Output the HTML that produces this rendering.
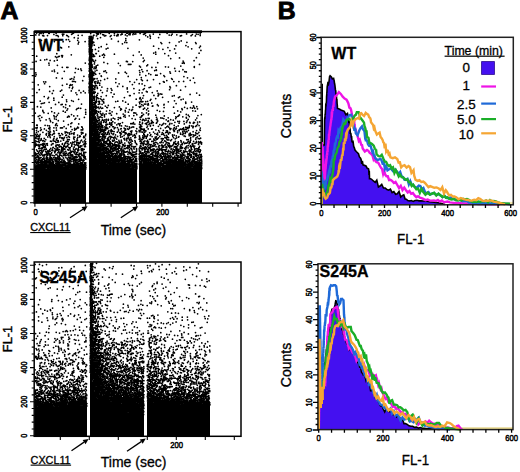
<!DOCTYPE html>
<html><head><meta charset="utf-8"><style>
html,body{margin:0;padding:0;background:#fff;width:520px;height:472px;overflow:hidden}
</style></head><body>
<svg width="520" height="472" viewBox="0 0 520 472" style="position:absolute;left:0;top:0">
<g font-family='"Liberation Sans", sans-serif' fill="#000">
<text x="0.4" y="19.4" font-size="24.8" font-weight="bold" stroke="#000" stroke-width="0.9">A</text>
<text x="277.8" y="19.4" font-size="24.8" font-weight="bold" stroke="#000" stroke-width="0.9">B</text>
<path d="M89 93.5h1M89 94.5h1M89 95.5h1M89 96.5h1M89 97.5h1M89 98.5h1M89 99.5h1M89 100.5h1M89 101.5h1M89 102.5h1M89 103.5h1M89 104.5h1M89 105.5h1M89 106.5h1M89 107.5h1M89 108.5h1M89 109.5h1M89 110.5h1M89 111.5h1M89 112.5h1M89 113.5h1M89 114.5h2M89 115.5h2M89 116.5h2M89 117.5h2M89 118.5h2M89 119.5h2M89 120.5h3M89 121.5h3M89 122.5h3M89 123.5h3M89 124.5h3M89 125.5h3M89 126.5h3M89 127.5h3M89 128.5h3M89 129.5h3M89 130.5h3M89 131.5h3M89 132.5h3M89 133.5h3M89 134.5h3M89 135.5h3M89 136.5h3M89 137.5h3M89 138.5h3M89 139.5h3M89 140.5h3M89 141.5h3M89 142.5h4M89 143.5h4M89 144.5h4M89 145.5h4M89 146.5h4M89 147.5h5M89 148.5h5M89 149.5h6M89 150.5h6M89 151.5h6M89 152.5h6M89 153.5h6M89 154.5h6M89 155.5h7M89 156.5h7M89 157.5h7M89 158.5h7M89 159.5h7M89 160.5h8M89 161.5h8M89 162.5h9M89 163.5h9M89 164.5h10M89 165.5h10m40 0h3M89 166.5h11m39 0h6M89 167.5h13m37 0h10M89 168.5h20m30 0h61M35 169.5h51m3 0h48m2 0h63M35 170.5h51m3 0h48m2 0h63M35 171.5h51m3 0h48m2 0h63M35 172.5h51m3 0h48m2 0h63M35 173.5h51m3 0h48m2 0h63M35 174.5h51m3 0h48m2 0h63M35 175.5h51m3 0h48m2 0h63M35 176.5h51m3 0h48m2 0h63M35 177.5h51m3 0h48m2 0h63M35 178.5h51m3 0h48m2 0h63M35 179.5h51m3 0h48m2 0h63M35 180.5h51m3 0h48m2 0h63M35 181.5h51m3 0h48m2 0h63M35 182.5h51m3 0h48m2 0h63M35 183.5h51m3 0h48m2 0h63M35 184.5h51m3 0h48m2 0h63M35 185.5h51m3 0h48m2 0h63M35 186.5h51m3 0h48m2 0h63M35 187.5h51m3 0h48m2 0h63M35 188.5h51m3 0h48m2 0h63M35 189.5h51m3 0h48m2 0h63M35 190.5h51m3 0h48m2 0h63M35 191.5h51m3 0h48m2 0h63M35 192.5h51m3 0h48m2 0h63M35 193.5h51m3 0h48m2 0h63M35 194.5h51m3 0h48m2 0h63M35 195.5h51m3 0h48m2 0h63M35 196.5h51m3 0h48m2 0h63M35 197.5h51m3 0h48m2 0h63M35 198.5h51m3 0h48m2 0h63M35 199.5h51m3 0h48m2 0h63M35 200.5h51m3 0h48m2 0h63M35 201.5h51m3 0h48m2 0h63M35 202.5h51m3 0h48m2 0h63" stroke="#000" stroke-width="1" fill="none" shape-rendering="crispEdges"/>
<path d="M36.6 33.1h0M39.5 33.1h0M41.1 33.4h0M43.3 33.6h0M48.8 33.3h0M49.2 33.3h0M56.1 33.2h0M72.4 33.7h0M73.5 33.1h0M90.7 33.6h0M96.5 33.2h0M97.1 33.7h0M98.3 33.4h0M100.5 33.5h0M109.2 33.3h0M114.4 33.4h0M121.9 33.8h0M126.6 33.1h0M127.2 33.2h0M129.1 33.2h0M130.4 33.1h0M133.3 33.4h0M135.8 33.9h0M140.1 33.4h0M144.9 33.5h0M145.5 33.1h0M167.1 33.3h0M186.6 33.9h0M200.2 33.9h0M35.8 34.9h0M39.1 34.9h0M53.9 34.4h0M62.4 34.2h0M63.8 34.2h0M71.6 34.3h0M97.2 34.4h0M98.3 34.1h0M102.7 34.6h0M103.8 34.9h0M117.5 34.4h0M118.3 34.6h0M120.9 34.8h0M122.3 34.1h0M125.4 34.9h0M128.9 34.6h0M130.1 34.7h0M132.9 34.6h0M134.8 34.1h0M143.5 34.3h0M144.2 34.1h0M153.3 34.1h0M159.8 34.4h0M172.2 34.1h0M176.8 34.8h0M192.4 34.5h0M196.3 34.1h0M198.1 34.3h0M42.7 35.6h0M43.8 35.9h0M47.5 35.5h0M56.2 35.4h0M57.8 35.6h0M62.8 35.7h0M66.7 35.3h0M67.3 35.7h0M78.2 35.3h0M82.1 35.3h0M93.9 35.2h0M96.5 35.8h0M104.5 35.9h0M105.8 35.5h0M111.1 35.5h0M114.4 35.3h0M116.7 35.8h0M117.9 35.7h0M127.1 35.8h0M145.7 35.5h0M149.9 35.2h0M169.2 35.1h0M171.3 35.3h0M180.3 35.9h0M181.5 35.6h0M191.1 35.7h0M195.4 35.9h0M200.2 35.5h0M58.3 36.5h0M68.5 36.7h0M89.2 36.7h0M89.9 36.5h0M90.3 36.4h0M91.2 36.4h0M93.1 36.1h0M110.3 36.4h0M147.7 36.9h0M150.3 36.5h0M74.3 37.7h0M89.7 37.4h0M89.3 37.9h0M90.6 37.4h0M91.9 37.4h0M93.1 37.9h0M100.5 37.6h0M158.6 37.5h0M78.1 38.2h0M89.1 38.4h0M89.4 38.3h0M90.6 38.2h0M91.2 38.9h0M92.1 38.6h0M97.6 38.6h0M111.5 38.9h0M125.8 38.7h0M150.3 38.3h0M46.3 39.3h0M66.2 39.7h0M68.5 39.5h0M89.4 39.4h0M90.1 39.8h0M90.2 39.3h0M91.5 39.4h0M92.5 39.5h0M139.4 39.8h0M41.4 40.4h0M77.7 40.3h0M89.1 40.8h0M90.2 40.8h0M91.1 40.9h0M92.1 40.2h0M125.8 40.5h0M181.2 40.9h0M54.4 41.6h0M63.1 41.7h0M69.7 41.3h0M85.1 41.6h0M89.1 41.3h0M90.8 41.5h0M90.4 41.6h0M91.7 41.2h0M92.6 41.6h0M118.3 41.4h0M179.1 41.9h0M78.7 42.2h0M89.1 42.9h0M90.5 42.4h0M91.6 42.2h0M92.7 42.5h0M93.8 42.3h0M124.8 42.4h0M126.8 42.5h0M160.9 42.5h0M169.5 42.5h0M186.9 42.3h0M195.6 42.6h0M78.2 43.9h0M89.3 43.7h0M89.5 43.9h0M90.3 43.5h0M91.3 43.3h0M92.6 43.9h0M122.4 43.8h0M161.7 43.6h0M196.1 43.6h0M89.1 44.3h0M90.7 44.2h0M91.3 44.6h0M106.7 44.3h0M89.2 45.8h0M90.3 45.4h0M91.1 45.8h0M92.1 45.8h0M94.3 45.2h0M175.9 45.7h0M185.9 45.6h0M68.8 46.8h0M89.3 46.5h0M90.8 46.9h0M91.8 46.1h0M101.2 46.7h0M153.6 46.2h0M188.1 46.8h0M200.4 46.2h0M60.6 47.4h0M61.5 47.9h0M89.7 47.7h0M90.4 47.5h0M91.4 47.3h0M98.8 47.5h0M167.9 47.6h0M199.5 47.6h0M89.2 48.8h0M90.7 48.8h0M91.5 48.9h0M106.2 48.9h0M107.9 48.2h0M127.9 48.3h0M158.7 48.6h0M174.6 48.9h0M191.7 48.8h0M89.3 49.4h0M89.4 49.1h0M90.6 49.1h0M90.7 49.3h0M91.3 49.8h0M91.6 49.8h0M92.4 49.8h0M95.4 49.4h0M162.9 49.3h0M89.3 50.5h0M89.5 50.7h0M90.7 50.2h0M91.9 50.9h0M169.9 50.5h0M200.9 50.4h0M89.2 51.5h0M89.5 51.9h0M90.7 51.4h0M91.7 51.9h0M92.1 51.6h0M98.5 51.1h0M139.2 51.9h0M89.4 52.9h0M89.3 52.1h0M90.7 52.7h0M91.2 52.3h0M155.6 52.2h0M56.8 53.7h0M89.9 53.7h0M90.4 53.7h0M91.8 53.2h0M91.2 53.6h0M92.1 53.8h0M95.9 53.5h0M96.3 53.6h0M153.7 53.1h0M164.8 53.6h0M175.7 53.1h0M199.1 53.2h0M71.3 54.8h0M89.5 54.6h0M90.4 54.9h0M91.1 54.2h0M93.3 54.7h0M103.7 54.2h0M114.4 54.2h0M141.2 54.9h0M155.8 54.2h0M61.6 55.5h0M62.5 55.7h0M89.9 55.4h0M90.9 55.3h0M91.9 55.5h0M93.8 55.2h0M102.4 55.2h0M104.6 55.3h0M133.3 55.3h0M168.5 55.7h0M36.7 56.2h0M55.5 56.7h0M58.2 56.7h0M59.3 56.3h0M62.2 56.9h0M89.7 56.4h0M90.8 56.8h0M90.6 56.2h0M91.8 56.8h0M92.6 56.6h0M93.2 56.6h0M94.6 56.3h0M99.7 56.2h0M56.7 57.6h0M89.4 57.8h0M89.8 57.8h0M90.2 57.9h0M91.6 57.1h0M103.8 57.3h0M179.5 57.9h0M196.4 57.7h0M89.4 58.4h0M90.2 58.8h0M91.8 58.7h0M143.2 58.1h0M170.7 58.6h0M44.8 59.8h0M46.8 59.4h0M89.2 59.8h0M89.7 59.3h0M90.6 59.1h0M91.2 59.6h0M92.9 59.9h0M40.5 60.2h0M50.1 60.4h0M54.4 60.9h0M57.2 60.2h0M89.3 60.2h0M89.2 60.6h0M90.2 60.5h0M91.4 60.5h0M91.1 60.4h0M92.7 60.3h0M95.5 60.4h0M144.3 60.4h0M194.1 60.7h0M36.1 61.4h0M89.8 61.6h0M90.7 61.3h0M90.4 61.1h0M91.5 61.7h0M93.4 61.1h0M126.4 61.4h0M127.4 61.7h0M132.7 61.6h0M143.3 61.6h0M183.1 61.1h0M89.6 62.8h0M90.4 62.8h0M91.4 62.5h0M94.6 62.1h0M103.9 62.4h0M157.7 62.7h0M183.8 62.3h0M48.9 63.2h0M85.3 63.1h0M89.8 63.9h0M89.1 63.7h0M90.9 63.4h0M90.1 63.9h0M91.4 63.4h0M94.4 63.9h0M107.6 63.6h0M118.4 63.3h0M182.4 63.2h0M184.2 63.3h0M89.1 64.2h0M90.4 64.4h0M91.6 64.4h0M92.2 64.9h0M128.4 64.4h0M129.8 64.4h0M130.9 64.3h0M147.7 64.8h0M199.5 64.4h0M49.1 65.1h0M57.4 65.3h0M89.5 65.9h0M90.6 65.9h0M90.5 65.5h0M91.9 65.6h0M96.3 65.8h0M97.8 65.1h0M120.3 65.5h0M146.8 65.8h0M89.8 66.8h0M89.8 66.2h0M90.5 66.4h0M90.8 66.7h0M91.9 66.2h0M92.6 66.9h0M96.1 66.5h0M139.5 66.1h0M165.5 66.8h0M180.8 66.1h0M194.3 66.6h0M62.3 67.3h0M66.8 67.3h0M67.9 67.3h0M89.8 67.6h0M89.9 67.8h0M90.7 67.3h0M91.4 67.5h0M92.6 67.4h0M94.7 67.1h0M96.2 67.5h0M140.5 67.1h0M151.9 67.4h0M155.9 67.3h0M168.4 67.1h0M194.3 67.3h0M75.7 68.4h0M80.8 68.9h0M89.3 68.3h0M90.5 68.4h0M90.8 68.8h0M91.2 68.6h0M94.1 68.7h0M95.8 68.6h0M174.7 68.4h0M78.3 69.2h0M89.8 69.4h0M89.6 69.3h0M90.2 69.4h0M90.4 69.5h0M91.4 69.8h0M91.3 69.9h0M141.8 69.5h0M156.3 69.8h0M182.9 69.7h0M54.3 70.1h0M81.4 70.4h0M89.3 70.3h0M89.9 70.6h0M90.1 70.5h0M91.9 70.1h0M96.9 70.3h0M105.4 70.9h0M139.5 70.6h0M147.1 70.7h0M154.7 70.6h0M156.4 70.3h0M52.1 71.1h0M54.5 71.6h0M64.3 71.3h0M89.3 71.3h0M90.1 71.4h0M90.1 71.9h0M91.8 71.1h0M92.7 71.8h0M95.1 71.1h0M103.9 71.4h0M142.7 71.7h0M169.9 71.8h0M175.5 71.1h0M179.3 71.3h0M184.8 71.7h0M186.3 71.9h0M35.8 72.8h0M75.1 72.6h0M89.8 72.9h0M90.7 72.6h0M91.7 72.2h0M92.3 72.8h0M93.7 72.5h0M106.5 72.5h0M118.6 72.9h0M125.2 72.2h0M139.9 72.5h0M57.6 73.1h0M89.8 73.2h0M90.5 73.9h0M91.2 73.2h0M92.8 73.1h0M93.9 73.3h0M94.8 73.2h0M99.6 73.6h0M126.5 73.3h0M148.8 73.7h0M160.6 73.6h0M170.4 73.2h0M36.1 74.6h0M89.5 74.6h0M89.2 74.7h0M90.3 74.8h0M91.7 74.5h0M92.1 74.4h0M93.9 74.9h0M95.8 74.3h0M139.8 74.8h0M150.8 74.6h0M89.7 75.6h0M89.8 75.7h0M90.6 75.6h0M90.1 75.4h0M91.4 75.6h0M91.7 75.8h0M92.4 75.5h0M93.2 75.2h0M101.2 75.9h0M145.8 75.6h0M155.7 75.2h0M157.1 75.2h0M163.9 75.5h0M35.5 76.1h0M83.9 76.3h0M89.1 76.2h0M89.8 76.5h0M90.3 76.5h0M90.3 76.9h0M91.3 76.6h0M91.5 76.6h0M92.5 76.3h0M101.4 76.3h0M128.2 76.4h0M164.6 76.5h0M183.9 76.6h0M56.4 77.9h0M74.3 77.1h0M89.7 77.4h0M89.3 77.7h0M90.2 77.3h0M90.1 77.1h0M91.2 77.9h0M91.7 77.8h0M92.5 77.9h0M141.3 77.5h0M187.5 77.8h0M62.2 78.4h0M71.8 78.7h0M89.9 78.7h0M90.2 78.3h0M90.5 78.1h0M91.2 78.9h0M92.9 78.2h0M93.4 78.8h0M94.8 78.5h0M97.1 78.7h0M107.5 78.3h0M115.8 78.9h0M171.6 78.5h0M193.4 78.1h0M70.2 79.2h0M73.8 79.1h0M89.5 79.6h0M90.6 79.9h0M90.8 79.9h0M91.4 79.4h0M92.1 79.3h0M93.9 79.4h0M104.6 79.4h0M136.7 79.6h0M141.4 79.5h0M153.5 79.5h0M172.3 79.3h0M82.7 80.7h0M89.7 80.8h0M89.9 80.4h0M90.4 80.5h0M91.1 80.6h0M92.4 80.8h0M93.2 80.1h0M98.1 80.9h0M100.6 80.5h0M142.4 80.6h0M147.3 80.4h0M166.8 80.5h0M190.2 80.3h0M43.7 81.8h0M45.7 81.9h0M72.5 81.4h0M73.9 81.3h0M75.4 81.8h0M89.5 81.7h0M90.7 81.4h0M91.9 81.9h0M92.4 81.4h0M94.5 81.9h0M95.9 81.6h0M129.9 81.5h0M163.4 81.6h0M173.8 81.5h0M178.9 81.6h0M183.6 81.4h0M89.5 82.2h0M89.9 82.1h0M90.2 82.8h0M90.5 82.1h0M91.5 82.8h0M92.3 82.3h0M94.9 82.7h0M97.5 82.7h0M98.1 82.7h0M115.8 82.5h0M134.5 82.3h0M164.2 82.2h0M194.7 82.7h0M44.6 83.7h0M89.1 83.2h0M89.2 83.7h0M90.2 83.9h0M91.9 83.8h0M95.4 83.7h0M97.5 83.2h0M99.7 83.2h0M119.1 83.8h0M139.2 83.7h0M142.1 83.9h0M159.7 83.5h0M38.2 84.8h0M66.9 84.2h0M70.4 84.6h0M72.3 84.8h0M89.6 84.3h0M89.6 84.4h0M90.8 84.1h0M91.5 84.5h0M91.6 84.8h0M92.1 84.2h0M132.4 84.5h0M62.4 85.3h0M69.8 85.5h0M71.1 85.1h0M89.8 85.3h0M90.8 85.1h0M91.6 85.6h0M91.8 85.5h0M92.5 85.5h0M93.7 85.8h0M95.4 85.7h0M96.5 85.7h0M99.7 85.2h0M144.7 85.6h0M176.4 85.7h0M49.7 86.5h0M89.1 86.8h0M89.3 86.3h0M90.7 86.2h0M90.3 86.6h0M91.7 86.7h0M91.6 86.2h0M92.6 86.3h0M94.9 86.5h0M117.6 86.4h0M122.8 86.4h0M169.9 86.7h0M185.5 86.5h0M69.4 87.5h0M72.7 87.2h0M89.1 87.5h0M89.4 87.4h0M90.3 87.7h0M90.3 87.9h0M91.3 87.2h0M92.4 87.2h0M94.5 87.6h0M95.1 87.8h0M97.3 87.4h0M101.9 87.1h0M127.2 87.8h0M149.1 87.5h0M150.6 87.1h0M170.4 87.8h0M72.3 88.6h0M89.3 88.4h0M89.7 88.7h0M90.4 88.6h0M90.9 88.5h0M91.6 88.5h0M92.6 88.9h0M93.5 88.9h0M97.4 88.4h0M107.5 88.7h0M111.1 88.5h0M127.2 88.9h0M133.9 88.5h0M144.3 88.6h0M39.3 89.7h0M89.4 89.7h0M89.9 89.7h0M90.3 89.1h0M91.4 89.1h0M91.9 89.3h0M92.7 89.6h0M94.7 89.6h0M143.2 89.6h0M169.6 89.7h0M53.4 90.7h0M61.8 90.1h0M71.3 90.9h0M79.1 90.4h0M89.1 90.3h0M89.6 90.3h0M90.3 90.6h0M90.6 90.1h0M91.2 90.5h0M91.5 90.3h0M92.8 90.8h0M100.7 90.3h0M107.1 90.9h0M111.9 90.2h0M139.4 90.2h0M157.2 90.9h0M180.6 90.2h0M49.7 91.4h0M60.4 91.2h0M83.5 91.2h0M89.2 91.7h0M89.5 91.6h0M90.8 91.7h0M90.7 91.2h0M91.2 91.5h0M92.3 91.1h0M93.9 91.5h0M127.7 91.8h0M146.4 91.4h0M147.2 91.9h0M36.9 92.6h0M75.9 92.8h0M80.9 92.7h0M85.2 92.8h0M89.2 92.1h0M89.2 92.8h0M90.8 92.9h0M91.4 92.8h0M91.9 92.4h0M92.3 92.7h0M93.4 92.7h0M95.2 92.2h0M102.4 92.6h0M111.1 92.6h0M139.1 92.8h0M142.1 92.8h0M152.3 92.5h0M52.3 93.4h0M90.6 93.5h0M90.9 93.5h0M91.3 93.4h0M92.8 93.2h0M93.3 93.3h0M94.4 93.6h0M97.8 93.4h0M134.1 93.6h0M158.1 93.4h0M160.2 93.9h0M196.7 93.1h0M76.9 94.5h0M90.5 94.8h0M91.4 94.3h0M91.9 94.6h0M92.2 94.5h0M114.1 94.2h0M158.6 94.9h0M161.8 94.2h0M190.1 94.4h0M63.4 95.1h0M90.4 95.2h0M90.6 95.9h0M91.6 95.7h0M92.3 95.2h0M96.8 95.2h0M97.2 95.4h0M106.3 95.7h0M129.5 95.5h0M130.2 95.5h0M143.5 95.6h0M153.9 95.4h0M158.1 95.9h0M174.2 95.7h0M199.5 95.2h0M44.2 96.5h0M90.6 96.3h0M90.6 96.5h0M91.2 96.5h0M91.4 96.2h0M92.5 96.2h0M93.5 96.9h0M94.4 96.1h0M96.2 96.5h0M101.1 96.5h0M112.7 96.8h0M172.3 96.1h0M179.7 96.8h0M48.5 97.4h0M62.2 97.2h0M90.6 97.9h0M90.5 97.1h0M91.5 97.1h0M91.2 97.3h0M92.9 97.2h0M93.5 97.1h0M94.5 97.4h0M96.6 97.6h0M97.6 97.9h0M124.4 97.5h0M140.1 97.6h0M162.6 97.3h0M178.5 97.5h0M47.9 98.6h0M53.8 98.2h0M90.3 98.5h0M91.9 98.8h0M91.1 98.5h0M92.8 98.9h0M93.7 98.7h0M94.4 98.9h0M98.7 98.5h0M100.6 98.8h0M139.7 98.7h0M140.4 98.2h0M142.8 98.1h0M155.7 98.5h0M66.5 99.8h0M78.6 99.3h0M90.9 99.9h0M91.6 99.5h0M91.9 99.9h0M92.2 99.5h0M96.5 99.2h0M101.9 99.8h0M103.7 99.4h0M136.2 99.2h0M141.2 99.9h0M150.9 99.3h0M181.1 99.7h0M183.2 99.1h0M53.9 100.2h0M71.6 100.6h0M90.4 100.2h0M91.3 100.1h0M91.8 100.5h0M92.6 100.6h0M94.2 100.3h0M96.2 100.6h0M102.4 100.9h0M122.8 100.9h0M150.2 100.3h0M174.5 100.8h0M40.2 101.1h0M66.7 101.5h0M73.3 101.3h0M90.2 101.4h0M90.1 101.9h0M91.7 101.4h0M92.1 101.7h0M95.6 101.7h0M96.2 101.6h0M98.2 101.4h0M99.5 101.4h0M103.6 101.9h0M115.7 101.6h0M117.8 101.2h0M140.7 101.5h0M141.9 101.8h0M142.9 101.6h0M145.7 101.7h0M147.6 101.3h0M168.3 101.8h0M44.4 102.8h0M49.1 102.3h0M58.8 102.4h0M90.4 102.5h0M90.3 102.3h0M91.8 102.9h0M91.8 102.3h0M92.2 102.9h0M93.8 102.5h0M94.7 102.5h0M96.2 102.3h0M99.2 102.6h0M103.8 102.9h0M125.6 102.2h0M139.4 102.2h0M185.7 102.2h0M191.6 102.1h0M41.3 103.6h0M42.9 103.3h0M90.1 103.7h0M90.2 103.9h0M91.5 103.5h0M91.9 103.7h0M92.3 103.9h0M94.2 103.1h0M95.7 103.1h0M99.7 103.9h0M139.8 103.7h0M148.2 103.5h0M151.8 103.1h0M176.1 103.5h0M185.8 103.3h0M55.5 104.4h0M61.1 104.7h0M62.2 104.4h0M65.7 104.7h0M81.5 104.1h0M90.3 104.9h0M90.3 104.3h0M91.4 104.8h0M91.2 104.5h0M92.2 104.5h0M93.2 104.5h0M94.5 104.7h0M95.1 104.1h0M98.3 104.3h0M102.1 104.3h0M128.2 104.2h0M141.8 104.6h0M144.4 104.1h0M145.8 104.1h0M147.7 104.9h0M148.4 104.9h0M157.4 104.7h0M163.9 104.9h0M164.1 104.3h0M69.7 105.9h0M90.7 105.7h0M90.8 105.8h0M91.3 105.7h0M92.9 105.1h0M95.6 105.4h0M108.3 105.4h0M136.1 105.2h0M143.2 105.7h0M152.8 105.9h0M158.3 105.8h0M193.5 105.8h0M37.4 106.7h0M63.5 106.8h0M90.6 106.2h0M90.1 106.5h0M91.8 106.1h0M92.9 106.3h0M93.3 106.8h0M94.3 106.6h0M95.3 106.1h0M96.2 106.2h0M105.3 106.1h0M119.4 106.9h0M139.2 106.5h0M140.8 106.4h0M152.4 106.2h0M196.8 106.7h0M40.8 107.1h0M51.2 107.9h0M65.6 107.7h0M90.8 107.2h0M90.3 107.3h0M91.8 107.6h0M91.7 107.8h0M92.8 107.5h0M94.5 107.7h0M95.4 107.5h0M96.5 107.8h0M97.7 107.3h0M98.5 107.2h0M100.5 107.2h0M106.8 107.4h0M107.4 107.6h0M114.4 107.5h0M132.9 107.1h0M139.8 107.3h0M164.1 107.5h0M173.6 107.2h0M184.6 107.3h0M190.5 107.7h0M193.9 107.1h0M67.7 108.8h0M77.1 108.5h0M78.6 108.2h0M80.7 108.3h0M90.3 108.1h0M90.4 108.6h0M91.9 108.7h0M92.1 108.7h0M93.4 108.2h0M95.8 108.3h0M99.1 108.6h0M101.3 108.3h0M102.6 108.2h0M120.7 108.5h0M126.1 108.1h0M144.6 108.2h0M147.8 108.3h0M181.9 108.7h0M187.3 108.4h0M192.4 108.2h0M194.8 108.3h0M197.5 108.8h0M76.4 109.6h0M85.6 109.7h0M90.1 109.2h0M90.3 109.2h0M91.1 109.4h0M91.1 109.1h0M92.6 109.4h0M93.4 109.9h0M94.2 109.5h0M95.1 109.8h0M121.4 109.2h0M129.4 109.7h0M132.5 109.4h0M143.4 109.2h0M146.6 109.8h0M182.3 109.7h0M42.8 110.3h0M66.9 110.3h0M90.9 110.7h0M91.5 110.3h0M91.3 110.2h0M92.6 110.7h0M94.6 110.5h0M95.4 110.3h0M96.5 110.5h0M109.8 110.5h0M120.6 110.1h0M125.2 110.3h0M131.6 110.4h0M157.2 110.3h0M177.7 110.9h0M192.8 110.8h0M42.9 111.4h0M51.8 111.6h0M63.2 111.2h0M90.2 111.5h0M91.1 111.9h0M92.1 111.7h0M93.4 111.1h0M94.7 111.7h0M95.2 111.3h0M96.6 111.3h0M98.3 111.6h0M100.4 111.3h0M106.5 111.1h0M112.1 111.8h0M125.4 111.8h0M148.5 111.1h0M159.7 111.3h0M163.5 111.4h0M180.7 111.9h0M195.4 111.2h0M43.9 112.7h0M54.5 112.9h0M65.3 112.2h0M85.7 112.2h0M90.5 112.2h0M90.5 112.3h0M91.6 112.9h0M91.7 112.6h0M92.1 112.3h0M93.1 112.8h0M94.6 112.3h0M95.4 112.3h0M96.3 112.9h0M98.7 112.2h0M128.4 112.2h0M133.8 112.9h0M134.6 112.8h0M141.9 112.9h0M146.5 112.9h0M35.3 113.1h0M48.2 113.3h0M58.5 113.3h0M90.1 113.7h0M90.9 113.1h0M91.3 113.7h0M91.7 113.8h0M92.2 113.3h0M94.2 113.5h0M95.1 113.8h0M96.8 113.1h0M97.2 113.8h0M100.4 113.4h0M102.9 113.3h0M106.1 113.9h0M109.2 113.3h0M110.4 113.3h0M116.7 113.7h0M135.8 113.1h0M148.7 113.8h0M174.4 113.2h0M71.5 114.5h0M85.7 114.2h0M91.3 114.8h0M91.9 114.5h0M92.9 114.8h0M93.3 114.6h0M97.5 114.3h0M101.3 114.3h0M104.3 114.5h0M123.2 114.1h0M136.8 114.7h0M143.5 114.4h0M148.3 114.8h0M179.4 114.9h0M186.3 114.4h0M201.3 114.6h0M39.9 115.6h0M53.9 115.7h0M57.3 115.1h0M73.8 115.9h0M77.5 115.8h0M91.6 115.3h0M92.5 115.4h0M93.4 115.6h0M94.5 115.1h0M97.2 115.6h0M101.4 115.1h0M102.3 115.1h0M104.4 115.6h0M111.4 115.2h0M124.9 115.2h0M129.2 115.8h0M133.8 115.6h0M141.7 115.9h0M142.4 115.6h0M155.8 115.2h0M164.3 115.9h0M178.5 115.9h0M188.3 115.2h0M197.9 115.5h0M38.3 116.4h0M54.5 116.9h0M56.3 116.7h0M68.5 116.2h0M69.3 116.7h0M91.1 116.9h0M92.5 116.8h0M93.9 116.1h0M94.2 116.9h0M95.3 116.8h0M97.9 116.2h0M100.7 116.8h0M104.5 116.8h0M123.7 116.4h0M141.3 116.9h0M175.8 116.8h0M177.8 116.3h0M182.8 116.8h0M189.3 116.6h0M41.8 117.3h0M67.5 117.2h0M84.4 117.4h0M91.5 117.9h0M91.7 117.4h0M92.4 117.4h0M93.8 117.8h0M94.7 117.6h0M95.8 117.8h0M97.9 117.9h0M99.5 117.2h0M102.1 117.5h0M118.3 117.6h0M120.4 117.5h0M125.3 117.1h0M140.1 117.3h0M156.5 117.3h0M160.8 117.9h0M168.2 117.8h0M176.2 117.2h0M186.3 117.4h0M39.5 118.7h0M49.4 118.7h0M54.5 118.8h0M75.8 118.3h0M91.4 118.3h0M91.1 118.5h0M92.7 118.4h0M93.8 118.3h0M94.3 118.8h0M95.7 118.7h0M98.6 118.3h0M113.2 118.2h0M114.8 118.9h0M119.9 118.1h0M120.7 118.3h0M132.1 118.5h0M145.9 118.6h0M148.1 118.3h0M149.2 118.4h0M162.3 118.1h0M163.8 118.5h0M175.7 118.5h0M186.4 118.1h0M196.8 118.1h0M46.1 119.8h0M56.3 119.3h0M74.9 119.3h0M79.4 119.1h0M91.7 119.4h0M91.2 119.4h0M92.6 119.8h0M93.5 119.6h0M94.5 119.4h0M96.4 119.3h0M99.4 119.7h0M102.7 119.5h0M104.8 119.9h0M106.4 119.4h0M108.4 119.4h0M111.3 119.1h0M118.2 119.6h0M135.3 119.3h0M140.5 119.3h0M142.9 119.3h0M143.8 119.7h0M156.5 119.5h0M157.3 119.1h0M166.2 119.8h0M170.7 119.7h0M188.2 119.4h0M195.6 119.9h0M40.4 120.5h0M50.3 120.3h0M58.3 120.7h0M92.8 120.5h0M93.5 120.7h0M94.2 120.7h0M95.9 120.2h0M97.3 120.7h0M98.2 120.5h0M99.1 120.9h0M102.2 120.2h0M103.5 120.6h0M108.2 120.2h0M111.3 120.2h0M142.4 120.6h0M144.6 120.6h0M146.1 120.1h0M148.2 120.5h0M151.5 120.4h0M157.7 120.9h0M168.5 120.9h0M173.3 120.2h0M187.1 120.9h0M50.6 121.7h0M63.6 121.1h0M92.3 121.5h0M93.3 121.1h0M94.9 121.6h0M95.2 121.4h0M96.1 121.7h0M97.2 121.5h0M101.1 121.6h0M104.1 121.5h0M106.3 121.2h0M112.8 121.7h0M139.8 121.9h0M148.8 121.9h0M152.5 121.9h0M167.9 121.2h0M168.1 121.4h0M177.8 121.4h0M179.5 121.4h0M183.9 121.4h0M199.7 121.9h0M52.8 122.5h0M71.9 122.8h0M92.9 122.5h0M93.1 122.1h0M93.8 122.8h0M94.3 122.6h0M95.5 122.5h0M97.9 122.6h0M99.7 122.8h0M101.3 122.9h0M103.6 122.3h0M105.7 122.4h0M106.3 122.8h0M109.8 122.6h0M111.7 122.5h0M114.9 122.8h0M122.5 122.5h0M133.4 122.6h0M139.8 122.2h0M142.5 122.9h0M147.7 122.1h0M151.5 122.4h0M153.3 122.5h0M156.9 122.4h0M174.9 122.3h0M186.5 122.4h0M189.7 122.3h0M190.1 122.9h0M193.6 122.4h0M194.5 122.5h0M197.6 122.1h0M56.5 123.7h0M70.9 123.5h0M78.7 123.9h0M92.5 123.6h0M92.4 123.1h0M93.8 123.4h0M94.7 123.2h0M95.6 123.8h0M96.1 123.2h0M98.5 123.3h0M100.3 123.5h0M109.6 123.3h0M111.3 123.5h0M118.3 123.7h0M120.2 123.7h0M130.8 123.7h0M131.9 123.5h0M133.2 123.8h0M142.3 123.7h0M145.4 123.5h0M146.6 123.2h0M149.9 123.7h0M151.7 123.4h0M156.4 123.2h0M163.7 123.4h0M165.6 123.8h0M169.9 123.4h0M171.9 123.5h0M179.1 123.2h0M184.3 123.9h0M193.3 123.3h0M55.8 124.3h0M68.3 124.7h0M92.6 124.1h0M93.5 124.2h0M94.4 124.1h0M95.6 124.2h0M96.5 124.6h0M97.2 124.5h0M98.6 124.4h0M100.5 124.3h0M101.2 124.6h0M105.9 124.9h0M106.2 124.8h0M107.6 124.3h0M109.5 124.2h0M110.7 124.8h0M111.9 124.2h0M116.8 124.8h0M119.3 124.2h0M134.8 124.1h0M139.5 124.2h0M140.6 124.9h0M146.7 124.3h0M148.9 124.3h0M159.8 124.5h0M162.7 124.4h0M169.5 124.6h0M197.6 124.1h0M36.7 125.2h0M37.2 125.2h0M45.1 125.3h0M47.6 125.5h0M49.4 125.8h0M55.5 125.4h0M57.3 125.6h0M92.9 125.4h0M92.7 125.5h0M93.2 125.5h0M94.5 125.5h0M96.1 125.4h0M97.1 125.7h0M99.2 125.2h0M100.9 125.1h0M101.5 125.2h0M102.7 125.7h0M106.1 125.6h0M111.5 125.2h0M119.7 125.6h0M121.5 125.9h0M125.4 125.8h0M150.4 125.5h0M153.3 125.3h0M161.7 125.3h0M174.2 125.3h0M178.2 125.9h0M189.5 125.7h0M191.8 125.9h0M196.7 125.7h0M199.1 125.6h0M64.1 126.5h0M70.8 126.7h0M81.7 126.8h0M92.5 126.6h0M92.1 126.4h0M93.6 126.9h0M94.7 126.2h0M95.9 126.7h0M96.6 126.6h0M97.5 126.9h0M98.7 126.1h0M99.2 126.1h0M100.4 126.9h0M101.4 126.3h0M102.2 126.4h0M104.8 126.8h0M109.7 126.8h0M112.6 126.7h0M113.5 126.8h0M127.1 126.4h0M129.3 126.8h0M132.9 126.9h0M140.3 126.2h0M141.7 126.4h0M147.5 126.1h0M150.4 126.1h0M158.4 126.3h0M166.8 126.8h0M167.7 126.1h0M176.3 126.8h0M193.3 126.4h0M195.6 126.4h0M35.9 127.9h0M37.2 127.3h0M40.6 127.8h0M49.9 127.3h0M53.9 127.8h0M56.3 127.9h0M60.5 127.9h0M61.5 127.9h0M62.5 127.8h0M77.7 127.1h0M78.4 127.8h0M82.2 127.2h0M92.2 127.9h0M92.3 127.8h0M93.1 127.7h0M93.9 127.8h0M94.9 127.6h0M95.9 127.6h0M96.3 127.3h0M97.9 127.6h0M98.7 127.1h0M101.9 127.5h0M102.9 127.4h0M105.3 127.5h0M106.7 127.4h0M115.1 127.7h0M117.4 127.7h0M131.4 127.4h0M133.7 127.1h0M139.6 127.1h0M140.3 127.1h0M146.9 127.3h0M165.4 127.8h0M168.7 127.1h0M174.3 127.7h0M183.6 127.9h0M185.8 127.2h0M186.3 127.5h0M187.9 127.4h0M188.7 127.9h0M189.2 127.2h0M192.9 127.7h0M36.9 128.5h0M44.4 128.9h0M48.7 128.4h0M49.9 128.1h0M66.2 128.4h0M74.6 128.4h0M76.9 128.3h0M82.8 128.9h0M92.6 128.3h0M92.9 128.3h0M93.8 128.5h0M94.9 128.4h0M95.4 128.4h0M96.5 128.1h0M98.3 128.4h0M99.9 128.1h0M100.5 128.5h0M105.4 128.2h0M106.9 128.7h0M107.8 128.4h0M114.2 128.7h0M120.8 128.9h0M121.2 128.5h0M124.1 128.1h0M125.4 128.8h0M127.6 128.9h0M129.7 128.1h0M136.7 128.7h0M140.4 128.3h0M141.1 128.3h0M148.2 128.9h0M152.3 128.8h0M160.6 128.4h0M169.7 128.3h0M170.9 128.7h0M176.4 128.5h0M182.7 128.9h0M187.5 128.2h0M200.3 128.1h0M41.3 129.5h0M49.9 129.9h0M72.1 129.5h0M75.9 129.3h0M81.2 129.9h0M82.6 129.9h0M92.3 129.2h0M92.6 129.2h0M93.5 129.4h0M94.5 129.8h0M95.8 129.2h0M96.4 129.3h0M97.2 129.8h0M98.6 129.5h0M99.9 129.9h0M100.9 129.7h0M101.2 129.9h0M102.4 129.3h0M104.1 129.4h0M105.6 129.9h0M111.3 129.5h0M118.5 129.3h0M125.6 129.8h0M128.6 129.3h0M140.9 129.8h0M141.2 129.6h0M142.2 129.2h0M143.8 129.2h0M144.3 129.1h0M151.7 129.1h0M155.8 129.8h0M170.1 129.6h0M173.4 129.2h0M175.3 129.1h0M179.2 129.7h0M180.6 129.1h0M181.8 129.4h0M183.7 129.5h0M185.4 129.3h0M186.4 129.5h0M199.8 129.8h0M36.5 130.5h0M40.5 130.4h0M46.4 130.3h0M53.7 130.8h0M56.5 130.2h0M74.6 130.1h0M92.6 130.4h0M92.2 130.4h0M93.5 130.9h0M94.5 130.2h0M94.6 130.4h0M95.3 130.3h0M96.9 130.5h0M97.1 130.5h0M99.7 130.4h0M100.6 130.9h0M101.2 130.5h0M102.9 130.6h0M104.4 130.1h0M105.5 130.3h0M108.9 130.6h0M110.9 130.4h0M111.7 130.5h0M112.1 130.8h0M118.5 130.8h0M124.7 130.1h0M125.1 130.2h0M131.9 130.9h0M135.9 130.9h0M139.1 130.4h0M140.4 130.4h0M143.6 130.5h0M144.5 130.3h0M145.9 130.9h0M158.7 130.6h0M163.3 130.3h0M166.4 130.8h0M167.4 130.9h0M173.5 130.1h0M174.5 130.9h0M177.6 130.9h0M179.3 130.5h0M188.4 130.3h0M196.6 130.6h0M200.3 130.3h0M38.3 131.5h0M48.3 131.7h0M50.4 131.9h0M54.1 131.8h0M65.1 131.8h0M70.9 131.5h0M92.2 131.3h0M92.4 131.2h0M93.4 131.2h0M93.5 131.1h0M94.2 131.5h0M94.3 131.9h0M95.5 131.8h0M96.3 131.6h0M97.9 131.5h0M98.1 131.6h0M100.7 131.7h0M101.2 131.5h0M102.1 131.6h0M103.6 131.9h0M104.3 131.1h0M108.3 131.5h0M110.9 131.8h0M112.5 131.2h0M114.1 131.5h0M121.5 131.1h0M123.6 131.7h0M124.1 131.5h0M130.6 131.3h0M131.1 131.8h0M136.9 131.8h0M139.3 131.7h0M141.1 131.9h0M174.1 131.4h0M182.7 131.3h0M184.4 131.1h0M186.1 131.6h0M187.1 131.8h0M193.1 131.7h0M36.5 132.6h0M42.9 132.3h0M49.3 132.1h0M65.2 132.9h0M66.6 132.2h0M67.5 132.8h0M69.2 132.9h0M74.3 132.8h0M81.3 132.4h0M82.8 132.5h0M92.4 132.4h0M92.4 132.5h0M93.8 132.8h0M94.1 132.8h0M95.8 132.3h0M96.6 132.6h0M97.4 132.8h0M99.3 132.5h0M100.3 132.6h0M103.8 132.9h0M104.2 132.9h0M105.3 132.9h0M107.4 132.9h0M108.7 132.3h0M117.3 132.2h0M119.7 132.7h0M120.8 132.8h0M123.1 132.2h0M124.7 132.6h0M125.8 132.7h0M131.4 132.6h0M142.7 132.2h0M144.8 132.2h0M149.7 132.8h0M153.5 132.1h0M159.5 132.1h0M162.3 132.5h0M165.7 132.6h0M167.2 132.2h0M169.1 132.4h0M170.1 132.8h0M177.6 132.6h0M182.9 132.6h0M185.2 132.9h0M195.7 132.7h0M198.9 132.3h0M46.5 133.6h0M48.9 133.6h0M49.3 133.2h0M53.4 133.8h0M54.4 133.6h0M58.6 133.6h0M59.2 133.5h0M61.8 133.5h0M69.4 133.1h0M71.4 133.7h0M73.2 133.4h0M82.9 133.2h0M92.2 133.6h0M92.3 133.3h0M93.5 133.2h0M94.1 133.3h0M95.3 133.2h0M96.5 133.8h0M97.6 133.3h0M98.1 133.9h0M102.6 133.8h0M105.2 133.3h0M107.6 133.1h0M109.5 133.8h0M111.7 133.4h0M113.6 133.5h0M120.6 133.5h0M121.4 133.9h0M125.4 133.9h0M126.2 133.4h0M128.5 133.6h0M129.7 133.5h0M136.4 133.7h0M143.7 133.5h0M154.9 133.5h0M157.6 133.1h0M163.5 133.6h0M168.3 133.7h0M180.5 133.1h0M183.4 133.7h0M185.3 133.4h0M190.2 133.2h0M196.2 133.6h0M197.7 133.7h0M35.5 134.3h0M37.5 134.4h0M40.1 134.4h0M46.1 134.4h0M50.2 134.3h0M52.2 134.9h0M62.6 134.6h0M69.6 134.3h0M73.9 134.4h0M81.5 134.1h0M85.8 134.2h0M92.3 134.7h0M92.3 134.4h0M93.2 134.1h0M94.6 134.6h0M94.7 134.8h0M95.1 134.1h0M97.1 134.6h0M98.2 134.4h0M99.4 134.3h0M101.4 134.1h0M102.7 134.1h0M103.3 134.6h0M104.5 134.6h0M106.5 134.6h0M107.2 134.2h0M109.2 134.4h0M113.1 134.6h0M115.5 134.9h0M127.7 134.3h0M128.4 134.2h0M130.8 134.6h0M131.7 134.4h0M134.4 134.6h0M143.8 134.2h0M144.3 134.7h0M147.7 134.7h0M150.8 134.7h0M156.7 134.3h0M157.8 134.9h0M161.6 134.3h0M163.2 134.3h0M168.5 134.1h0M172.5 134.9h0M180.6 134.2h0M182.5 134.6h0M189.1 134.2h0M190.7 134.6h0M191.9 134.5h0M193.7 134.9h0M36.3 135.7h0M38.7 135.8h0M39.5 135.9h0M46.4 135.1h0M48.8 135.2h0M49.7 135.6h0M59.5 135.7h0M60.4 135.7h0M65.8 135.4h0M66.5 135.2h0M77.6 135.1h0M79.8 135.8h0M85.5 135.7h0M92.3 135.1h0M92.2 135.1h0M93.3 135.5h0M94.9 135.8h0M95.6 135.1h0M96.4 135.9h0M97.7 135.8h0M98.4 135.6h0M99.2 135.1h0M102.8 135.2h0M103.3 135.8h0M120.4 135.4h0M124.1 135.4h0M127.9 135.8h0M128.5 135.7h0M129.3 135.3h0M134.1 135.4h0M135.3 135.8h0M139.4 135.8h0M142.8 135.8h0M144.7 135.8h0M147.2 135.9h0M150.2 135.6h0M164.4 135.3h0M166.4 135.4h0M174.3 135.1h0M176.3 135.9h0M184.1 135.9h0M189.2 135.7h0M190.6 135.4h0M194.5 135.6h0M195.5 135.2h0M199.4 135.5h0M36.7 136.7h0M37.4 136.5h0M38.2 136.4h0M39.4 136.5h0M47.8 136.9h0M49.9 136.4h0M54.3 136.6h0M68.4 136.3h0M79.6 136.9h0M80.3 136.2h0M83.8 136.4h0M92.9 136.9h0M92.9 136.8h0M93.6 136.3h0M93.5 136.3h0M94.9 136.2h0M95.3 136.4h0M95.5 136.3h0M96.2 136.4h0M98.8 136.4h0M99.4 136.5h0M100.6 136.7h0M102.6 136.2h0M103.8 136.2h0M104.1 136.3h0M105.5 136.4h0M109.3 136.5h0M110.7 136.3h0M114.9 136.9h0M117.6 136.4h0M122.4 136.6h0M132.8 136.1h0M139.5 136.7h0M144.4 136.8h0M145.7 136.4h0M146.7 136.7h0M152.1 136.6h0M156.4 136.9h0M159.8 136.4h0M167.2 136.4h0M172.8 136.3h0M178.9 136.6h0M185.3 136.4h0M193.1 136.7h0M197.4 136.8h0M35.6 137.3h0M50.3 137.6h0M59.8 137.5h0M61.5 137.8h0M62.5 137.8h0M64.4 137.4h0M66.9 137.5h0M69.4 137.2h0M73.7 137.1h0M74.9 137.1h0M77.8 137.4h0M83.6 137.6h0M84.5 137.3h0M92.3 137.4h0M92.7 137.8h0M93.5 137.4h0M93.6 137.6h0M94.5 137.9h0M95.9 137.2h0M96.5 137.3h0M97.6 137.6h0M98.7 137.5h0M99.4 137.9h0M102.2 137.1h0M103.9 137.1h0M105.1 137.9h0M108.2 137.8h0M110.7 137.6h0M111.9 137.2h0M113.5 137.8h0M114.3 137.4h0M115.6 137.8h0M120.7 137.2h0M128.5 137.4h0M130.8 137.9h0M134.8 137.7h0M135.7 137.3h0M139.8 137.4h0M142.7 137.7h0M143.2 137.2h0M155.2 137.2h0M158.5 137.8h0M164.9 137.4h0M165.8 137.7h0M167.1 137.6h0M168.5 137.7h0M173.5 137.7h0M176.5 137.9h0M178.5 137.2h0M190.7 137.6h0M196.1 137.8h0M35.2 138.5h0M36.1 138.4h0M37.9 138.8h0M38.6 138.7h0M39.1 138.2h0M41.2 138.7h0M44.2 138.4h0M53.9 138.4h0M57.1 138.3h0M62.2 138.5h0M63.8 138.6h0M73.7 138.3h0M77.1 138.9h0M92.9 138.3h0M92.4 138.1h0M93.2 138.8h0M93.3 138.2h0M94.5 138.3h0M95.8 138.2h0M96.2 138.9h0M97.8 138.2h0M98.3 138.9h0M101.9 138.6h0M102.9 138.4h0M104.9 138.3h0M107.4 138.5h0M110.4 138.9h0M113.9 138.2h0M123.9 138.7h0M124.5 138.4h0M126.7 138.3h0M127.4 138.3h0M129.1 138.9h0M139.9 138.5h0M143.7 138.4h0M146.2 138.2h0M153.9 138.9h0M155.7 138.2h0M156.5 138.9h0M157.5 138.8h0M161.3 138.7h0M162.5 138.6h0M163.4 138.8h0M166.2 138.1h0M175.2 138.8h0M190.5 138.5h0M198.2 138.6h0M199.6 138.8h0M200.6 138.2h0M38.7 139.8h0M41.4 139.9h0M45.7 139.7h0M53.4 139.4h0M56.4 139.4h0M67.6 139.6h0M68.9 139.6h0M69.3 139.6h0M74.1 139.3h0M85.4 139.1h0M92.4 139.1h0M92.4 139.6h0M93.9 139.4h0M94.9 139.3h0M94.2 139.9h0M95.3 139.8h0M96.6 139.4h0M97.9 139.3h0M98.2 139.5h0M99.5 139.8h0M100.5 139.5h0M102.5 139.4h0M104.1 139.9h0M107.6 139.2h0M108.4 139.3h0M114.2 139.8h0M116.7 139.1h0M124.7 139.9h0M126.6 139.3h0M129.9 139.6h0M131.4 139.9h0M139.2 139.2h0M141.2 139.3h0M142.4 139.6h0M149.5 139.3h0M150.4 139.1h0M153.9 139.5h0M156.4 139.5h0M157.2 139.2h0M166.9 139.5h0M167.8 139.9h0M168.8 139.9h0M171.6 139.5h0M186.7 139.7h0M188.2 139.5h0M195.7 139.2h0M35.3 140.8h0M40.3 140.4h0M42.8 140.9h0M43.7 140.7h0M53.2 140.6h0M56.8 140.1h0M58.2 140.6h0M63.5 140.2h0M76.9 140.6h0M77.5 140.4h0M80.9 140.8h0M81.6 140.1h0M84.6 140.8h0M92.6 140.4h0M93.8 140.6h0M94.6 140.9h0M94.7 140.6h0M95.8 140.7h0M95.9 140.7h0M96.5 140.2h0M97.8 140.3h0M98.3 140.8h0M99.2 140.9h0M100.8 140.9h0M102.3 140.4h0M107.5 140.7h0M108.6 140.1h0M109.5 140.9h0M112.5 140.3h0M114.4 140.3h0M118.9 140.3h0M121.3 140.2h0M126.7 140.7h0M129.7 140.4h0M134.9 140.5h0M140.5 140.7h0M144.9 140.9h0M147.4 140.3h0M154.9 140.3h0M162.2 140.4h0M164.6 140.9h0M170.7 140.7h0M180.8 140.6h0M190.8 140.1h0M36.5 141.3h0M37.1 141.6h0M38.7 141.6h0M44.8 141.5h0M50.5 141.2h0M51.5 141.4h0M54.1 141.1h0M55.4 141.3h0M58.5 141.9h0M60.8 141.1h0M66.5 141.4h0M67.7 141.3h0M68.3 141.5h0M74.9 141.3h0M82.9 141.9h0M85.6 141.6h0M92.1 141.9h0M92.4 141.7h0M93.3 141.7h0M93.2 141.5h0M94.3 141.8h0M94.8 141.3h0M95.6 141.2h0M96.2 141.8h0M97.9 141.5h0M98.9 141.1h0M99.4 141.3h0M103.5 141.2h0M104.9 141.6h0M106.5 141.4h0M109.5 141.7h0M110.3 141.7h0M112.7 141.2h0M113.1 141.2h0M116.4 141.8h0M119.4 141.6h0M121.4 141.4h0M132.3 141.2h0M135.2 141.6h0M139.9 141.1h0M140.2 141.6h0M141.1 141.1h0M143.6 141.6h0M146.9 141.5h0M147.7 141.1h0M148.5 141.8h0M151.8 141.4h0M153.3 141.1h0M161.3 141.8h0M165.5 141.4h0M175.4 141.4h0M178.3 141.9h0M181.1 141.1h0M188.2 141.4h0M190.1 141.2h0M193.6 141.4h0M196.4 141.3h0M198.6 141.6h0M200.5 141.6h0M35.1 142.5h0M39.2 142.4h0M55.9 142.5h0M57.4 142.1h0M65.7 142.3h0M70.7 142.9h0M72.6 142.2h0M73.9 142.4h0M76.5 142.3h0M77.2 142.6h0M78.2 142.7h0M80.1 142.3h0M85.1 142.3h0M93.8 142.4h0M94.6 142.7h0M95.2 142.2h0M96.9 142.4h0M97.3 142.6h0M97.3 142.8h0M98.8 142.4h0M99.5 142.1h0M101.2 142.4h0M103.8 142.3h0M104.1 142.2h0M106.8 142.1h0M109.8 142.6h0M110.4 142.3h0M115.1 142.2h0M117.8 142.2h0M119.7 142.5h0M121.8 142.7h0M128.5 142.1h0M129.2 142.9h0M130.8 142.2h0M135.3 142.6h0M141.8 142.4h0M143.9 142.2h0M153.9 142.9h0M155.5 142.4h0M156.7 142.6h0M159.9 142.6h0M160.9 142.6h0M161.1 142.6h0M163.1 142.7h0M166.5 142.4h0M167.9 142.9h0M173.9 142.4h0M174.5 142.9h0M181.2 142.1h0M183.6 142.2h0M187.7 142.4h0M189.8 142.4h0M190.3 142.2h0M195.8 142.8h0M196.7 142.6h0M198.9 142.5h0M200.3 142.6h0M201.6 142.7h0M42.9 143.6h0M43.3 143.3h0M44.1 143.9h0M46.5 143.8h0M47.3 143.5h0M52.3 143.8h0M53.1 143.7h0M62.4 143.5h0M64.9 143.3h0M65.4 143.1h0M67.3 143.4h0M72.2 143.8h0M76.8 143.3h0M78.8 143.8h0M79.6 143.2h0M84.4 143.6h0M85.9 143.7h0M93.3 143.4h0M93.9 143.2h0M94.8 143.3h0M95.6 143.9h0M96.4 143.4h0M97.6 143.2h0M98.1 143.1h0M99.5 143.9h0M100.7 143.5h0M101.5 143.8h0M103.1 143.4h0M104.9 143.2h0M105.6 143.1h0M106.3 143.7h0M107.3 143.7h0M108.4 143.8h0M109.8 143.5h0M111.2 143.2h0M112.2 143.5h0M114.5 143.9h0M118.3 143.8h0M119.8 143.6h0M120.2 143.2h0M124.8 143.1h0M129.4 143.5h0M131.8 143.8h0M136.4 143.7h0M140.6 143.5h0M141.5 143.5h0M142.7 143.6h0M144.1 143.5h0M147.7 143.1h0M148.1 143.2h0M153.6 143.3h0M154.1 143.9h0M157.9 143.9h0M165.9 143.8h0M168.8 143.2h0M169.3 143.3h0M173.8 143.2h0M175.9 143.6h0M177.8 143.1h0M182.5 143.5h0M184.6 143.5h0M185.3 143.2h0M186.7 143.2h0M189.2 143.7h0M192.9 143.5h0M194.9 143.3h0M198.8 143.8h0M201.3 143.3h0M35.8 144.2h0M36.2 144.2h0M38.1 144.7h0M40.2 144.6h0M41.4 144.6h0M42.4 144.2h0M43.8 144.1h0M44.9 144.1h0M51.4 144.9h0M57.4 144.9h0M59.3 144.8h0M62.3 144.3h0M64.5 144.6h0M68.8 144.2h0M71.8 144.8h0M74.2 144.3h0M76.6 144.7h0M83.5 144.5h0M84.3 144.8h0M93.8 144.5h0M93.2 144.6h0M94.5 144.5h0M95.9 144.9h0M96.4 144.7h0M97.6 144.1h0M97.2 144.3h0M98.4 144.7h0M99.4 144.5h0M100.8 144.4h0M101.5 144.4h0M102.8 144.5h0M103.3 144.7h0M104.3 144.9h0M107.6 144.3h0M108.6 144.2h0M109.6 144.4h0M110.6 144.8h0M112.7 144.5h0M114.4 144.1h0M115.5 144.5h0M116.7 144.9h0M122.6 144.7h0M123.6 144.6h0M130.7 144.7h0M136.8 144.6h0M143.5 144.6h0M145.7 144.3h0M146.4 144.6h0M147.2 144.1h0M148.8 144.8h0M149.5 144.4h0M151.1 144.6h0M155.4 144.5h0M161.9 144.9h0M165.3 144.6h0M167.7 144.9h0M173.4 144.4h0M175.6 144.2h0M176.4 144.4h0M178.7 144.1h0M181.5 144.4h0M182.3 144.7h0M192.1 144.1h0M198.5 144.4h0M201.5 144.1h0M35.4 145.5h0M36.8 145.1h0M38.4 145.8h0M39.5 145.2h0M42.8 145.2h0M43.2 145.4h0M45.4 145.5h0M47.4 145.2h0M56.1 145.2h0M58.4 145.4h0M63.9 145.6h0M67.8 145.4h0M71.7 145.2h0M75.1 145.1h0M77.5 145.2h0M78.6 145.9h0M80.5 145.9h0M81.9 145.8h0M85.2 145.1h0M93.7 145.4h0M94.7 145.1h0M95.4 145.4h0M96.3 145.6h0M97.8 145.2h0M98.7 145.3h0M99.6 145.5h0M100.7 145.8h0M101.1 145.5h0M102.7 145.7h0M103.5 145.6h0M104.6 145.1h0M105.4 145.5h0M108.5 145.7h0M110.4 145.2h0M112.6 145.8h0M113.4 145.1h0M114.4 145.5h0M117.8 145.7h0M118.8 145.4h0M119.6 145.5h0M122.9 145.1h0M123.7 145.2h0M125.4 145.4h0M127.6 145.6h0M128.9 145.5h0M129.9 145.4h0M140.4 145.6h0M143.3 145.4h0M150.7 145.8h0M152.9 145.4h0M154.5 145.8h0M158.9 145.9h0M159.8 145.7h0M161.8 145.4h0M163.2 145.9h0M164.9 145.2h0M168.6 145.5h0M169.6 145.2h0M170.1 145.6h0M171.9 145.9h0M172.9 145.1h0M177.8 145.7h0M180.7 145.1h0M188.3 145.5h0M190.5 145.5h0M192.5 145.8h0M193.1 145.2h0M35.2 146.7h0M39.5 146.6h0M43.5 146.5h0M44.2 146.6h0M55.7 146.1h0M56.2 146.8h0M59.3 146.9h0M60.4 146.3h0M61.2 146.7h0M63.8 146.5h0M65.1 146.3h0M66.8 146.4h0M67.7 146.3h0M71.7 146.2h0M74.3 146.9h0M78.5 146.4h0M80.6 146.4h0M84.6 146.6h0M85.5 146.6h0M93.2 146.4h0M93.7 146.2h0M94.3 146.6h0M94.1 146.4h0M95.8 146.7h0M96.2 146.4h0M97.6 146.8h0M98.1 146.8h0M99.8 146.6h0M100.4 146.6h0M101.1 146.6h0M102.4 146.6h0M103.7 146.7h0M107.7 146.3h0M109.4 146.5h0M110.7 146.9h0M111.3 146.2h0M112.6 146.1h0M115.6 146.3h0M117.2 146.1h0M118.7 146.9h0M119.8 146.2h0M122.8 146.8h0M124.7 146.4h0M129.4 146.4h0M131.8 146.2h0M132.1 146.6h0M133.9 146.6h0M134.4 146.8h0M135.5 146.5h0M140.5 146.2h0M141.1 146.2h0M145.6 146.8h0M147.7 146.1h0M150.4 146.3h0M152.4 146.4h0M153.1 146.3h0M156.1 146.7h0M158.4 146.9h0M162.2 146.8h0M163.2 146.4h0M166.6 146.5h0M168.7 146.4h0M169.8 146.4h0M171.3 146.6h0M174.6 146.7h0M175.3 146.7h0M176.8 146.5h0M180.4 146.6h0M181.5 146.8h0M186.8 146.1h0M190.2 146.5h0M191.3 146.9h0M193.2 146.3h0M194.7 146.1h0M199.5 146.3h0M42.1 147.6h0M43.3 147.3h0M44.4 147.2h0M45.4 147.2h0M52.8 147.8h0M53.2 147.4h0M57.6 147.9h0M62.6 147.7h0M63.1 147.9h0M65.9 147.4h0M68.9 147.6h0M70.3 147.7h0M78.8 147.3h0M80.1 147.2h0M94.1 147.7h0M94.3 147.6h0M95.7 147.4h0M95.6 147.5h0M96.4 147.7h0M97.1 147.3h0M98.5 147.4h0M99.9 147.1h0M100.1 147.5h0M101.1 147.2h0M102.9 147.3h0M103.6 147.8h0M104.7 147.4h0M105.8 147.6h0M106.7 147.1h0M110.3 147.9h0M111.5 147.3h0M112.2 147.9h0M113.9 147.4h0M115.1 147.6h0M116.1 147.2h0M118.6 147.4h0M119.1 147.1h0M121.9 147.1h0M126.7 147.8h0M127.7 147.1h0M129.2 147.5h0M133.9 147.2h0M139.7 147.2h0M142.5 147.8h0M143.1 147.6h0M144.8 147.2h0M146.6 147.9h0M148.5 147.6h0M149.5 147.5h0M150.7 147.2h0M162.2 147.5h0M163.3 147.1h0M165.2 147.1h0M166.9 147.5h0M169.8 147.7h0M174.1 147.1h0M175.9 147.6h0M176.6 147.6h0M180.3 147.2h0M181.3 147.4h0M182.6 147.8h0M185.8 147.2h0M186.3 147.8h0M188.1 147.8h0M194.1 147.6h0M198.8 147.7h0M199.2 147.6h0M38.8 148.4h0M39.2 148.3h0M40.9 148.4h0M41.7 148.8h0M42.3 148.6h0M46.1 148.9h0M50.8 148.3h0M54.8 148.5h0M57.8 148.8h0M61.7 148.2h0M63.1 148.6h0M64.6 148.9h0M69.6 148.3h0M73.5 148.1h0M76.1 148.5h0M78.2 148.7h0M81.4 148.5h0M82.7 148.5h0M94.8 148.8h0M94.3 148.1h0M95.9 148.7h0M95.1 148.9h0M96.1 148.2h0M97.4 148.1h0M97.4 148.9h0M98.4 148.4h0M99.4 148.7h0M100.3 148.5h0M101.3 148.8h0M102.5 148.4h0M103.6 148.9h0M104.5 148.3h0M105.2 148.8h0M106.3 148.6h0M107.1 148.7h0M108.1 148.3h0M110.6 148.5h0M111.1 148.8h0M112.6 148.6h0M113.4 148.1h0M114.1 148.5h0M115.3 148.6h0M117.1 148.6h0M118.6 148.6h0M119.9 148.2h0M121.7 148.7h0M124.2 148.6h0M125.5 148.5h0M127.9 148.6h0M130.9 148.2h0M133.9 148.6h0M136.5 148.7h0M139.2 148.9h0M140.8 148.4h0M141.2 148.4h0M142.9 148.4h0M143.9 148.7h0M145.1 148.1h0M146.8 148.7h0M148.9 148.3h0M150.1 148.5h0M153.1 148.9h0M159.4 148.1h0M161.3 148.5h0M171.5 148.9h0M175.9 148.3h0M177.1 148.1h0M180.2 148.7h0M181.7 148.4h0M184.7 148.3h0M191.2 148.4h0M194.8 148.9h0M196.2 148.6h0M197.2 148.9h0M36.5 149.8h0M44.5 149.2h0M45.1 149.5h0M46.3 149.4h0M49.8 149.5h0M52.4 149.6h0M55.9 149.9h0M56.5 149.2h0M58.9 149.9h0M59.2 149.5h0M61.6 149.7h0M62.5 149.9h0M63.4 149.5h0M64.9 149.3h0M67.7 149.6h0M70.1 149.8h0M73.6 149.5h0M75.9 149.2h0M77.9 149.7h0M78.8 149.9h0M81.2 149.5h0M82.2 149.7h0M83.2 149.8h0M84.2 149.3h0M95.6 149.4h0M95.8 149.1h0M96.1 149.6h0M96.9 149.7h0M97.5 149.6h0M98.9 149.2h0M99.6 149.3h0M100.5 149.7h0M101.6 149.7h0M102.6 149.4h0M104.7 149.2h0M105.1 149.5h0M106.8 149.7h0M107.8 149.7h0M108.5 149.7h0M110.3 149.9h0M112.4 149.7h0M114.1 149.4h0M115.8 149.2h0M116.7 149.4h0M118.1 149.5h0M120.9 149.4h0M121.7 149.2h0M129.6 149.6h0M131.8 149.2h0M134.1 149.1h0M136.6 149.9h0M142.1 149.9h0M144.6 149.9h0M145.4 149.5h0M147.6 149.5h0M148.2 149.5h0M150.7 149.5h0M151.3 149.6h0M152.6 149.5h0M153.3 149.1h0M154.3 149.2h0M156.4 149.7h0M157.3 149.2h0M158.1 149.4h0M160.1 149.5h0M161.5 149.5h0M162.4 149.7h0M163.2 149.5h0M164.5 149.9h0M165.3 149.6h0M166.5 149.1h0M171.1 149.2h0M173.2 149.1h0M174.6 149.9h0M175.8 149.9h0M177.1 149.3h0M178.6 149.3h0M185.5 149.5h0M189.5 149.8h0M191.9 149.3h0M194.6 149.5h0M197.9 149.1h0M198.5 149.2h0M199.5 149.5h0M200.2 149.8h0M39.9 150.4h0M41.4 150.7h0M43.4 150.4h0M47.9 150.7h0M48.5 150.9h0M51.9 150.3h0M52.7 150.6h0M55.8 150.5h0M57.4 150.1h0M61.2 150.1h0M68.5 150.1h0M74.9 150.2h0M77.8 150.2h0M78.3 150.6h0M81.4 150.7h0M82.6 150.5h0M95.1 150.1h0M95.9 150.9h0M96.3 150.8h0M97.5 150.4h0M98.3 150.2h0M98.1 150.4h0M99.5 150.4h0M100.3 150.6h0M101.1 150.8h0M102.4 150.1h0M103.2 150.4h0M104.9 150.7h0M105.5 150.8h0M106.4 150.7h0M108.5 150.6h0M109.1 150.6h0M110.4 150.3h0M112.3 150.6h0M113.4 150.7h0M114.3 150.5h0M115.9 150.8h0M118.3 150.6h0M119.2 150.8h0M120.9 150.6h0M121.6 150.8h0M122.9 150.5h0M123.2 150.1h0M132.1 150.8h0M139.5 150.7h0M147.9 150.5h0M150.4 150.4h0M151.7 150.2h0M153.2 150.6h0M155.2 150.7h0M158.6 150.3h0M159.3 150.2h0M161.5 150.2h0M165.5 150.6h0M168.6 150.4h0M172.5 150.8h0M176.8 150.9h0M177.4 150.5h0M178.8 150.1h0M181.1 150.5h0M183.5 150.9h0M188.9 150.9h0M190.1 150.8h0M191.1 150.1h0M194.7 150.2h0M196.6 150.9h0M198.1 150.6h0M200.6 150.3h0M37.5 151.2h0M39.3 151.1h0M41.5 151.1h0M42.9 151.2h0M45.6 151.5h0M47.3 151.5h0M49.5 151.7h0M50.1 151.2h0M54.5 151.1h0M55.3 151.6h0M58.6 151.7h0M61.2 151.2h0M62.9 151.2h0M65.8 151.3h0M70.7 151.1h0M71.9 151.5h0M72.3 151.4h0M73.4 151.5h0M75.1 151.6h0M95.4 151.2h0M95.2 151.2h0M96.6 151.8h0M96.1 151.7h0M97.4 151.9h0M97.1 151.8h0M98.8 151.1h0M98.6 151.7h0M99.6 151.7h0M100.5 151.5h0M101.2 151.1h0M102.8 151.8h0M103.8 151.4h0M104.5 151.4h0M106.5 151.5h0M107.1 151.7h0M108.1 151.5h0M109.7 151.2h0M111.2 151.9h0M112.7 151.7h0M113.5 151.1h0M116.6 151.7h0M117.8 151.7h0M118.5 151.7h0M121.5 151.9h0M123.2 151.9h0M124.2 151.1h0M126.3 151.9h0M127.4 151.4h0M129.4 151.1h0M136.4 151.5h0M139.6 151.7h0M140.6 151.7h0M144.7 151.6h0M145.2 151.4h0M146.6 151.5h0M148.3 151.2h0M150.8 151.1h0M154.6 151.9h0M155.5 151.9h0M157.2 151.5h0M158.3 151.5h0M162.2 151.1h0M165.3 151.5h0M166.8 151.3h0M168.9 151.4h0M170.6 151.3h0M173.4 151.8h0M174.6 151.1h0M176.4 151.9h0M178.7 151.4h0M180.3 151.2h0M184.6 151.3h0M185.5 151.3h0M186.6 151.5h0M187.2 151.8h0M189.8 151.9h0M190.8 151.7h0M193.4 151.7h0M195.2 151.5h0M197.1 151.1h0M198.7 151.6h0M200.2 151.7h0M35.1 152.5h0M38.6 152.6h0M40.5 152.8h0M41.7 152.9h0M42.3 152.7h0M46.5 152.9h0M48.5 152.1h0M51.7 152.6h0M54.8 152.7h0M57.9 152.7h0M59.9 152.4h0M60.7 152.6h0M61.3 152.5h0M63.1 152.9h0M64.8 152.1h0M69.3 152.5h0M70.7 152.7h0M71.3 152.3h0M74.2 152.8h0M76.5 152.5h0M77.6 152.1h0M83.8 152.2h0M84.9 152.7h0M85.8 152.3h0M95.2 152.8h0M95.5 152.5h0M96.5 152.5h0M96.6 152.5h0M97.3 152.6h0M97.3 152.2h0M98.2 152.2h0M99.9 152.8h0M100.1 152.7h0M101.4 152.8h0M102.8 152.3h0M103.7 152.5h0M104.7 152.3h0M105.7 152.6h0M106.1 152.5h0M107.7 152.9h0M109.3 152.5h0M111.2 152.9h0M116.7 152.5h0M118.8 152.7h0M119.1 152.1h0M123.3 152.4h0M124.3 152.3h0M125.2 152.2h0M128.3 152.5h0M129.8 152.5h0M130.6 152.7h0M132.9 152.4h0M133.4 152.2h0M134.9 152.2h0M139.9 152.1h0M140.9 152.3h0M142.6 152.9h0M144.7 152.4h0M147.3 152.2h0M148.9 152.8h0M149.1 152.1h0M152.3 152.3h0M153.5 152.1h0M156.9 152.9h0M158.6 152.3h0M162.3 152.3h0M163.5 152.5h0M167.7 152.1h0M170.8 152.3h0M171.4 152.4h0M174.1 152.9h0M177.3 152.5h0M181.5 152.5h0M183.4 152.7h0M184.5 152.5h0M191.5 152.1h0M192.7 152.9h0M193.7 152.7h0M199.4 152.4h0M35.2 153.6h0M36.9 153.7h0M38.5 153.6h0M41.2 153.3h0M46.8 153.4h0M47.9 153.4h0M48.9 153.7h0M51.3 153.5h0M59.6 153.8h0M60.2 153.2h0M63.2 153.7h0M64.3 153.9h0M65.6 153.9h0M66.6 153.1h0M68.5 153.6h0M70.2 153.9h0M76.5 153.7h0M79.3 153.4h0M80.7 153.6h0M81.4 153.1h0M83.8 153.6h0M95.7 153.8h0M95.7 153.8h0M96.4 153.8h0M97.5 153.5h0M98.4 153.8h0M98.8 153.9h0M99.9 153.3h0M99.5 153.9h0M100.3 153.6h0M101.9 153.5h0M102.5 153.3h0M103.3 153.6h0M104.1 153.7h0M105.2 153.4h0M106.5 153.1h0M107.1 153.6h0M108.3 153.3h0M110.3 153.1h0M111.2 153.2h0M112.6 153.7h0M113.4 153.9h0M114.4 153.3h0M115.3 153.6h0M116.7 153.3h0M117.1 153.1h0M120.7 153.5h0M121.3 153.4h0M122.8 153.8h0M123.8 153.3h0M129.8 153.7h0M131.4 153.4h0M136.5 153.5h0M139.5 153.6h0M140.6 153.4h0M141.7 153.8h0M142.8 153.2h0M143.3 153.1h0M145.8 153.5h0M146.8 153.3h0M151.4 153.7h0M152.7 153.1h0M155.4 153.7h0M157.5 153.5h0M158.8 153.6h0M161.3 153.7h0M162.5 153.5h0M163.1 153.6h0M164.7 153.8h0M165.6 153.6h0M167.3 153.9h0M169.2 153.4h0M170.2 153.9h0M172.4 153.2h0M173.3 153.8h0M175.9 153.3h0M176.7 153.7h0M178.9 153.2h0M182.6 153.5h0M187.7 153.7h0M188.7 153.6h0M189.6 153.5h0M194.8 153.8h0M195.4 153.8h0M196.9 153.1h0M35.3 154.7h0M36.6 154.1h0M39.7 154.5h0M41.8 154.5h0M44.5 154.7h0M45.4 154.5h0M46.8 154.3h0M49.8 154.1h0M50.7 154.6h0M55.9 154.7h0M56.8 154.3h0M59.8 154.7h0M64.1 154.7h0M67.7 154.9h0M70.5 154.5h0M72.1 154.7h0M75.2 154.1h0M76.5 154.3h0M77.7 154.5h0M78.2 154.8h0M79.5 154.5h0M81.6 154.5h0M95.9 154.1h0M95.4 154.6h0M96.1 154.6h0M97.6 154.4h0M97.2 154.2h0M98.6 154.5h0M99.2 154.6h0M100.2 154.9h0M100.6 154.4h0M101.9 154.2h0M102.8 154.9h0M103.3 154.1h0M104.4 154.9h0M106.5 154.8h0M107.1 154.8h0M108.8 154.7h0M109.4 154.7h0M111.3 154.4h0M112.8 154.4h0M113.4 154.1h0M115.7 154.3h0M117.4 154.1h0M119.6 154.2h0M120.5 154.1h0M121.5 154.1h0M123.8 154.3h0M124.4 154.7h0M127.9 154.2h0M131.1 154.3h0M132.9 154.3h0M134.1 154.9h0M135.2 154.2h0M136.6 154.1h0M139.2 154.3h0M141.8 154.9h0M143.2 154.8h0M144.4 154.6h0M146.5 154.3h0M150.7 154.4h0M151.6 154.1h0M152.9 154.4h0M155.8 154.9h0M157.5 154.7h0M160.7 154.1h0M162.7 154.1h0M163.5 154.5h0M167.1 154.2h0M172.5 154.5h0M173.5 154.2h0M180.4 154.4h0M182.2 154.4h0M183.6 154.9h0M187.5 154.7h0M188.2 154.2h0M189.6 154.7h0M190.6 154.5h0M191.2 154.7h0M193.6 154.4h0M195.5 154.2h0M196.2 154.5h0M199.6 154.4h0M201.2 154.4h0M35.8 155.7h0M37.7 155.6h0M38.1 155.9h0M40.1 155.2h0M42.7 155.7h0M43.1 155.2h0M44.3 155.5h0M47.9 155.1h0M49.7 155.1h0M50.9 155.5h0M52.8 155.4h0M54.4 155.8h0M57.7 155.8h0M60.5 155.2h0M61.6 155.6h0M63.8 155.5h0M65.5 155.7h0M66.1 155.3h0M68.9 155.5h0M70.7 155.6h0M71.7 155.2h0M72.8 155.2h0M78.8 155.8h0M81.8 155.7h0M83.2 155.1h0M84.5 155.1h0M96.9 155.7h0M96.6 155.2h0M97.6 155.3h0M97.3 155.3h0M98.4 155.3h0M98.7 155.9h0M99.2 155.9h0M99.1 155.7h0M100.2 155.9h0M101.7 155.2h0M102.4 155.1h0M103.9 155.1h0M104.5 155.2h0M105.2 155.5h0M106.5 155.3h0M107.5 155.6h0M109.1 155.7h0M110.4 155.9h0M111.5 155.3h0M112.7 155.7h0M114.6 155.5h0M115.4 155.9h0M116.9 155.6h0M118.8 155.5h0M119.6 155.6h0M120.3 155.6h0M121.7 155.2h0M123.6 155.8h0M124.6 155.6h0M131.4 155.2h0M132.5 155.4h0M133.4 155.6h0M139.6 155.9h0M140.4 155.9h0M141.5 155.4h0M142.7 155.8h0M143.8 155.9h0M144.7 155.2h0M146.2 155.3h0M147.9 155.5h0M148.3 155.7h0M149.2 155.3h0M152.8 155.3h0M153.4 155.8h0M154.5 155.5h0M155.7 155.8h0M156.7 155.4h0M157.2 155.3h0M159.4 155.2h0M160.4 155.3h0M161.1 155.7h0M164.9 155.8h0M165.5 155.4h0M168.3 155.4h0M169.5 155.8h0M170.8 155.7h0M176.1 155.1h0M177.2 155.4h0M178.5 155.5h0M180.7 155.8h0M181.7 155.4h0M183.2 155.6h0M184.9 155.2h0M189.7 155.5h0M190.9 155.1h0M191.4 155.8h0M195.2 155.8h0M196.6 155.3h0M197.7 155.2h0M198.6 155.6h0M200.9 155.9h0M37.3 156.4h0M38.6 156.7h0M46.6 156.2h0M50.2 156.2h0M57.9 156.7h0M58.3 156.6h0M59.3 156.2h0M62.1 156.1h0M72.3 156.3h0M73.9 156.8h0M74.8 156.9h0M75.7 156.4h0M76.2 156.3h0M79.5 156.5h0M80.1 156.7h0M83.6 156.5h0M84.4 156.3h0M85.3 156.8h0M96.3 156.1h0M97.3 156.4h0M97.4 156.2h0M98.8 156.2h0M99.9 156.6h0M99.4 156.5h0M100.8 156.4h0M101.6 156.3h0M102.5 156.6h0M102.7 156.9h0M103.7 156.3h0M104.4 156.6h0M105.3 156.3h0M106.6 156.7h0M107.4 156.7h0M108.4 156.8h0M109.5 156.8h0M110.5 156.7h0M111.5 156.3h0M112.2 156.1h0M113.2 156.6h0M114.1 156.7h0M115.7 156.5h0M116.7 156.4h0M117.7 156.3h0M118.5 156.2h0M119.6 156.8h0M120.1 156.6h0M121.2 156.9h0M124.5 156.8h0M125.6 156.6h0M126.8 156.5h0M127.6 156.6h0M128.8 156.4h0M132.7 156.1h0M134.2 156.6h0M135.5 156.4h0M136.1 156.3h0M139.4 156.7h0M140.5 156.3h0M141.3 156.8h0M142.5 156.9h0M143.9 156.1h0M144.2 156.5h0M145.8 156.5h0M146.3 156.1h0M147.6 156.4h0M148.5 156.1h0M149.3 156.5h0M150.8 156.4h0M151.4 156.6h0M152.6 156.3h0M154.9 156.2h0M155.5 156.3h0M156.3 156.8h0M157.8 156.8h0M158.2 156.6h0M160.8 156.5h0M161.3 156.9h0M162.3 156.8h0M163.6 156.1h0M164.1 156.6h0M165.2 156.2h0M166.9 156.5h0M167.2 156.2h0M169.1 156.9h0M170.8 156.1h0M171.6 156.5h0M174.5 156.1h0M177.3 156.5h0M180.2 156.4h0M181.7 156.4h0M182.3 156.3h0M185.1 156.6h0M186.8 156.8h0M187.1 156.8h0M188.2 156.2h0M191.2 156.2h0M193.4 156.7h0M196.4 156.4h0M198.6 156.9h0M200.4 156.2h0M201.7 156.4h0M35.7 157.7h0M36.9 157.5h0M40.2 157.5h0M41.1 157.5h0M43.9 157.2h0M46.5 157.5h0M47.7 157.7h0M49.8 157.1h0M50.6 157.5h0M51.7 157.8h0M53.8 157.7h0M55.5 157.5h0M57.2 157.5h0M58.2 157.8h0M59.8 157.7h0M63.2 157.8h0M65.9 157.6h0M68.4 157.3h0M69.6 157.4h0M71.1 157.1h0M72.9 157.8h0M75.7 157.6h0M76.1 157.7h0M77.5 157.1h0M79.9 157.7h0M80.1 157.9h0M83.8 157.7h0M85.1 157.5h0M96.9 157.5h0M96.1 157.2h0M97.1 157.6h0M98.8 157.6h0M98.4 157.1h0M99.1 157.7h0M100.4 157.1h0M101.6 157.2h0M102.7 157.8h0M103.6 157.6h0M104.5 157.2h0M105.4 157.7h0M106.6 157.1h0M108.2 157.9h0M109.2 157.8h0M110.3 157.5h0M112.6 157.5h0M113.1 157.3h0M114.7 157.1h0M115.8 157.2h0M116.6 157.6h0M117.7 157.6h0M119.2 157.2h0M120.4 157.5h0M121.2 157.6h0M122.7 157.8h0M123.6 157.2h0M125.2 157.4h0M128.7 157.4h0M130.2 157.2h0M131.9 157.3h0M134.7 157.3h0M139.8 157.1h0M140.7 157.7h0M141.4 157.1h0M142.1 157.9h0M143.8 157.1h0M144.2 157.4h0M145.8 157.9h0M146.8 157.8h0M148.7 157.1h0M149.9 157.3h0M150.6 157.4h0M151.1 157.1h0M152.2 157.5h0M153.4 157.9h0M157.2 157.6h0M159.4 157.1h0M161.5 157.7h0M162.4 157.4h0M164.6 157.5h0M165.8 157.9h0M166.9 157.6h0M168.2 157.1h0M170.5 157.5h0M172.8 157.5h0M173.4 157.8h0M174.4 157.3h0M175.6 157.4h0M176.5 157.5h0M178.4 157.3h0M179.8 157.4h0M180.9 157.3h0M181.6 157.9h0M182.1 157.7h0M183.7 157.8h0M184.4 157.8h0M186.8 157.3h0M187.5 157.3h0M188.3 157.3h0M190.7 157.3h0M191.6 157.1h0M193.7 157.1h0M194.2 157.3h0M197.3 157.3h0M199.7 157.9h0M200.8 157.4h0M201.3 157.2h0M35.1 158.8h0M38.5 158.1h0M39.9 158.3h0M42.8 158.7h0M44.5 158.9h0M46.1 158.1h0M47.4 158.7h0M49.6 158.5h0M51.6 158.6h0M55.5 158.3h0M56.1 158.8h0M57.6 158.7h0M59.2 158.3h0M63.6 158.1h0M67.2 158.5h0M69.3 158.7h0M70.9 158.3h0M73.8 158.3h0M74.5 158.7h0M80.8 158.7h0M81.4 158.2h0M84.6 158.1h0M85.3 158.6h0M96.2 158.3h0M97.9 158.3h0M98.4 158.9h0M98.8 158.1h0M99.7 158.1h0M100.6 158.5h0M101.4 158.1h0M102.6 158.1h0M103.9 158.7h0M104.9 158.8h0M105.6 158.9h0M106.1 158.9h0M107.8 158.4h0M108.1 158.1h0M109.4 158.7h0M110.1 158.7h0M111.3 158.5h0M112.9 158.6h0M113.7 158.1h0M114.3 158.4h0M115.7 158.7h0M117.2 158.9h0M119.2 158.5h0M120.3 158.9h0M121.7 158.7h0M122.2 158.1h0M123.5 158.9h0M124.5 158.6h0M125.6 158.2h0M126.1 158.7h0M127.5 158.4h0M129.2 158.2h0M130.6 158.6h0M133.3 158.3h0M135.8 158.5h0M136.5 158.4h0M139.4 158.3h0M140.8 158.5h0M141.7 158.8h0M142.5 158.7h0M143.8 158.3h0M144.9 158.2h0M145.9 158.2h0M146.7 158.8h0M147.1 158.5h0M148.3 158.5h0M149.8 158.9h0M150.7 158.8h0M151.3 158.6h0M152.2 158.1h0M154.7 158.4h0M155.6 158.5h0M156.4 158.7h0M157.6 158.2h0M160.4 158.8h0M161.9 158.2h0M162.6 158.6h0M164.7 158.8h0M165.2 158.2h0M166.7 158.5h0M168.6 158.1h0M169.1 158.8h0M172.6 158.4h0M173.7 158.3h0M175.4 158.3h0M176.6 158.1h0M177.8 158.1h0M180.9 158.8h0M182.3 158.9h0M186.8 158.5h0M187.9 158.9h0M188.5 158.5h0M189.5 158.5h0M192.5 158.9h0M193.5 158.3h0M194.5 158.9h0M196.2 158.8h0M197.6 158.2h0M199.4 158.6h0M201.5 158.9h0M36.8 159.5h0M38.8 159.4h0M41.2 159.8h0M42.6 159.2h0M43.7 159.1h0M44.3 159.8h0M46.6 159.1h0M47.7 159.5h0M48.3 159.6h0M50.1 159.6h0M51.2 159.1h0M52.7 159.2h0M54.4 159.7h0M56.5 159.2h0M58.9 159.7h0M59.8 159.1h0M60.9 159.1h0M62.4 159.8h0M67.5 159.6h0M68.1 159.9h0M70.3 159.8h0M71.2 159.3h0M72.1 159.2h0M73.3 159.1h0M74.8 159.5h0M75.9 159.6h0M76.4 159.6h0M78.1 159.4h0M79.1 159.3h0M80.5 159.9h0M81.3 159.1h0M83.3 159.8h0M85.8 159.1h0M96.4 159.9h0M96.7 159.5h0M97.2 159.6h0M97.8 159.9h0M98.6 159.2h0M99.2 159.4h0M99.3 159.1h0M100.3 159.5h0M100.1 159.2h0M101.4 159.7h0M102.3 159.9h0M103.3 159.2h0M104.9 159.6h0M105.6 159.6h0M106.3 159.1h0M107.2 159.9h0M108.1 159.5h0M109.5 159.5h0M110.7 159.8h0M111.7 159.6h0M112.4 159.5h0M113.1 159.8h0M114.4 159.8h0M115.3 159.6h0M116.4 159.9h0M117.6 159.9h0M118.5 159.4h0M119.9 159.7h0M120.9 159.8h0M121.8 159.5h0M122.8 159.9h0M124.1 159.5h0M125.6 159.7h0M127.7 159.6h0M129.8 159.2h0M131.4 159.5h0M132.5 159.9h0M133.3 159.4h0M135.4 159.4h0M136.3 159.6h0M139.4 159.4h0M140.3 159.2h0M141.4 159.2h0M142.3 159.6h0M143.1 159.2h0M144.2 159.3h0M145.5 159.5h0M146.3 159.4h0M147.2 159.6h0M148.4 159.1h0M149.6 159.9h0M150.4 159.9h0M151.8 159.1h0M152.9 159.4h0M153.4 159.1h0M154.4 159.8h0M155.1 159.9h0M156.9 159.6h0M157.2 159.5h0M158.1 159.7h0M159.8 159.5h0M162.8 159.3h0M163.2 159.5h0M164.5 159.2h0M165.7 159.6h0M166.2 159.8h0M167.1 159.4h0M168.4 159.9h0M170.2 159.4h0M171.1 159.7h0M172.4 159.1h0M174.2 159.7h0M175.3 159.4h0M176.5 159.2h0M177.6 159.4h0M178.6 159.6h0M179.4 159.5h0M180.9 159.5h0M183.2 159.4h0M185.2 159.4h0M189.3 159.6h0M190.3 159.8h0M194.2 159.4h0M195.6 159.2h0M197.5 159.9h0M200.9 159.5h0M201.5 159.9h0M35.6 160.4h0M38.3 160.2h0M39.9 160.3h0M42.5 160.8h0M44.7 160.8h0M45.4 160.7h0M46.5 160.3h0M49.3 160.4h0M50.8 160.8h0M52.2 160.3h0M54.9 160.1h0M55.4 160.9h0M56.2 160.2h0M57.1 160.2h0M59.4 160.7h0M61.8 160.1h0M63.9 160.9h0M64.1 160.2h0M68.1 160.5h0M69.8 160.4h0M70.6 160.9h0M73.5 160.2h0M74.8 160.8h0M75.3 160.9h0M77.7 160.1h0M79.7 160.2h0M80.2 160.8h0M81.2 160.2h0M82.3 160.4h0M84.1 160.2h0M97.2 160.1h0M97.7 160.7h0M98.4 160.9h0M99.1 160.4h0M99.1 160.4h0M100.5 160.7h0M100.6 160.1h0M101.1 160.6h0M102.5 160.7h0M103.8 160.6h0M104.7 160.2h0M105.7 160.1h0M106.4 160.5h0M107.7 160.2h0M108.6 160.2h0M109.8 160.5h0M110.8 160.5h0M111.7 160.2h0M112.6 160.2h0M113.7 160.1h0M114.7 160.1h0M116.2 160.9h0M118.3 160.3h0M119.8 160.4h0M120.8 160.6h0M121.6 160.4h0M123.4 160.9h0M124.7 160.5h0M127.2 160.8h0M128.1 160.2h0M129.3 160.7h0M130.7 160.4h0M131.7 160.8h0M134.9 160.5h0M135.1 160.8h0M136.4 160.5h0M139.7 160.4h0M140.1 160.1h0M141.8 160.4h0M142.7 160.2h0M143.6 160.8h0M144.1 160.3h0M145.5 160.3h0M146.7 160.7h0M147.2 160.5h0M148.8 160.1h0M149.1 160.9h0M150.8 160.6h0M152.6 160.3h0M153.3 160.1h0M154.1 160.5h0M155.2 160.6h0M156.1 160.8h0M157.5 160.4h0M158.4 160.7h0M160.5 160.8h0M162.1 160.4h0M163.3 160.1h0M164.1 160.5h0M165.9 160.6h0M166.4 160.2h0M168.3 160.8h0M169.4 160.2h0M170.8 160.3h0M171.9 160.8h0M172.2 160.2h0M173.1 160.8h0M174.5 160.5h0M175.1 160.3h0M176.5 160.7h0M178.6 160.5h0M179.9 160.8h0M180.4 160.7h0M181.9 160.8h0M182.8 160.5h0M183.6 160.3h0M185.8 160.6h0M186.8 160.9h0M187.1 160.9h0M188.5 160.5h0M189.9 160.1h0M192.8 160.6h0M193.4 160.6h0M194.8 160.9h0M198.1 160.3h0M199.5 160.1h0M200.3 160.3h0M201.6 160.5h0M35.3 161.3h0M36.3 161.8h0M37.5 161.4h0M38.4 161.4h0M40.4 161.2h0M41.6 161.7h0M43.5 161.9h0M45.3 161.8h0M46.4 161.5h0M47.9 161.3h0M48.6 161.6h0M49.5 161.5h0M50.3 161.5h0M52.5 161.3h0M53.3 161.3h0M55.8 161.6h0M56.6 161.3h0M57.4 161.7h0M58.4 161.7h0M60.3 161.5h0M61.3 161.7h0M62.8 161.8h0M63.6 161.1h0M64.8 161.6h0M65.1 161.7h0M68.2 161.9h0M69.7 161.7h0M71.9 161.3h0M73.7 161.3h0M75.8 161.4h0M76.2 161.1h0M77.9 161.1h0M78.3 161.6h0M79.5 161.4h0M83.1 161.4h0M97.5 161.3h0M97.2 161.2h0M98.9 161.1h0M98.9 161.5h0M99.5 161.2h0M100.9 161.3h0M101.5 161.4h0M102.1 161.4h0M102.3 161.8h0M103.3 161.4h0M104.6 161.9h0M105.8 161.4h0M106.8 161.2h0M107.1 161.3h0M107.2 161.8h0M108.3 161.6h0M109.1 161.8h0M109.9 161.9h0M110.1 161.2h0M111.1 161.1h0M111.2 161.9h0M112.7 161.7h0M113.2 161.3h0M114.3 161.7h0M115.4 161.4h0M116.5 161.1h0M117.8 161.3h0M118.1 161.1h0M119.2 161.2h0M120.9 161.9h0M121.3 161.7h0M122.4 161.5h0M123.2 161.1h0M124.9 161.1h0M125.1 161.9h0M126.6 161.2h0M128.1 161.7h0M129.2 161.6h0M130.1 161.2h0M131.6 161.4h0M132.4 161.9h0M133.9 161.9h0M134.7 161.8h0M135.2 161.5h0M136.6 161.3h0M139.7 161.2h0M140.7 161.5h0M141.8 161.4h0M142.2 161.8h0M143.9 161.9h0M144.2 161.4h0M145.5 161.7h0M146.3 161.2h0M147.9 161.9h0M148.1 161.6h0M149.1 161.7h0M150.8 161.2h0M151.1 161.5h0M152.8 161.4h0M154.8 161.9h0M155.8 161.8h0M156.3 161.8h0M157.2 161.8h0M158.2 161.6h0M161.1 161.9h0M162.6 161.3h0M163.2 161.8h0M164.3 161.9h0M165.4 161.9h0M166.3 161.5h0M167.8 161.2h0M168.5 161.3h0M169.7 161.7h0M170.2 161.9h0M171.7 161.8h0M172.9 161.4h0M173.6 161.2h0M174.6 161.6h0M175.6 161.2h0M176.8 161.3h0M177.6 161.8h0M178.5 161.7h0M179.7 161.5h0M180.8 161.7h0M181.2 161.8h0M182.5 161.3h0M183.2 161.5h0M185.1 161.8h0M187.2 161.7h0M188.3 161.2h0M189.1 161.3h0M191.7 161.2h0M192.4 161.2h0M193.4 161.9h0M194.1 161.7h0M195.3 161.5h0M196.8 161.7h0M199.5 161.3h0M201.7 161.7h0M35.6 162.4h0M36.6 162.7h0M37.8 162.4h0M38.8 162.5h0M39.4 162.5h0M40.7 162.6h0M41.8 162.8h0M42.7 162.1h0M43.7 162.2h0M44.3 162.5h0M45.4 162.9h0M46.7 162.8h0M47.7 162.2h0M49.8 162.3h0M50.7 162.2h0M52.1 162.7h0M53.8 162.1h0M57.3 162.9h0M58.7 162.5h0M59.5 162.8h0M61.2 162.5h0M62.7 162.3h0M63.9 162.1h0M64.8 162.7h0M65.9 162.9h0M66.7 162.9h0M68.2 162.5h0M69.4 162.6h0M73.9 162.7h0M74.2 162.9h0M75.7 162.5h0M76.8 162.8h0M77.8 162.7h0M80.5 162.6h0M81.2 162.5h0M82.6 162.6h0M84.6 162.7h0M85.8 162.8h0M98.3 162.4h0M98.3 162.9h0M99.3 162.3h0M99.7 162.4h0M100.7 162.6h0M101.6 162.4h0M102.7 162.6h0M103.9 162.5h0M104.3 162.8h0M105.6 162.1h0M106.8 162.1h0M107.8 162.1h0M108.5 162.8h0M109.8 162.5h0M110.9 162.3h0M111.1 162.8h0M112.4 162.1h0M113.8 162.6h0M114.3 162.9h0M115.6 162.9h0M116.5 162.9h0M117.9 162.7h0M118.4 162.2h0M119.1 162.5h0M120.9 162.8h0M121.3 162.2h0M122.3 162.9h0M123.4 162.4h0M124.5 162.1h0M125.4 162.2h0M127.7 162.9h0M129.1 162.1h0M130.3 162.8h0M131.6 162.5h0M132.8 162.4h0M133.6 162.7h0M139.7 162.1h0M140.6 162.6h0M141.5 162.6h0M142.1 162.1h0M143.9 162.2h0M144.6 162.4h0M144.8 162.7h0M145.4 162.2h0M146.3 162.6h0M147.9 162.7h0M148.9 162.8h0M149.2 162.3h0M150.8 162.4h0M151.9 162.4h0M152.6 162.2h0M153.6 162.6h0M154.5 162.6h0M155.3 162.1h0M156.6 162.1h0M157.4 162.3h0M158.1 162.2h0M159.8 162.5h0M160.3 162.9h0M161.1 162.6h0M163.4 162.1h0M164.5 162.7h0M165.6 162.7h0M166.8 162.9h0M167.7 162.5h0M168.8 162.5h0M169.6 162.8h0M170.4 162.3h0M171.8 162.2h0M172.2 162.9h0M173.3 162.1h0M174.4 162.8h0M175.9 162.3h0M176.4 162.8h0M177.9 162.1h0M178.9 162.5h0M179.8 162.3h0M180.3 162.8h0M181.8 162.9h0M182.6 162.3h0M183.8 162.4h0M184.1 162.1h0M186.1 162.1h0M187.7 162.2h0M189.9 162.2h0M190.3 162.1h0M191.5 162.4h0M192.2 162.6h0M194.9 162.8h0M196.7 162.2h0M197.8 162.3h0M198.7 162.1h0M199.4 162.3h0M200.6 162.7h0M36.9 163.3h0M38.9 163.1h0M40.9 163.9h0M41.8 163.5h0M42.7 163.2h0M44.7 163.8h0M45.3 163.3h0M46.3 163.1h0M47.1 163.2h0M48.9 163.4h0M49.2 163.3h0M50.6 163.9h0M51.7 163.3h0M52.2 163.4h0M53.4 163.1h0M55.7 163.3h0M56.4 163.3h0M57.2 163.5h0M58.5 163.7h0M59.4 163.7h0M62.7 163.8h0M63.5 163.9h0M64.9 163.5h0M65.8 163.6h0M66.7 163.8h0M67.6 163.1h0M68.9 163.2h0M69.8 163.9h0M70.8 163.1h0M73.5 163.1h0M74.3 163.2h0M75.1 163.1h0M76.6 163.4h0M77.7 163.4h0M78.4 163.7h0M79.6 163.5h0M80.3 163.2h0M81.9 163.2h0M82.4 163.5h0M84.6 163.8h0M98.1 163.1h0M98.2 163.6h0M99.8 163.8h0M100.9 163.3h0M100.6 163.5h0M101.5 163.1h0M101.9 163.3h0M102.5 163.6h0M103.4 163.8h0M104.1 163.8h0M104.3 163.7h0M105.4 163.1h0M106.9 163.9h0M107.4 163.3h0M108.6 163.6h0M109.5 163.8h0M110.1 163.3h0M111.5 163.2h0M112.4 163.8h0M113.6 163.9h0M114.5 163.6h0M115.8 163.9h0M116.7 163.5h0M117.4 163.7h0M118.6 163.1h0M119.3 163.7h0M120.2 163.1h0M121.6 163.8h0M122.1 163.5h0M123.5 163.6h0M124.6 163.8h0M125.8 163.1h0M126.8 163.6h0M127.4 163.7h0M128.6 163.8h0M129.6 163.6h0M131.9 163.5h0M132.4 163.2h0M134.1 163.6h0M135.1 163.6h0M136.7 163.3h0M139.5 163.6h0M140.8 163.4h0M141.5 163.1h0M142.9 163.8h0M143.6 163.2h0M143.5 163.6h0M144.8 163.3h0M144.3 163.2h0M145.3 163.7h0M145.1 163.3h0M146.6 163.9h0M147.2 163.7h0M148.6 163.5h0M149.6 163.4h0M150.8 163.9h0M151.8 163.6h0M152.4 163.8h0M153.7 163.1h0M154.8 163.4h0M155.2 163.5h0M156.9 163.9h0M157.2 163.7h0M158.4 163.2h0M159.2 163.7h0M160.5 163.3h0M161.2 163.2h0M162.4 163.5h0M163.6 163.5h0M164.5 163.3h0M165.6 163.1h0M166.6 163.1h0M167.2 163.4h0M168.8 163.8h0M169.9 163.4h0M170.4 163.1h0M171.8 163.9h0M173.2 163.6h0M174.5 163.1h0M175.8 163.7h0M176.1 163.8h0M177.5 163.1h0M178.7 163.6h0M179.7 163.9h0M180.5 163.8h0M181.3 163.6h0M182.6 163.6h0M183.7 163.9h0M184.4 163.4h0M185.6 163.1h0M186.3 163.9h0M187.9 163.7h0M188.8 163.7h0M189.1 163.1h0M190.6 163.3h0M191.1 163.7h0M192.8 163.2h0M193.1 163.4h0M194.8 163.4h0M195.9 163.6h0M196.7 163.1h0M197.7 163.8h0M198.6 163.4h0M199.3 163.2h0M200.1 163.8h0M201.7 163.2h0M35.9 164.2h0M37.6 164.1h0M38.3 164.7h0M39.3 164.5h0M40.9 164.6h0M41.2 164.8h0M42.3 164.2h0M43.7 164.4h0M44.2 164.7h0M45.9 164.4h0M46.4 164.7h0M47.1 164.6h0M48.5 164.8h0M49.3 164.5h0M50.9 164.2h0M51.4 164.5h0M52.4 164.4h0M53.6 164.2h0M54.5 164.8h0M55.1 164.8h0M56.9 164.2h0M57.4 164.5h0M58.7 164.8h0M59.8 164.1h0M60.7 164.6h0M61.1 164.2h0M62.8 164.2h0M63.9 164.1h0M64.8 164.4h0M65.2 164.3h0M66.9 164.2h0M67.1 164.7h0M68.8 164.3h0M69.1 164.4h0M70.1 164.6h0M71.2 164.5h0M72.3 164.5h0M73.7 164.4h0M74.2 164.5h0M75.3 164.7h0M76.9 164.6h0M77.5 164.5h0M78.8 164.5h0M80.9 164.5h0M81.4 164.1h0M82.4 164.8h0M83.7 164.5h0M84.1 164.2h0M85.6 164.2h0M99.7 164.3h0M99.5 164.1h0M100.2 164.3h0M100.4 164.4h0M101.9 164.4h0M102.8 164.2h0M102.9 164.4h0M103.3 164.8h0M104.5 164.7h0M105.6 164.4h0M105.3 164.8h0M106.6 164.9h0M107.1 164.4h0M108.9 164.8h0M109.1 164.2h0M110.8 164.4h0M111.6 164.4h0M112.8 164.3h0M113.1 164.8h0M113.7 164.6h0M114.5 164.1h0M114.6 164.1h0M115.4 164.8h0M116.6 164.9h0M117.6 164.9h0M118.1 164.6h0M119.9 164.7h0M120.4 164.3h0M121.9 164.6h0M122.1 164.8h0M123.6 164.3h0M124.4 164.3h0M125.5 164.7h0M126.5 164.4h0M127.2 164.7h0M128.1 164.9h0M129.1 164.3h0M130.5 164.9h0M131.9 164.2h0M132.9 164.8h0M133.5 164.8h0M134.2 164.3h0M135.8 164.3h0M136.7 164.6h0M139.6 164.6h0M139.4 164.3h0M140.1 164.6h0M140.8 164.3h0M141.1 164.8h0M141.6 164.7h0M142.1 164.5h0M143.3 164.8h0M144.9 164.7h0M144.1 164.9h0M145.2 164.1h0M145.2 164.3h0M146.2 164.6h0M147.7 164.7h0M148.9 164.7h0M149.6 164.4h0M150.6 164.9h0M151.8 164.5h0M152.5 164.1h0M153.4 164.2h0M154.6 164.1h0M155.1 164.6h0M156.1 164.6h0M156.3 164.5h0M157.8 164.6h0M158.4 164.8h0M158.5 164.3h0M159.2 164.7h0M160.7 164.2h0M161.3 164.6h0M162.8 164.9h0M163.6 164.2h0M164.1 164.1h0M165.9 164.8h0M166.5 164.4h0M167.5 164.7h0M168.7 164.5h0M169.2 164.9h0M170.5 164.6h0M171.9 164.6h0M172.2 164.3h0M173.7 164.2h0M174.2 164.3h0M175.4 164.5h0M176.6 164.1h0M177.6 164.9h0M178.9 164.6h0M179.5 164.4h0M180.2 164.1h0M181.8 164.4h0M182.9 164.1h0M183.9 164.1h0M184.1 164.1h0M185.4 164.1h0M186.4 164.5h0M187.9 164.5h0M188.7 164.7h0M189.3 164.4h0M190.7 164.8h0M191.8 164.2h0M192.7 164.2h0M193.2 164.4h0M194.8 164.9h0M195.5 164.4h0M196.4 164.4h0M197.1 164.5h0M198.5 164.7h0M199.8 164.5h0M200.4 164.6h0M201.7 164.9h0M35.1 165.8h0M36.4 165.5h0M37.6 165.3h0M38.6 165.7h0M39.2 165.6h0M40.6 165.7h0M41.2 165.6h0M41.4 165.7h0M42.7 165.9h0M42.2 165.1h0M43.9 165.1h0M44.9 165.8h0M45.2 165.4h0M46.9 165.9h0M47.8 165.2h0M48.4 165.6h0M49.6 165.3h0M50.5 165.6h0M51.5 165.6h0M52.1 165.6h0M53.7 165.7h0M54.6 165.2h0M55.1 165.7h0M56.2 165.2h0M57.1 165.8h0M58.9 165.9h0M58.7 165.2h0M59.2 165.5h0M60.2 165.6h0M61.4 165.4h0M62.7 165.9h0M63.7 165.2h0M64.6 165.2h0M65.5 165.5h0M66.5 165.9h0M67.5 165.2h0M68.1 165.2h0M69.4 165.6h0M70.8 165.1h0M71.5 165.8h0M72.5 165.2h0M73.6 165.1h0M74.6 165.4h0M75.4 165.8h0M75.9 165.1h0M76.5 165.2h0M77.6 165.6h0M78.2 165.5h0M79.9 165.6h0M80.9 165.5h0M81.1 165.2h0M82.4 165.7h0M83.7 165.5h0M84.5 165.4h0M85.9 165.8h0M99.6 165.2h0M99.6 165.5h0M100.1 165.6h0M101.5 165.5h0M101.6 165.8h0M102.6 165.2h0M102.1 165.5h0M103.6 165.8h0M104.2 165.5h0M105.4 165.8h0M106.2 165.3h0M107.2 165.9h0M108.4 165.1h0M108.9 165.6h0M109.8 165.2h0M110.3 165.9h0M111.4 165.2h0M112.8 165.5h0M113.9 165.8h0M114.9 165.5h0M115.2 165.2h0M116.1 165.1h0M117.3 165.8h0M118.5 165.3h0M119.9 165.9h0M119.1 165.8h0M120.7 165.4h0M121.7 165.1h0M122.8 165.1h0M123.4 165.8h0M124.9 165.5h0M125.3 165.6h0M125.1 165.3h0M126.1 165.9h0M127.6 165.9h0M128.2 165.1h0M129.8 165.9h0M130.1 165.7h0M131.1 165.6h0M132.7 165.5h0M133.3 165.7h0M134.9 165.6h0M135.2 165.7h0M136.5 165.8h0M142.3 165.4h0M142.3 165.2h0M143.5 165.6h0M143.1 165.1h0M144.2 165.8h0M145.2 165.8h0M145.9 165.5h0M146.4 165.1h0M146.6 165.5h0M147.9 165.2h0M147.8 165.4h0M148.4 165.9h0M149.9 165.2h0M149.5 165.2h0M150.8 165.2h0M151.3 165.6h0M152.2 165.1h0M152.7 165.3h0M153.9 165.3h0M153.3 165.7h0M154.6 165.8h0M155.1 165.1h0M156.2 165.7h0M157.8 165.2h0M158.8 165.7h0M158.3 165.4h0M159.8 165.4h0M160.7 165.1h0M161.8 165.1h0M162.1 165.1h0M163.3 165.4h0M163.3 165.4h0M164.6 165.6h0M165.6 165.9h0M166.2 165.5h0M166.1 165.4h0M167.1 165.5h0M168.8 165.5h0M169.8 165.9h0M170.1 165.5h0M170.8 165.1h0M171.4 165.4h0M171.2 165.1h0M172.7 165.6h0M173.7 165.3h0M174.9 165.7h0M175.1 165.2h0M175.3 165.1h0M176.3 165.1h0M176.8 165.3h0M177.7 165.7h0M178.8 165.2h0M179.8 165.3h0M180.3 165.2h0M181.9 165.2h0M182.6 165.1h0M183.5 165.7h0M184.4 165.1h0M185.3 165.9h0M186.9 165.2h0M187.7 165.7h0M188.5 165.8h0M189.5 165.6h0M190.9 165.1h0M191.6 165.2h0M191.8 165.3h0M192.2 165.3h0M193.9 165.4h0M194.4 165.9h0M195.8 165.1h0M196.4 165.8h0M197.9 165.4h0M198.5 165.8h0M199.2 165.8h0M200.5 165.6h0M201.1 165.8h0M201.2 165.5h0M35.5 166.9h0M36.5 166.6h0M37.3 166.8h0M38.7 166.7h0M39.6 166.7h0M40.1 166.9h0M41.5 166.2h0M42.9 166.8h0M43.7 166.4h0M44.8 166.8h0M45.6 166.8h0M46.6 166.4h0M47.5 166.3h0M47.4 166.4h0M48.4 166.8h0M49.2 166.1h0M49.3 166.2h0M50.3 166.5h0M50.9 166.3h0M51.6 166.3h0M52.3 166.4h0M53.6 166.7h0M54.7 166.1h0M55.3 166.2h0M56.3 166.4h0M57.9 166.6h0M58.1 166.9h0M58.7 166.8h0M59.3 166.4h0M60.6 166.7h0M61.2 166.3h0M62.4 166.4h0M63.5 166.8h0M64.5 166.9h0M64.9 166.9h0M65.2 166.3h0M66.7 166.3h0M67.2 166.8h0M67.5 166.4h0M68.1 166.3h0M69.9 166.6h0M69.4 166.4h0M70.3 166.4h0M71.6 166.3h0M72.3 166.9h0M72.2 166.7h0M73.8 166.6h0M74.3 166.6h0M75.9 166.5h0M76.7 166.2h0M77.8 166.3h0M78.7 166.6h0M79.4 166.2h0M80.8 166.1h0M81.3 166.2h0M81.7 166.7h0M82.8 166.1h0M83.7 166.5h0M84.1 166.5h0M84.3 166.3h0M85.1 166.4h0M85.4 166.8h0M100.6 166.4h0M100.1 166.8h0M101.2 166.9h0M101.3 166.4h0M102.4 166.7h0M103.9 166.8h0M103.8 166.6h0M104.1 166.5h0M104.2 166.7h0M105.6 166.9h0M105.6 166.2h0M106.7 166.2h0M107.8 166.6h0M107.7 166.6h0M108.7 166.2h0M109.4 166.7h0M110.7 166.4h0M110.1 166.1h0M111.5 166.9h0M112.7 166.9h0M113.8 166.2h0M114.3 166.4h0M115.1 166.6h0M115.4 166.9h0M116.4 166.6h0M117.9 166.5h0M117.4 166.5h0M118.5 166.9h0M119.2 166.1h0M119.3 166.3h0M120.1 166.3h0M120.1 166.5h0M121.7 166.6h0M121.5 166.8h0M122.2 166.1h0M123.9 166.8h0M124.6 166.9h0M125.8 166.2h0M125.1 166.6h0M126.6 166.7h0M127.2 166.7h0M128.3 166.5h0M129.9 166.7h0M129.5 166.2h0M130.2 166.2h0M131.9 166.6h0M132.3 166.2h0M133.4 166.6h0M134.8 166.6h0M135.5 166.1h0M136.8 166.2h0M145.5 166.4h0M145.8 166.6h0M146.4 166.7h0M146.8 166.3h0M147.8 166.3h0M147.8 166.9h0M148.7 166.1h0M148.2 166.7h0M149.1 166.4h0M149.3 166.5h0M150.2 166.6h0M151.1 166.1h0M151.5 166.5h0M152.8 166.9h0M152.7 166.7h0M153.9 166.2h0M153.2 166.7h0M154.1 166.9h0M154.4 166.1h0M155.2 166.5h0M155.4 166.3h0M156.4 166.9h0M157.2 166.8h0M157.9 166.1h0M158.1 166.3h0M158.1 166.1h0M159.1 166.5h0M159.1 166.1h0M160.7 166.3h0M161.1 166.8h0M162.8 166.3h0M163.6 166.5h0M163.6 166.8h0M164.2 166.7h0M164.2 166.7h0M165.6 166.1h0M165.7 166.5h0M166.2 166.8h0M167.8 166.2h0M168.2 166.2h0M169.6 166.5h0M169.9 166.8h0M170.1 166.2h0M171.8 166.5h0M172.3 166.5h0M173.3 166.7h0M174.3 166.5h0M175.5 166.4h0M176.9 166.7h0M176.7 166.7h0M177.9 166.3h0M178.2 166.6h0M178.8 166.4h0M179.9 166.5h0M180.8 166.5h0M181.6 166.3h0M182.7 166.6h0M183.3 166.2h0M184.9 166.1h0M185.7 166.8h0M185.4 166.5h0M186.6 166.5h0M187.8 166.6h0M188.5 166.3h0M189.4 166.3h0M190.5 166.5h0M191.1 166.8h0M192.7 166.7h0M193.9 166.3h0M194.9 166.5h0M195.9 166.8h0M195.2 166.9h0M196.7 166.6h0M197.9 166.9h0M198.7 166.1h0M198.3 166.4h0M199.3 166.2h0M200.9 166.5h0M201.4 166.4h0M35.2 167.3h0M36.4 167.2h0M37.9 167.8h0M38.3 167.5h0M39.8 167.6h0M40.8 167.8h0M41.5 167.7h0M41.6 167.5h0M42.3 167.9h0M43.6 167.7h0M44.6 167.6h0M45.1 167.5h0M45.8 167.2h0M46.8 167.2h0M47.1 167.3h0M47.9 167.8h0M48.2 167.6h0M49.8 167.4h0M49.6 167.2h0M50.6 167.1h0M51.8 167.2h0M51.3 167.3h0M52.5 167.2h0M53.6 167.5h0M53.6 167.3h0M54.5 167.1h0M55.8 167.3h0M56.4 167.2h0M57.6 167.7h0M57.2 167.9h0M58.7 167.9h0M59.4 167.5h0M60.4 167.7h0M61.4 167.9h0M62.5 167.4h0M63.9 167.4h0M64.9 167.6h0M64.2 167.9h0M65.7 167.3h0M66.1 167.2h0M67.6 167.4h0M68.5 167.7h0M68.5 167.5h0M69.8 167.9h0M69.2 167.7h0M70.2 167.2h0M70.8 167.5h0M71.5 167.8h0M71.1 167.2h0M72.2 167.1h0M73.7 167.4h0M74.7 167.5h0M74.1 167.3h0M75.5 167.5h0M76.5 167.8h0M77.3 167.6h0M78.9 167.5h0M79.9 167.2h0M80.8 167.5h0M81.7 167.3h0M82.3 167.6h0M82.2 167.5h0M83.6 167.4h0M84.9 167.3h0M85.4 167.7h0M85.9 167.6h0M102.8 167.3h0M102.9 167.4h0M103.4 167.6h0M103.2 167.8h0M104.7 167.8h0M104.6 167.2h0M105.9 167.5h0M105.6 167.5h0M106.8 167.2h0M106.8 167.7h0M107.3 167.8h0M108.9 167.8h0M109.7 167.2h0M110.2 167.4h0M111.9 167.5h0M112.1 167.9h0M112.7 167.5h0M113.5 167.2h0M114.5 167.9h0M115.5 167.9h0M115.7 167.1h0M116.1 167.4h0M116.1 167.5h0M117.2 167.7h0M118.2 167.6h0M118.5 167.2h0M119.6 167.3h0M119.2 167.3h0M120.8 167.6h0M120.9 167.5h0M121.9 167.1h0M121.6 167.3h0M122.2 167.3h0M123.8 167.9h0M123.5 167.1h0M124.3 167.9h0M125.1 167.3h0M125.5 167.7h0M126.7 167.2h0M127.5 167.4h0M128.5 167.5h0M129.3 167.1h0M130.3 167.8h0M131.7 167.9h0M131.7 167.8h0M132.4 167.2h0M132.9 167.5h0M133.3 167.4h0M134.4 167.6h0M135.6 167.9h0M136.8 167.3h0M149.6 167.5h0M149.6 167.8h0M150.4 167.1h0M150.9 167.7h0M151.6 167.5h0M151.6 167.8h0M152.6 167.9h0M152.4 167.6h0M153.9 167.3h0M153.9 167.7h0M154.5 167.8h0M154.6 167.6h0M155.9 167.9h0M155.8 167.1h0M156.6 167.5h0M156.4 167.2h0M157.1 167.3h0M157.9 167.2h0M158.9 167.1h0M159.7 167.3h0M160.3 167.3h0M160.7 167.3h0M161.8 167.3h0M162.8 167.6h0M162.3 167.7h0M163.1 167.2h0M164.4 167.3h0M164.3 167.4h0M165.4 167.6h0M165.3 167.1h0M166.7 167.7h0M167.5 167.8h0M167.2 167.8h0M168.4 167.3h0M168.1 167.9h0M169.9 167.1h0M169.1 167.5h0M170.2 167.7h0M170.4 167.5h0M171.5 167.5h0M171.3 167.1h0M172.4 167.6h0M172.4 167.6h0M173.8 167.3h0M173.1 167.8h0M174.8 167.1h0M174.8 167.7h0M175.4 167.9h0M175.7 167.6h0M176.3 167.8h0M176.9 167.2h0M177.9 167.3h0M178.7 167.4h0M178.4 167.1h0M179.5 167.3h0M180.8 167.8h0M181.1 167.8h0M182.5 167.6h0M182.6 167.5h0M183.2 167.2h0M183.7 167.4h0M184.3 167.4h0M184.5 167.4h0M185.4 167.3h0M186.5 167.5h0M187.7 167.1h0M188.6 167.5h0M188.2 167.3h0M189.7 167.5h0M189.3 167.1h0M190.1 167.1h0M190.9 167.9h0M191.1 167.6h0M192.7 167.1h0M193.3 167.3h0M194.2 167.4h0M194.4 167.4h0M195.6 167.3h0M195.8 167.6h0M196.7 167.2h0M196.1 167.9h0M197.2 167.5h0M198.6 167.5h0M199.4 167.8h0M200.7 167.9h0M200.1 167.9h0M201.6 167.6h0M35.6 168.5h0M35.6 168.9h0M36.4 168.1h0M36.7 168.4h0M37.1 168.4h0M38.4 168.2h0M39.4 168.3h0M40.8 168.5h0M41.6 168.6h0M41.1 168.7h0M42.4 168.8h0M42.9 168.8h0M43.9 168.6h0M44.4 168.2h0M44.2 168.8h0M45.7 168.9h0M45.1 168.5h0M46.9 168.8h0M47.7 168.7h0M48.3 168.3h0M49.9 168.4h0M50.2 168.3h0M50.7 168.5h0M51.4 168.9h0M52.5 168.9h0M52.2 168.6h0M53.3 168.9h0M53.3 168.4h0M54.8 168.1h0M54.1 168.3h0M55.9 168.4h0M55.5 168.4h0M56.2 168.6h0M56.6 168.7h0M57.5 168.9h0M58.5 168.8h0M59.6 168.7h0M60.1 168.9h0M61.2 168.5h0M62.6 168.7h0M63.1 168.4h0M63.7 168.3h0M64.3 168.7h0M65.1 168.2h0M66.1 168.6h0M66.6 168.6h0M67.2 168.2h0M67.1 168.4h0M68.1 168.4h0M68.2 168.8h0M69.9 168.5h0M70.2 168.9h0M70.1 168.6h0M71.5 168.3h0M72.2 168.1h0M73.5 168.6h0M74.6 168.1h0M74.2 168.8h0M75.4 168.4h0M75.6 168.1h0M76.8 168.4h0M76.1 168.1h0M77.1 168.3h0M78.3 168.3h0M79.2 168.7h0M80.1 168.8h0M80.3 168.5h0M81.3 168.2h0M81.2 168.9h0M82.7 168.7h0M82.2 168.4h0M83.3 168.2h0M84.5 168.2h0M85.8 168.9h0M109.1 168.1h0M109.3 168.8h0M110.1 168.2h0M110.9 168.1h0M111.5 168.8h0M112.6 168.7h0M112.9 168.8h0M113.6 168.8h0M114.3 168.2h0M115.1 168.5h0M115.4 168.4h0M116.6 168.5h0M116.5 168.9h0M117.2 168.2h0M117.3 168.6h0M118.3 168.1h0M119.5 168.6h0M119.5 168.3h0M120.1 168.5h0M121.3 168.8h0M122.8 168.6h0M122.9 168.8h0M123.7 168.9h0M123.9 168.4h0M124.4 168.7h0M124.8 168.3h0M125.2 168.2h0M125.3 168.1h0M126.3 168.7h0M127.8 168.6h0M127.7 168.8h0M128.1 168.1h0M129.2 168.6h0M129.1 168.3h0M130.3 168.7h0M130.4 168.4h0M131.7 168.8h0M131.2 168.6h0M132.2 168.8h0M133.5 168.4h0M134.3 168.1h0M135.9 168.5h0M136.8 168.7h0M200.8 168.1h0M200.5 168.8h0M201.4 168.7h0M201.7 168.6h0" stroke="#000" stroke-width="1.75" stroke-linecap="round" fill="none"/>
<rect x="34.2" y="30.3" width="167.8" height="2.8" fill="#000"/>
<rect x="34.2" y="31.6" width="206.8" height="171.5" fill="none" stroke="#000" stroke-width="1.5"/>
<path d="M30 202.7h4.2M31.7 196.01h2.5M31.7 189.32h2.5M31.7 182.64h2.5M31.7 175.95h2.5M30 169.26h4.2M31.7 162.57h2.5M31.7 155.88h2.5M31.7 149.2h2.5M31.7 142.51h2.5M30 135.82h4.2M31.7 129.13h2.5M31.7 122.44h2.5M31.7 115.76h2.5M31.7 109.07h2.5M30 102.38h4.2M31.7 95.69h2.5M31.7 89h2.5M31.7 82.32h2.5M31.7 75.63h2.5M30 68.94h4.2M31.7 62.25h2.5M31.7 55.56h2.5M31.7 48.88h2.5M31.7 42.19h2.5M30 35.5h4.2M34.9 203.1v3.6M60.3 203.1v3.6M85.7 203.1v3.6M111.1 203.1v3.6M136.5 203.1v3.6M161.9 203.1v3.6M187.3 203.1v3.6M212.7 203.1v3.6M238.1 203.1v3.6" stroke="#000" stroke-width="1.1" fill="none"/>
<text x="0" y="0" font-size="9" text-anchor="middle" transform="translate(27 202.7) rotate(-90) scale(0.8 1)" stroke="#000" stroke-width="0.5">0</text>
<text x="0" y="0" font-size="9" text-anchor="middle" transform="translate(27 169.26) rotate(-90) scale(0.8 1)" stroke="#000" stroke-width="0.5">200</text>
<text x="0" y="0" font-size="9" text-anchor="middle" transform="translate(27 135.82) rotate(-90) scale(0.8 1)" stroke="#000" stroke-width="0.5">400</text>
<text x="0" y="0" font-size="9" text-anchor="middle" transform="translate(27 102.38) rotate(-90) scale(0.8 1)" stroke="#000" stroke-width="0.5">600</text>
<text x="0" y="0" font-size="9" text-anchor="middle" transform="translate(27 68.94) rotate(-90) scale(0.8 1)" stroke="#000" stroke-width="0.5">800</text>
<text x="0" y="0" font-size="9" text-anchor="middle" transform="translate(27 35.5) rotate(-90) scale(0.8 1)" stroke="#000" stroke-width="0.5">1000</text>
<text x="0" y="0" font-size="9.6" text-anchor="middle" transform="translate(35.6 215) scale(0.8 1)" stroke="#000" stroke-width="0.5">0</text>
<text x="0" y="0" font-size="9.6" text-anchor="middle" transform="translate(162.6 215) scale(0.8 1)" stroke="#000" stroke-width="0.5">200</text>
<text x="38.3" y="51.2" font-size="16" font-weight="bold" stroke="#000" stroke-width="0.3">WT</text>
<text x="0" y="0" font-size="12.8" text-anchor="middle" transform="translate(12.2 119.2) rotate(-90)" stroke="#000" stroke-width="0.4">FL-1</text>
<text x="30.2" y="231" font-size="10.8" stroke="#000" stroke-width="0.3">CXCL11</text>
<rect x="30.2" y="232" width="40.5" height="1.1" fill="#000"/>
<text x="100.7" y="235.2" font-size="14" stroke="#000" stroke-width="0.3">Time (sec)</text>
<line x1="70" y1="217.7" x2="82.98" y2="209.29" stroke="#000" stroke-width="1.3"/>
<path d="M87.6 206.3L84.4 211.47L81.57 207.11Z" fill="#000"/>
<line x1="120.8" y1="217.7" x2="133.6" y2="209.31" stroke="#000" stroke-width="1.3"/>
<path d="M138.2 206.3L135.02 211.49L132.17 207.14Z" fill="#000"/>
<path d="M90 374.5h1M90 375.5h1M90 376.5h1M90 377.5h2M90 378.5h2M90 379.5h2M90 380.5h2M90 381.5h2M90 382.5h3M90 383.5h3M90 384.5h3M90 385.5h3M90 386.5h3M90 387.5h3M90 388.5h3M90 389.5h3M90 390.5h4M90 391.5h4M90 392.5h4M90 393.5h5M90 394.5h5M90 395.5h5M90 396.5h6M90 397.5h6M90 398.5h6M90 399.5h7M90 400.5h8M90 401.5h8M90 402.5h9m48 0h3M90 403.5h10m47 0h6M90 404.5h11m46 0h13M90 405.5h13m44 0h51M90 406.5h16m41 0h63M35 407.5h52m3 0h17m40 0h63M35 408.5h52m3 0h17m40 0h63M35 409.5h52m3 0h18m39 0h63M35 410.5h52m3 0h18m39 0h63M35 411.5h52m3 0h18m39 0h63M35 412.5h52m3 0h19m38 0h63M35 413.5h52m3 0h19m38 0h63M35 414.5h52m3 0h20m37 0h63M35 415.5h52m3 0h21m32 0h1m3 0h63M35 416.5h52m3 0h22m29 0h3m3 0h63M35 417.5h52m3 0h23m25 0h6m3 0h63M35 418.5h52m3 0h24m21 0h9m3 0h63M35 419.5h52m3 0h25m17 0h12m3 0h63M35 420.5h52m3 0h27m12 0h15m3 0h63M35 421.5h52m3 0h28m7 0h19m3 0h63M35 422.5h52m3 0h54m3 0h63M35 423.5h52m3 0h54m3 0h63M35 424.5h52m3 0h54m3 0h63M35 425.5h52m3 0h54m3 0h63M35 426.5h52m3 0h54m3 0h63M35 427.5h52m3 0h54m3 0h63M35 428.5h52m3 0h54m3 0h63M35 429.5h52m3 0h54m3 0h63M35 430.5h52m3 0h54m3 0h63M35 431.5h52m3 0h54m3 0h63M35 432.5h52m3 0h54m3 0h63M35 433.5h52m3 0h54m3 0h63M35 434.5h52m3 0h54m3 0h63M35 435.5h52m3 0h54m3 0h63" stroke="#000" stroke-width="1" fill="none" shape-rendering="crispEdges"/>
<path d="M90.8 263.7h0M91.8 263.6h0M92.7 263.4h0M96.5 263.3h0M155.5 263.8h0M198.4 263.8h0M35.1 264.4h0M39.5 264.4h0M46.5 264.6h0M90.4 264.6h0M91.1 264.7h0M92.4 264.5h0M162.1 264.7h0M169.5 264.5h0M42.5 265.5h0M85.3 265.4h0M90.4 265.8h0M91.9 265.3h0M92.1 265.7h0M131.2 265.4h0M134.1 265.9h0M147.5 265.5h0M150.1 265.7h0M74.1 266.7h0M90.6 266.5h0M93.1 266.8h0M113.2 266.6h0M158.9 266.4h0M183.8 266.8h0M58.9 267.8h0M61.8 267.7h0M90.9 267.4h0M91.9 267.1h0M94.9 267.3h0M95.1 267.7h0M109.6 267.7h0M147.8 267.8h0M189.9 267.4h0M196.7 267.9h0M71.3 268.7h0M90.6 268.7h0M91.4 268.8h0M92.5 268.9h0M104.1 268.9h0M112.4 268.5h0M175.9 268.1h0M38.4 269.2h0M90.6 269.9h0M91.7 269.5h0M133.7 269.1h0M153.3 269.4h0M159.3 269.6h0M166.3 269.2h0M186.4 269.9h0M58.9 270.9h0M70.2 270.3h0M90.7 270.9h0M91.8 270.4h0M92.6 270.1h0M105.3 270.1h0M151.4 270.6h0M183.7 270.7h0M199.7 270.8h0M39.1 271.7h0M41.6 271.1h0M46.1 271.8h0M75.2 271.3h0M86.2 271.4h0M90.4 271.4h0M91.5 271.9h0M141.2 271.2h0M149.2 271.7h0M151.9 271.7h0M174.7 271.6h0M208.5 271.7h0M90.6 272.5h0M91.8 272.7h0M92.1 272.8h0M93.8 272.4h0M172.2 272.9h0M57.5 273.2h0M90.4 273.2h0M96.7 273.7h0M98.8 273.6h0M116.1 273.9h0M141.6 273.4h0M166.7 273.8h0M176.4 273.9h0M48.4 274.4h0M90.4 274.8h0M94.8 274.3h0M95.9 274.7h0M122.5 274.2h0M192.6 274.6h0M58.8 275.8h0M90.7 275.9h0M91.7 275.8h0M93.6 275.4h0M132.6 275.9h0M136.9 275.3h0M46.4 276.6h0M78.8 276.7h0M81.6 276.2h0M90.1 276.3h0M91.9 276.5h0M97.8 276.1h0M133.2 276.8h0M196.6 276.4h0M36.4 277.8h0M50.2 277.5h0M90.1 277.3h0M91.8 277.6h0M93.3 277.6h0M96.6 277.1h0M102.5 277.1h0M109.1 277.4h0M131.8 277.5h0M161.4 277.1h0M35.5 278.8h0M51.1 278.3h0M65.6 278.6h0M90.9 278.9h0M90.1 278.5h0M91.3 278.4h0M135.6 278.5h0M164.2 278.2h0M206.7 278.9h0M90.7 279.6h0M91.2 279.8h0M92.5 279.3h0M94.6 279.9h0M98.5 279.7h0M112.4 279.8h0M168.1 279.7h0M185.3 279.3h0M49.4 280.5h0M50.9 280.1h0M57.7 280.6h0M90.1 280.3h0M92.7 280.4h0M201.9 280.1h0M209.2 280.7h0M90.6 281.4h0M91.7 281.2h0M93.2 281.7h0M207.1 281.5h0M47.2 282.8h0M90.7 282.1h0M91.4 282.9h0M98.8 282.8h0M115.2 282.4h0M141.4 282.4h0M157.1 282.2h0M170.2 282.4h0M41.1 283.6h0M90.9 283.1h0M91.1 283.1h0M108.9 283.9h0M128.4 283.6h0M139.6 283.8h0M154.1 283.8h0M157.1 283.4h0M45.4 284.5h0M90.9 284.1h0M91.3 284.2h0M92.4 284.2h0M93.4 284.3h0M98.6 284.1h0M124.2 284.3h0M162.1 284.1h0M188.4 284.8h0M78.2 285.4h0M90.2 285.9h0M90.7 285.1h0M91.1 285.8h0M107.9 285.2h0M129.6 285.3h0M132.4 285.3h0M152.6 285.6h0M189.4 285.2h0M195.5 285.4h0M200.1 285.6h0M63.3 286.7h0M69.5 286.5h0M90.1 286.7h0M91.1 286.3h0M92.1 286.2h0M104.5 286.1h0M137.2 286.1h0M152.2 286.5h0M204.4 286.2h0M36.2 287.8h0M50.2 287.8h0M90.5 287.9h0M90.7 287.5h0M91.5 287.9h0M93.1 287.2h0M95.5 287.1h0M108.8 287.9h0M165.9 287.1h0M176.9 287.9h0M189.5 287.9h0M205.7 287.1h0M48.2 288.6h0M73.2 288.6h0M90.3 288.9h0M91.6 288.9h0M92.5 288.4h0M94.7 288.7h0M98.3 288.4h0M105.9 288.7h0M155.5 288.7h0M163.3 288.3h0M57.3 289.1h0M62.3 289.8h0M90.9 289.2h0M91.4 289.2h0M92.9 289.7h0M132.1 289.4h0M153.8 289.9h0M90.4 290.2h0M91.6 290.3h0M92.4 290.5h0M93.6 290.3h0M97.9 290.1h0M109.4 290.9h0M132.8 290.1h0M79.7 291.5h0M90.2 291.5h0M91.7 291.9h0M92.7 291.9h0M94.7 291.5h0M97.1 291.7h0M100.5 291.2h0M132.8 291.6h0M149.5 291.1h0M168.6 291.4h0M77.7 292.4h0M86.5 292.2h0M90.1 292.1h0M91.4 292.2h0M92.8 292.6h0M94.3 292.6h0M155.2 292.5h0M174.3 292.6h0M90.7 293.6h0M90.7 293.1h0M91.1 293.1h0M92.8 293.2h0M93.7 293.9h0M95.6 293.3h0M195.6 293.9h0M75.8 294.6h0M90.4 294.7h0M91.7 294.1h0M92.5 294.1h0M98.7 294.2h0M101.3 294.7h0M109.8 294.5h0M111.1 294.2h0M112.1 294.2h0M124.8 294.5h0M131.8 294.1h0M170.8 294.3h0M57.1 295.7h0M90.9 295.5h0M91.7 295.2h0M93.9 295.1h0M94.5 295.9h0M96.2 295.3h0M103.2 295.1h0M107.6 295.1h0M109.1 295.3h0M131.7 295.5h0M135.3 295.1h0M150.3 295.8h0M157.4 295.9h0M165.3 295.9h0M90.7 296.7h0M91.6 296.7h0M121.1 296.3h0M129.8 296.5h0M132.9 296.7h0M152.7 296.5h0M179.6 296.5h0M198.7 296.7h0M199.6 296.3h0M90.2 297.7h0M91.4 297.2h0M94.6 297.7h0M96.9 297.9h0M98.5 297.7h0M107.2 297.6h0M111.1 297.8h0M118.6 297.6h0M132.3 297.8h0M166.3 297.7h0M186.6 297.6h0M70.1 298.8h0M90.2 298.9h0M91.5 298.8h0M94.3 298.1h0M153.9 298.7h0M165.7 298.9h0M188.8 298.6h0M203.9 298.5h0M39.7 299.8h0M51.9 299.6h0M66.6 299.9h0M80.2 299.5h0M90.4 299.5h0M91.1 299.4h0M92.2 299.2h0M100.8 299.9h0M134.1 299.9h0M58.4 300.5h0M90.4 300.8h0M91.8 300.2h0M92.5 300.9h0M102.2 300.1h0M141.1 300.7h0M155.2 300.5h0M171.3 300.7h0M182.3 300.6h0M51.7 301.4h0M62.2 301.7h0M74.9 301.2h0M90.2 301.1h0M90.6 301.5h0M91.1 301.8h0M92.8 301.9h0M93.6 301.4h0M94.1 301.9h0M95.1 301.9h0M96.4 301.8h0M98.8 301.7h0M99.4 301.6h0M100.3 301.9h0M107.4 301.3h0M110.2 301.4h0M151.7 301.9h0M155.5 301.1h0M168.6 301.5h0M85.2 302.8h0M90.4 302.8h0M91.1 302.6h0M92.6 302.3h0M93.5 302.2h0M96.2 302.2h0M149.9 302.9h0M197.1 302.6h0M199.2 302.4h0M206.8 302.9h0M73.8 303.4h0M90.7 303.6h0M91.8 303.5h0M92.4 303.5h0M93.7 303.1h0M97.5 303.6h0M100.6 303.4h0M151.4 303.5h0M169.3 303.2h0M198.7 303.6h0M38.5 304.7h0M68.9 304.8h0M86.7 304.7h0M90.2 304.2h0M91.4 304.6h0M92.3 304.5h0M97.9 304.4h0M105.5 304.6h0M123.4 304.2h0M140.9 304.3h0M157.7 304.6h0M172.7 304.2h0M79.6 305.7h0M90.1 305.7h0M91.9 305.3h0M92.2 305.2h0M94.7 305.4h0M96.4 305.2h0M102.1 305.9h0M106.1 305.3h0M107.6 305.5h0M127.9 305.3h0M138.5 305.4h0M142.8 305.2h0M147.2 305.6h0M161.2 305.8h0M173.7 305.9h0M175.2 305.4h0M78.1 306.8h0M90.9 306.9h0M91.4 306.4h0M92.9 306.3h0M94.3 306.3h0M62.8 307.3h0M74.6 307.7h0M90.7 307.5h0M90.9 307.5h0M91.2 307.2h0M92.3 307.7h0M94.7 307.2h0M95.2 307.7h0M123.1 307.8h0M128.3 307.1h0M192.9 307.6h0M200.6 307.3h0M40.7 308.9h0M52.6 308.1h0M81.3 308.5h0M90.5 308.6h0M91.9 308.9h0M92.3 308.2h0M94.6 308.9h0M98.3 308.2h0M99.8 308.1h0M107.1 308.6h0M170.8 308.6h0M172.6 308.7h0M184.3 308.5h0M198.7 308.7h0M50.3 309.7h0M90.7 309.9h0M91.3 309.6h0M92.4 309.4h0M94.3 309.1h0M98.3 309.7h0M100.8 309.6h0M136.9 309.6h0M139.5 309.4h0M141.6 309.7h0M189.7 309.7h0M202.7 309.7h0M44.8 310.2h0M50.6 310.6h0M63.2 310.8h0M90.5 310.5h0M90.5 310.2h0M91.4 310.4h0M91.2 310.6h0M92.2 310.8h0M93.3 310.7h0M95.3 310.8h0M97.8 310.8h0M99.7 310.3h0M110.4 310.4h0M120.3 310.3h0M129.7 310.3h0M138.5 310.8h0M189.7 310.6h0M194.2 310.6h0M206.6 310.7h0M36.4 311.9h0M47.4 311.1h0M90.3 311.5h0M91.9 311.6h0M93.7 311.8h0M97.2 311.8h0M100.7 311.1h0M103.3 311.8h0M106.2 311.9h0M110.8 311.1h0M124.5 311.7h0M126.1 311.4h0M133.2 311.2h0M167.8 311.8h0M52.3 312.8h0M85.3 312.1h0M90.9 312.2h0M91.9 312.6h0M92.5 312.4h0M93.3 312.8h0M94.9 312.5h0M95.9 312.4h0M97.6 312.6h0M99.8 312.2h0M114.1 312.3h0M117.5 312.3h0M128.5 312.3h0M175.5 312.9h0M194.6 312.4h0M42.7 313.7h0M60.1 313.6h0M70.6 313.9h0M90.6 313.9h0M90.4 313.1h0M91.8 313.5h0M95.5 313.3h0M98.8 313.8h0M99.8 313.1h0M101.3 313.2h0M140.5 313.3h0M143.7 313.5h0M171.6 313.2h0M178.4 313.3h0M197.6 313.8h0M52.4 314.6h0M57.3 314.4h0M78.6 314.8h0M90.5 314.4h0M91.8 314.9h0M92.2 314.6h0M95.6 314.9h0M97.9 314.4h0M98.9 314.1h0M99.1 314.1h0M61.2 315.4h0M68.2 315.8h0M74.6 315.3h0M90.1 315.3h0M90.3 315.6h0M91.2 315.1h0M92.7 315.2h0M93.3 315.3h0M102.2 315.3h0M141.5 315.3h0M151.5 315.8h0M152.9 315.3h0M157.9 315.1h0M208.8 315.9h0M38.6 316.8h0M57.5 316.6h0M74.1 316.3h0M90.6 316.7h0M91.8 316.3h0M91.3 316.4h0M93.7 316.2h0M94.9 316.9h0M95.4 316.3h0M97.8 316.9h0M98.8 316.9h0M102.6 316.3h0M154.2 316.7h0M175.5 316.7h0M204.6 316.5h0M47.1 317.9h0M52.9 317.1h0M80.2 317.5h0M90.8 317.4h0M91.5 317.6h0M92.8 317.9h0M93.2 317.1h0M94.2 317.2h0M95.1 317.8h0M106.9 317.3h0M110.7 317.5h0M115.4 317.1h0M153.8 317.8h0M172.6 317.7h0M182.2 317.2h0M187.4 317.1h0M52.9 318.7h0M55.9 318.8h0M56.6 318.3h0M61.9 318.9h0M62.5 318.3h0M86.4 318.6h0M90.5 318.5h0M91.2 318.6h0M95.6 318.8h0M97.8 318.1h0M99.9 318.7h0M102.3 318.6h0M103.9 318.5h0M121.1 318.4h0M123.7 318.2h0M138.9 318.1h0M140.5 318.6h0M147.3 318.2h0M149.6 318.2h0M154.4 318.5h0M170.4 318.6h0M177.1 318.7h0M205.2 318.6h0M207.8 318.8h0M55.2 319.4h0M63.1 319.6h0M77.3 319.4h0M84.9 319.5h0M90.7 319.8h0M91.8 319.1h0M91.8 319.7h0M92.4 319.1h0M93.3 319.3h0M94.1 319.1h0M96.6 319.5h0M116.5 319.5h0M173.8 319.2h0M187.6 319.8h0M38.6 320.8h0M47.7 320.4h0M62.6 320.8h0M90.6 320.5h0M91.8 320.6h0M92.5 320.9h0M93.6 320.6h0M96.3 320.6h0M105.7 320.1h0M111.5 320.3h0M158.1 320.1h0M182.2 320.2h0M90.8 321.6h0M90.9 321.8h0M91.5 321.9h0M92.2 321.2h0M94.4 321.6h0M96.3 321.7h0M98.3 321.4h0M102.5 321.5h0M116.3 321.6h0M132.9 321.8h0M153.8 321.6h0M176.1 321.9h0M41.9 322.2h0M56.7 322.9h0M81.4 322.2h0M90.3 322.4h0M90.7 322.9h0M91.8 322.6h0M92.5 322.4h0M93.6 322.3h0M94.3 322.5h0M95.2 322.2h0M136.2 322.1h0M147.8 322.4h0M161.2 322.9h0M168.3 322.6h0M191.8 322.3h0M193.3 322.1h0M207.2 322.3h0M61.4 323.5h0M90.6 323.2h0M91.1 323.4h0M95.4 323.1h0M97.9 323.1h0M103.9 323.2h0M109.6 323.5h0M123.8 323.6h0M131.8 323.5h0M157.6 323.6h0M163.5 323.5h0M166.7 323.6h0M172.8 323.1h0M55.1 324.5h0M65.5 324.5h0M90.5 324.1h0M91.6 324.4h0M91.6 324.5h0M92.7 324.7h0M93.3 324.8h0M98.2 324.7h0M109.4 324.1h0M126.8 324.5h0M150.1 324.7h0M170.4 324.6h0M188.6 324.8h0M90.8 325.1h0M91.9 325.2h0M91.9 325.8h0M92.7 325.1h0M95.6 325.8h0M96.3 325.8h0M97.2 325.4h0M100.9 325.5h0M104.6 325.2h0M113.2 325.8h0M151.7 325.1h0M180.9 325.3h0M194.8 325.6h0M49.3 326.1h0M74.3 326.1h0M86.7 326.8h0M90.7 326.3h0M91.7 326.1h0M92.2 326.1h0M96.7 326.2h0M97.1 326.4h0M98.2 326.4h0M99.8 326.7h0M101.5 326.5h0M103.5 326.3h0M106.4 326.3h0M119.3 326.9h0M124.7 326.6h0M134.4 326.9h0M149.1 326.5h0M150.9 326.4h0M154.8 326.9h0M183.8 326.5h0M79.4 327.1h0M90.3 327.7h0M91.6 327.7h0M92.7 327.2h0M95.1 327.7h0M97.2 327.6h0M107.6 327.3h0M114.9 327.7h0M137.3 327.5h0M153.9 327.6h0M155.7 327.8h0M159.1 327.6h0M165.4 327.5h0M188.5 327.8h0M200.3 327.9h0M201.9 327.3h0M48.9 328.5h0M90.2 328.9h0M91.4 328.9h0M92.4 328.4h0M94.1 328.1h0M95.8 328.6h0M97.3 328.3h0M115.2 328.3h0M117.9 328.5h0M161.3 328.2h0M75.5 329.4h0M90.1 329.7h0M91.7 329.1h0M91.1 329.9h0M93.3 329.6h0M95.9 329.3h0M98.1 329.9h0M100.9 329.4h0M125.4 329.9h0M151.7 329.2h0M66.5 330.7h0M70.4 330.8h0M73.2 330.6h0M79.7 330.2h0M83.5 330.6h0M90.9 330.1h0M91.2 330.9h0M92.5 330.3h0M93.2 330.5h0M97.5 330.1h0M102.4 330.6h0M113.4 330.7h0M123.5 330.2h0M132.4 330.1h0M139.5 330.8h0M148.1 330.8h0M152.8 330.3h0M179.8 330.8h0M63.1 331.6h0M65.4 331.4h0M67.4 331.5h0M90.9 331.7h0M91.2 331.3h0M91.7 331.9h0M92.1 331.7h0M93.8 331.2h0M94.5 331.4h0M95.7 331.5h0M97.4 331.6h0M98.9 331.8h0M99.6 331.8h0M105.1 331.2h0M109.3 331.5h0M115.5 331.2h0M170.9 331.4h0M46.4 332.2h0M48.8 332.5h0M56.2 332.3h0M90.9 332.2h0M91.3 332.1h0M92.8 332.3h0M93.8 332.6h0M94.1 332.7h0M95.8 332.2h0M96.1 332.3h0M97.6 332.7h0M98.1 332.6h0M101.7 332.6h0M129.5 332.3h0M135.8 332.9h0M137.5 332.6h0M160.8 332.7h0M184.1 332.4h0M195.5 332.5h0M35.6 333.5h0M39.7 333.1h0M59.5 333.1h0M81.9 333.2h0M90.7 333.6h0M90.3 333.3h0M91.2 333.8h0M92.7 333.2h0M93.6 333.8h0M94.6 333.2h0M95.8 333.6h0M96.4 333.8h0M100.1 333.2h0M105.4 333.8h0M121.7 333.6h0M126.7 333.1h0M132.3 333.1h0M143.3 333.4h0M147.9 333.2h0M148.6 333.1h0M181.6 333.8h0M188.4 333.9h0M205.1 333.1h0M65.1 334.9h0M67.9 334.5h0M74.9 334.8h0M90.3 334.6h0M90.5 334.1h0M91.8 334.4h0M92.1 334.8h0M93.7 334.1h0M94.4 334.1h0M96.5 334.1h0M97.7 334.8h0M98.7 334.3h0M99.9 334.2h0M109.3 334.4h0M137.7 334.6h0M141.3 334.4h0M151.2 334.8h0M166.8 334.4h0M169.3 334.7h0M45.1 335.7h0M71.2 335.1h0M77.9 335.4h0M82.7 335.1h0M84.7 335.4h0M90.9 335.9h0M90.1 335.2h0M91.7 335.6h0M92.9 335.2h0M93.5 335.1h0M94.1 335.7h0M95.3 335.1h0M96.3 335.2h0M106.8 335.5h0M107.8 335.2h0M157.9 335.5h0M174.6 335.4h0M177.7 335.6h0M181.8 335.1h0M196.2 335.7h0M198.1 335.6h0M200.5 335.3h0M37.6 336.1h0M90.7 336.5h0M90.1 336.9h0M91.7 336.6h0M92.7 336.8h0M95.5 336.1h0M96.8 336.1h0M99.5 336.9h0M143.1 336.7h0M151.6 336.9h0M153.9 336.2h0M154.9 336.3h0M155.8 336.8h0M161.1 336.9h0M195.9 336.2h0M61.3 337.4h0M62.9 337.3h0M68.9 337.2h0M86.1 337.8h0M90.6 337.8h0M90.5 337.8h0M91.4 337.2h0M92.4 337.1h0M93.4 337.8h0M95.2 337.7h0M96.3 337.3h0M98.6 337.2h0M99.2 337.3h0M109.1 337.1h0M131.3 337.9h0M150.6 337.7h0M154.2 337.6h0M164.8 337.9h0M167.6 337.2h0M181.6 337.4h0M182.8 337.4h0M191.5 337.9h0M36.3 338.5h0M54.9 338.5h0M61.6 338.9h0M69.6 338.7h0M90.6 338.6h0M90.4 338.2h0M91.1 338.8h0M91.5 338.9h0M92.2 338.1h0M93.3 338.5h0M94.6 338.5h0M95.7 338.3h0M102.1 338.6h0M103.5 338.5h0M111.4 338.7h0M114.3 338.9h0M127.5 338.5h0M137.4 338.7h0M149.4 338.3h0M152.6 338.6h0M155.8 338.9h0M160.3 338.8h0M193.6 338.8h0M199.3 338.6h0M41.2 339.7h0M48.3 339.1h0M57.4 339.2h0M68.6 339.3h0M74.3 339.6h0M90.6 339.2h0M91.1 339.2h0M91.4 339.6h0M92.1 339.3h0M93.7 339.1h0M94.1 339.2h0M95.1 339.5h0M96.7 339.5h0M97.2 339.4h0M99.3 339.7h0M100.8 339.2h0M102.1 339.7h0M110.3 339.2h0M113.9 339.4h0M140.8 339.1h0M142.9 339.5h0M149.5 339.3h0M157.4 339.6h0M163.5 339.1h0M172.5 339.2h0M179.5 339.8h0M195.5 339.4h0M197.5 339.8h0M55.9 340.4h0M59.5 340.9h0M63.4 340.9h0M75.9 340.2h0M78.6 340.3h0M85.9 340.4h0M90.5 340.8h0M90.3 340.2h0M91.5 340.6h0M92.2 340.7h0M93.9 340.8h0M95.2 340.9h0M96.4 340.4h0M98.6 340.2h0M99.7 340.6h0M100.3 340.3h0M113.1 340.7h0M124.4 340.7h0M132.4 340.5h0M137.3 340.5h0M138.2 340.6h0M143.9 340.4h0M149.6 340.2h0M152.3 340.9h0M155.1 340.8h0M156.3 340.1h0M159.5 340.9h0M160.8 340.3h0M164.6 340.4h0M176.9 340.6h0M180.5 340.1h0M184.4 340.2h0M190.1 340.8h0M40.3 341.3h0M45.4 341.8h0M69.4 341.8h0M84.7 341.9h0M85.9 341.7h0M90.5 341.9h0M90.5 341.4h0M91.4 341.9h0M91.1 341.9h0M92.9 341.7h0M94.5 341.7h0M95.6 341.2h0M96.4 341.4h0M98.2 341.4h0M99.9 341.2h0M101.7 341.8h0M102.1 341.3h0M107.1 341.2h0M126.4 341.4h0M127.9 341.8h0M130.1 341.4h0M132.4 341.1h0M134.5 341.1h0M139.5 341.5h0M148.5 341.5h0M154.3 341.7h0M165.5 341.2h0M187.1 341.5h0M190.2 341.3h0M194.4 341.8h0M207.7 341.7h0M39.8 342.9h0M54.4 342.2h0M59.5 342.9h0M60.1 342.6h0M63.4 342.8h0M90.8 342.5h0M91.6 342.8h0M92.5 342.8h0M93.3 342.5h0M94.2 342.5h0M95.2 342.5h0M98.5 342.9h0M99.9 342.1h0M101.9 342.5h0M105.8 342.7h0M107.1 342.9h0M112.2 342.5h0M114.1 342.6h0M116.1 342.9h0M121.2 342.2h0M122.2 342.6h0M132.3 342.7h0M140.2 342.4h0M149.5 342.3h0M150.5 342.8h0M151.2 342.9h0M156.6 342.5h0M188.3 342.9h0M191.4 342.9h0M201.8 342.9h0M37.1 343.7h0M67.8 343.8h0M75.2 343.7h0M90.7 343.3h0M91.5 343.1h0M92.1 343.1h0M93.1 343.7h0M95.4 343.8h0M96.8 343.8h0M98.2 343.6h0M103.3 343.5h0M108.8 343.4h0M111.5 343.2h0M116.5 343.6h0M124.9 343.8h0M125.2 343.5h0M143.9 343.2h0M149.2 343.6h0M154.3 343.9h0M175.1 343.3h0M187.6 343.3h0M205.3 343.7h0M45.3 344.8h0M68.5 344.9h0M79.5 344.4h0M90.6 344.1h0M90.5 344.9h0M91.1 344.4h0M91.9 344.8h0M92.8 344.7h0M93.7 344.5h0M94.6 344.3h0M96.9 344.9h0M98.3 344.5h0M99.5 344.5h0M101.2 344.3h0M103.2 344.1h0M106.7 344.5h0M112.6 344.9h0M113.2 344.6h0M114.1 344.8h0M117.9 344.2h0M119.2 344.4h0M121.5 344.1h0M122.4 344.1h0M123.5 344.9h0M124.3 344.8h0M127.3 344.6h0M130.1 344.9h0M139.4 344.5h0M141.4 344.2h0M142.8 344.3h0M143.5 344.2h0M149.1 344.5h0M155.6 344.3h0M156.1 344.2h0M161.7 344.4h0M38.4 345.7h0M39.8 345.5h0M45.6 345.2h0M48.1 345.1h0M67.9 345.8h0M68.5 345.7h0M90.1 345.2h0M90.3 345.4h0M91.6 345.2h0M91.3 345.6h0M92.8 345.4h0M93.1 345.6h0M94.5 345.3h0M95.9 345.1h0M97.4 345.4h0M98.6 345.8h0M100.6 345.7h0M101.8 345.2h0M103.6 345.6h0M105.9 345.1h0M109.6 345.3h0M114.1 345.5h0M121.8 345.4h0M126.6 345.1h0M131.7 345.4h0M137.1 345.6h0M149.2 345.7h0M164.4 345.1h0M178.3 345.5h0M180.4 345.3h0M193.9 345.4h0M204.1 345.6h0M209.8 345.9h0M44.1 346.5h0M55.9 346.2h0M58.2 346.4h0M86.1 346.7h0M90.7 346.3h0M90.6 346.9h0M91.6 346.4h0M92.2 346.3h0M93.4 346.6h0M94.5 346.2h0M95.2 346.8h0M98.1 346.3h0M99.1 346.4h0M102.1 346.5h0M105.3 346.4h0M112.3 346.2h0M116.2 346.6h0M125.9 346.1h0M131.9 346.9h0M135.1 346.7h0M149.6 346.9h0M151.2 346.9h0M171.2 346.6h0M176.2 346.2h0M178.3 346.5h0M186.9 346.6h0M187.5 346.1h0M199.5 346.4h0M204.3 346.9h0M53.5 347.6h0M58.7 347.3h0M90.5 347.8h0M91.1 347.4h0M92.9 347.3h0M93.5 347.2h0M95.9 347.3h0M96.4 347.9h0M97.8 347.9h0M99.2 347.7h0M108.9 347.9h0M110.8 347.9h0M111.7 347.8h0M114.3 347.8h0M116.1 347.5h0M121.5 347.7h0M122.2 347.6h0M123.6 347.2h0M131.8 347.7h0M133.2 347.6h0M135.8 347.7h0M136.2 347.7h0M139.8 347.9h0M150.2 347.3h0M159.1 347.1h0M164.7 347.4h0M173.3 347.3h0M181.1 347.3h0M182.2 347.7h0M184.6 347.5h0M185.4 347.7h0M189.2 347.9h0M193.3 347.4h0M207.2 347.2h0M36.1 348.5h0M58.9 348.7h0M61.1 348.4h0M68.1 348.7h0M81.6 348.1h0M90.7 348.6h0M91.3 348.7h0M91.2 348.6h0M92.5 348.6h0M92.9 348.1h0M93.4 348.4h0M94.3 348.8h0M95.2 348.5h0M97.1 348.2h0M99.2 348.1h0M100.6 348.7h0M101.5 348.1h0M102.2 348.7h0M106.5 348.3h0M108.1 348.9h0M109.8 348.3h0M117.9 348.7h0M121.1 348.4h0M123.8 348.2h0M127.7 348.3h0M130.9 348.9h0M134.1 348.8h0M141.7 348.6h0M150.4 348.1h0M156.9 348.2h0M157.9 348.1h0M161.2 348.3h0M169.7 348.2h0M36.9 349.9h0M38.7 349.1h0M42.2 349.9h0M58.9 349.7h0M61.4 349.9h0M68.6 349.1h0M77.8 349.5h0M90.5 349.8h0M90.7 349.8h0M91.7 349.1h0M92.4 349.2h0M93.5 349.7h0M94.6 349.2h0M95.7 349.9h0M96.4 349.1h0M98.4 349.3h0M101.1 349.5h0M104.6 349.8h0M105.8 349.7h0M110.9 349.7h0M114.2 349.3h0M118.1 349.7h0M119.6 349.5h0M130.1 349.4h0M133.6 349.1h0M153.9 349.2h0M155.8 349.6h0M169.1 349.7h0M173.3 349.7h0M175.9 349.8h0M177.2 349.2h0M185.8 349.6h0M199.4 349.5h0M201.5 349.4h0M39.2 350.9h0M48.9 350.5h0M64.4 350.2h0M84.2 350.1h0M90.3 350.1h0M90.7 350.6h0M91.6 350.9h0M92.9 350.7h0M92.6 350.9h0M93.1 350.6h0M94.5 350.5h0M95.7 350.5h0M97.9 350.7h0M99.2 350.8h0M104.7 350.9h0M105.3 350.3h0M108.1 350.1h0M110.2 350.6h0M120.7 350.6h0M121.9 350.8h0M125.1 350.3h0M127.2 350.7h0M130.8 350.7h0M149.2 350.7h0M150.4 350.7h0M151.5 350.1h0M155.6 350.3h0M161.3 350.4h0M168.1 350.7h0M195.8 350.3h0M204.6 350.5h0M209.6 350.2h0M49.8 351.3h0M58.9 351.3h0M65.2 351.7h0M79.6 351.5h0M90.5 351.3h0M90.9 351.6h0M91.1 351.1h0M91.2 351.2h0M92.2 351.6h0M93.9 351.1h0M94.5 351.3h0M95.6 351.2h0M97.6 351.8h0M104.3 351.2h0M107.1 351.8h0M110.1 351.6h0M118.4 351.2h0M128.7 351.6h0M130.1 351.4h0M136.4 351.7h0M142.5 351.5h0M150.9 351.3h0M161.5 351.8h0M163.6 351.2h0M169.5 351.2h0M173.5 351.9h0M183.8 351.3h0M184.7 351.9h0M187.4 351.9h0M205.6 351.8h0M209.9 351.8h0M43.7 352.8h0M54.5 352.9h0M62.9 352.4h0M75.7 352.9h0M78.4 352.7h0M90.8 352.3h0M91.2 352.9h0M92.2 352.1h0M93.5 352.6h0M94.3 352.3h0M95.3 352.4h0M96.3 352.2h0M97.2 352.6h0M98.6 352.5h0M99.5 352.9h0M100.9 352.4h0M104.3 352.4h0M105.1 352.2h0M107.2 352.5h0M110.4 352.5h0M118.7 352.3h0M122.1 352.1h0M127.7 352.7h0M128.8 352.8h0M138.1 352.8h0M140.2 352.3h0M150.8 352.2h0M151.3 352.8h0M154.6 352.3h0M157.5 352.1h0M158.3 352.5h0M166.7 352.5h0M167.5 352.8h0M173.1 352.8h0M174.4 352.9h0M196.9 352.4h0M197.1 352.2h0M38.8 353.3h0M48.8 353.5h0M57.6 353.6h0M69.7 353.5h0M74.3 353.7h0M90.2 353.2h0M90.9 353.3h0M91.8 353.7h0M91.9 353.5h0M92.1 353.4h0M93.9 353.6h0M94.5 353.6h0M95.7 353.5h0M96.9 353.1h0M97.9 353.2h0M98.4 353.8h0M99.6 353.4h0M100.5 353.2h0M101.9 353.3h0M102.8 353.2h0M105.6 353.4h0M106.8 353.6h0M108.2 353.2h0M112.9 353.4h0M115.8 353.5h0M120.1 353.6h0M121.3 353.1h0M122.4 353.2h0M123.7 353.6h0M125.5 353.7h0M127.9 353.8h0M131.1 353.5h0M132.1 353.1h0M133.3 353.3h0M137.2 353.6h0M147.8 353.9h0M148.4 353.7h0M150.4 353.1h0M151.5 353.6h0M158.9 353.5h0M161.9 353.9h0M162.5 353.3h0M167.9 353.3h0M185.3 353.5h0M190.4 353.7h0M195.8 353.9h0M196.5 353.7h0M38.3 354.4h0M44.9 354.7h0M64.7 354.5h0M68.4 354.4h0M75.2 354.1h0M84.4 354.8h0M86.8 354.2h0M90.4 354.8h0M91.1 354.1h0M91.3 354.9h0M92.3 354.6h0M93.3 354.4h0M94.5 354.3h0M95.8 354.4h0M96.8 354.8h0M100.7 354.4h0M103.9 354.6h0M105.9 354.2h0M106.9 354.9h0M107.7 354.9h0M108.6 354.9h0M109.7 354.6h0M115.1 354.1h0M117.9 354.6h0M119.2 354.4h0M130.4 354.4h0M131.6 354.4h0M140.9 354.6h0M143.5 354.9h0M151.5 354.8h0M154.3 354.4h0M155.3 354.7h0M156.6 354.8h0M159.4 354.4h0M167.8 354.1h0M171.9 354.8h0M172.8 354.7h0M181.6 354.4h0M200.3 354.3h0M205.2 354.1h0M206.4 354.8h0M38.8 355.9h0M44.3 355.4h0M45.7 355.3h0M49.4 355.9h0M52.2 355.5h0M72.6 355.7h0M73.1 355.1h0M76.5 355.5h0M90.4 355.9h0M91.2 355.3h0M92.3 355.3h0M93.4 355.7h0M94.3 355.1h0M95.5 355.3h0M97.7 355.8h0M98.9 355.9h0M99.4 355.9h0M100.6 355.5h0M101.8 355.5h0M102.8 355.7h0M105.2 355.9h0M108.7 355.1h0M110.6 355.2h0M116.1 355.5h0M119.4 355.7h0M127.3 355.6h0M135.7 355.5h0M140.6 355.1h0M159.1 355.7h0M161.3 355.2h0M167.4 355.3h0M171.7 355.6h0M172.2 355.6h0M173.2 355.5h0M183.3 355.5h0M185.1 355.6h0M190.3 355.8h0M196.3 355.8h0M197.9 355.5h0M204.9 355.9h0M35.6 356.4h0M36.5 356.7h0M38.6 356.8h0M64.7 356.1h0M90.5 356.7h0M90.9 356.3h0M91.9 356.2h0M92.9 356.2h0M92.4 356.3h0M93.6 356.3h0M94.1 356.7h0M95.1 356.9h0M96.6 356.6h0M97.1 356.1h0M98.8 356.9h0M99.7 356.9h0M101.6 356.6h0M103.2 356.7h0M109.8 356.8h0M112.3 356.8h0M114.1 356.4h0M120.7 356.3h0M127.9 356.7h0M136.8 356.2h0M142.5 356.9h0M147.4 356.4h0M148.5 356.5h0M150.7 356.4h0M154.8 356.6h0M156.6 356.9h0M164.6 356.1h0M167.8 356.3h0M195.6 356.3h0M196.1 356.2h0M35.7 357.3h0M38.7 357.7h0M41.2 357.4h0M45.9 357.1h0M46.9 357.5h0M78.7 357.3h0M90.1 357.1h0M90.8 357.6h0M91.7 357.1h0M91.7 357.6h0M92.5 357.8h0M93.2 357.3h0M94.8 357.5h0M95.6 357.9h0M96.5 357.6h0M97.9 357.5h0M99.6 357.9h0M101.4 357.3h0M102.7 357.6h0M103.3 357.4h0M107.4 357.2h0M115.5 357.7h0M123.3 357.7h0M131.2 357.2h0M133.7 357.7h0M134.1 357.8h0M140.1 357.5h0M141.6 357.5h0M152.7 357.8h0M154.5 357.1h0M158.2 357.1h0M159.5 357.5h0M160.7 357.6h0M168.3 357.8h0M171.2 357.4h0M180.3 357.3h0M183.1 357.5h0M184.9 357.3h0M190.7 357.1h0M194.3 357.1h0M195.5 357.5h0M197.9 357.3h0M198.4 357.9h0M199.7 357.9h0M36.5 358.5h0M37.7 358.1h0M39.4 358.5h0M40.9 358.6h0M41.9 358.4h0M42.4 358.9h0M56.8 358.5h0M59.1 358.2h0M65.3 358.7h0M66.5 358.5h0M69.2 358.1h0M81.3 358.1h0M83.1 358.6h0M90.1 358.3h0M90.2 358.3h0M91.8 358.4h0M92.1 358.4h0M92.6 358.4h0M93.1 358.7h0M94.5 358.8h0M95.9 358.1h0M97.4 358.6h0M98.8 358.1h0M99.5 358.5h0M100.2 358.3h0M103.5 358.4h0M104.5 358.2h0M105.4 358.4h0M106.1 358.2h0M107.2 358.9h0M108.8 358.3h0M111.2 358.4h0M112.9 358.5h0M114.4 358.2h0M115.6 358.1h0M126.7 358.4h0M130.9 358.6h0M135.6 358.3h0M141.6 358.4h0M143.1 358.4h0M150.5 358.3h0M151.1 358.1h0M156.1 358.1h0M160.4 358.6h0M164.1 358.7h0M174.9 358.5h0M180.4 358.4h0M181.3 358.3h0M190.8 358.5h0M192.9 358.9h0M202.6 358.3h0M37.4 359.2h0M45.1 359.9h0M47.7 359.4h0M53.6 359.6h0M66.7 359.5h0M70.3 359.8h0M71.6 359.9h0M75.8 359.4h0M90.3 359.9h0M91.8 359.5h0M91.6 359.9h0M92.7 359.5h0M93.1 359.7h0M93.4 359.4h0M94.6 359.6h0M95.8 359.9h0M97.1 359.5h0M99.1 359.7h0M100.7 359.6h0M102.5 359.9h0M105.4 359.6h0M106.6 359.8h0M107.2 359.4h0M108.1 359.6h0M109.6 359.6h0M111.3 359.5h0M112.9 359.9h0M113.4 359.6h0M116.6 359.2h0M127.2 359.3h0M129.3 359.5h0M130.1 359.5h0M131.6 359.5h0M132.1 359.1h0M139.9 359.1h0M149.7 359.1h0M154.9 359.5h0M155.9 359.4h0M159.8 359.5h0M160.9 359.2h0M173.2 359.6h0M184.6 359.5h0M203.8 359.3h0M48.5 360.6h0M51.2 360.7h0M72.9 360.4h0M82.5 360.1h0M90.1 360.1h0M90.3 360.8h0M91.7 360.1h0M92.8 360.3h0M93.5 360.2h0M94.6 360.3h0M95.1 360.7h0M96.3 360.2h0M97.8 360.4h0M98.4 360.9h0M99.2 360.8h0M100.3 360.7h0M101.9 360.3h0M102.5 360.5h0M103.1 360.7h0M105.6 360.8h0M113.5 360.7h0M114.5 360.3h0M121.3 360.1h0M127.5 360.5h0M128.1 360.5h0M131.2 360.8h0M134.7 360.7h0M136.1 360.3h0M152.3 360.2h0M155.6 360.5h0M161.3 360.2h0M162.4 360.4h0M173.9 360.8h0M174.1 360.9h0M178.7 360.9h0M184.3 360.1h0M196.8 360.2h0M205.1 360.6h0M51.9 361.6h0M53.2 361.7h0M58.9 361.3h0M60.2 361.3h0M62.9 361.3h0M67.1 361.5h0M73.4 361.7h0M74.4 361.5h0M83.3 361.7h0M90.5 361.8h0M91.8 361.3h0M91.2 361.2h0M92.5 361.7h0M93.1 361.4h0M94.2 361.9h0M95.9 361.9h0M96.9 361.7h0M98.7 361.5h0M99.9 361.3h0M102.8 361.1h0M104.1 361.5h0M110.3 361.3h0M116.6 361.2h0M117.7 361.7h0M120.4 361.2h0M123.2 361.8h0M127.3 361.2h0M135.8 361.4h0M140.1 361.8h0M141.7 361.7h0M142.4 361.1h0M143.8 361.4h0M148.6 361.1h0M152.3 361.1h0M153.4 361.3h0M155.9 361.8h0M161.7 361.8h0M162.7 361.3h0M169.4 361.8h0M174.2 361.6h0M188.4 361.3h0M193.2 361.4h0M207.8 361.3h0M208.8 361.7h0M41.6 362.7h0M44.9 362.6h0M51.8 362.2h0M55.8 362.4h0M60.2 362.4h0M62.8 362.3h0M72.5 362.5h0M78.6 362.9h0M82.4 362.7h0M84.4 362.8h0M90.9 362.1h0M90.4 362.7h0M91.2 362.5h0M91.7 362.4h0M92.9 362.3h0M92.5 362.7h0M93.5 362.2h0M94.2 362.4h0M95.6 362.8h0M97.7 362.6h0M98.9 362.6h0M99.4 362.9h0M100.9 362.1h0M106.6 362.1h0M107.3 362.9h0M108.9 362.5h0M114.2 362.6h0M116.2 362.5h0M118.6 362.9h0M121.3 362.8h0M134.9 362.6h0M136.2 362.6h0M138.7 362.1h0M140.1 362.1h0M142.4 362.6h0M143.6 362.5h0M148.5 362.9h0M151.5 362.5h0M152.6 362.6h0M153.6 362.3h0M154.3 362.7h0M158.1 362.5h0M161.2 362.5h0M164.7 362.5h0M165.5 362.6h0M173.9 362.5h0M175.7 362.4h0M177.7 362.3h0M182.2 362.9h0M187.5 362.5h0M196.4 362.9h0M203.4 362.5h0M206.9 362.9h0M40.2 363.1h0M44.5 363.8h0M48.8 363.6h0M53.1 363.7h0M54.5 363.5h0M62.3 363.2h0M65.6 363.4h0M69.1 363.5h0M70.7 363.4h0M82.9 363.9h0M83.9 363.6h0M84.4 363.6h0M90.6 363.1h0M90.9 363.9h0M91.7 363.7h0M91.7 363.9h0M92.8 363.6h0M92.4 363.9h0M93.1 363.8h0M93.3 363.4h0M94.5 363.2h0M95.5 363.8h0M96.8 363.4h0M97.8 363.5h0M100.3 363.5h0M102.2 363.9h0M103.1 363.1h0M105.8 363.9h0M108.5 363.9h0M111.4 363.3h0M112.9 363.5h0M114.8 363.1h0M123.2 363.9h0M129.5 363.2h0M132.5 363.7h0M134.4 363.7h0M136.1 363.3h0M139.4 363.3h0M153.4 363.8h0M154.8 363.4h0M155.4 363.2h0M157.5 363.4h0M162.1 363.6h0M163.3 363.2h0M169.9 363.2h0M170.3 363.6h0M172.8 363.4h0M173.4 363.3h0M174.9 363.8h0M178.9 363.4h0M183.4 363.3h0M190.3 363.1h0M195.7 363.7h0M196.3 363.7h0M198.4 363.3h0M203.1 363.1h0M50.8 364.1h0M56.1 364.6h0M60.7 364.1h0M62.4 364.7h0M64.7 364.2h0M70.4 364.5h0M72.7 364.9h0M77.9 364.2h0M86.1 364.6h0M90.6 364.1h0M91.5 364.9h0M92.8 364.5h0M93.2 364.2h0M94.3 364.3h0M95.4 364.8h0M96.5 364.4h0M97.8 364.2h0M98.4 364.4h0M99.3 364.3h0M100.3 364.1h0M101.5 364.1h0M105.9 364.3h0M107.3 364.2h0M111.1 364.5h0M116.1 364.3h0M119.8 364.9h0M125.8 364.4h0M132.2 364.8h0M133.9 364.6h0M135.9 364.4h0M139.7 364.2h0M147.4 364.5h0M148.7 364.5h0M151.7 364.7h0M152.3 364.1h0M157.7 364.1h0M163.8 364.5h0M170.2 364.9h0M181.3 364.9h0M190.3 364.3h0M204.6 364.9h0M39.7 365.9h0M40.1 365.1h0M51.4 365.2h0M53.4 365.7h0M56.4 365.5h0M58.8 365.8h0M59.4 365.4h0M65.6 365.9h0M68.2 365.2h0M77.1 365.8h0M86.7 365.1h0M90.1 365.8h0M90.5 365.9h0M91.3 365.2h0M92.6 365.5h0M92.1 365.6h0M93.1 365.7h0M93.5 365.8h0M94.9 365.7h0M95.3 365.6h0M96.3 365.5h0M97.2 365.6h0M98.9 365.8h0M99.7 365.3h0M101.7 365.7h0M102.4 365.3h0M103.2 365.4h0M104.6 365.9h0M105.3 365.1h0M107.2 365.4h0M110.6 365.9h0M112.3 365.6h0M114.1 365.6h0M116.9 365.5h0M117.6 365.3h0M118.5 365.8h0M122.3 365.3h0M126.7 365.9h0M127.3 365.2h0M133.3 365.8h0M137.2 365.4h0M139.8 365.3h0M147.6 365.9h0M153.9 365.1h0M168.4 365.1h0M169.7 365.8h0M203.6 365.8h0M208.6 365.5h0M42.4 366.5h0M43.9 366.6h0M46.1 366.3h0M50.1 366.7h0M57.7 366.4h0M60.9 366.9h0M85.8 366.6h0M90.4 366.3h0M90.5 366.3h0M91.5 366.5h0M91.4 366.8h0M92.3 366.6h0M92.5 366.3h0M93.6 366.1h0M94.4 366.8h0M95.3 366.6h0M96.5 366.7h0M97.7 366.1h0M98.5 366.3h0M101.2 366.7h0M102.2 366.6h0M103.5 366.3h0M104.2 366.4h0M105.2 366.9h0M108.6 366.6h0M110.4 366.4h0M111.9 366.1h0M112.6 366.1h0M114.1 366.1h0M116.2 366.3h0M118.5 366.2h0M119.6 366.7h0M120.5 366.2h0M122.8 366.3h0M124.5 366.3h0M125.5 366.7h0M127.8 366.9h0M133.3 366.6h0M138.7 366.1h0M143.8 366.7h0M147.1 366.1h0M148.1 366.9h0M149.1 366.9h0M150.8 366.5h0M151.5 366.7h0M154.6 366.5h0M156.1 366.8h0M158.1 366.4h0M164.5 366.4h0M168.1 366.7h0M181.2 366.2h0M182.4 366.2h0M185.8 366.5h0M190.3 366.7h0M195.1 366.6h0M197.4 366.5h0M198.1 366.6h0M205.3 366.8h0M40.4 367.1h0M60.7 367.9h0M62.9 367.7h0M77.7 367.8h0M78.2 367.2h0M90.5 367.2h0M90.4 367.4h0M91.1 367.5h0M92.2 367.8h0M92.4 367.7h0M93.3 367.2h0M94.8 367.5h0M95.3 367.2h0M96.6 367.3h0M97.4 367.1h0M98.7 367.2h0M99.6 367.3h0M100.3 367.9h0M101.3 367.6h0M102.7 367.2h0M105.6 367.6h0M107.1 367.8h0M109.9 367.2h0M113.6 367.1h0M119.3 367.7h0M120.2 367.5h0M121.8 367.5h0M123.4 367.3h0M125.8 367.2h0M130.2 367.7h0M131.1 367.4h0M134.6 367.5h0M137.1 367.7h0M139.1 367.5h0M140.9 367.1h0M142.2 367.9h0M150.1 367.6h0M151.6 367.4h0M153.8 367.5h0M154.5 367.2h0M175.1 367.2h0M179.1 367.6h0M200.2 367.6h0M204.5 367.2h0M207.3 367.4h0M39.8 368.5h0M41.3 368.3h0M47.3 368.7h0M58.4 368.8h0M61.6 368.2h0M64.5 368.6h0M73.4 368.4h0M77.9 368.4h0M90.9 368.5h0M90.2 368.8h0M91.5 368.6h0M91.2 368.7h0M92.5 368.6h0M93.9 368.8h0M93.9 368.4h0M94.9 368.7h0M95.4 368.8h0M96.9 368.8h0M97.8 368.3h0M98.1 368.8h0M99.4 368.9h0M100.5 368.9h0M101.8 368.1h0M102.4 368.6h0M104.4 368.8h0M105.2 368.5h0M106.2 368.3h0M107.3 368.6h0M109.2 368.5h0M111.8 368.3h0M115.8 368.7h0M118.8 368.1h0M120.9 368.6h0M124.7 368.5h0M126.4 368.9h0M128.4 368.8h0M129.4 368.5h0M132.8 368.3h0M133.9 368.9h0M138.5 368.5h0M139.4 368.3h0M140.1 368.6h0M141.2 368.4h0M143.9 368.4h0M147.4 368.8h0M150.6 368.7h0M153.6 368.5h0M155.7 368.6h0M156.9 368.5h0M158.5 368.6h0M162.1 368.1h0M168.4 368.1h0M172.5 368.7h0M173.4 368.9h0M180.7 368.9h0M183.7 368.8h0M184.6 368.2h0M192.7 368.7h0M195.4 368.9h0M197.1 368.4h0M201.7 368.3h0M202.6 368.6h0M203.6 368.2h0M209.3 368.3h0M35.1 369.8h0M42.7 369.6h0M60.8 369.4h0M62.8 369.2h0M78.8 369.2h0M81.5 369.8h0M85.4 369.5h0M90.8 369.7h0M90.6 369.7h0M91.7 369.8h0M91.8 369.5h0M92.4 369.2h0M93.9 369.3h0M93.7 369.9h0M94.7 369.4h0M95.8 369.9h0M96.4 369.6h0M97.1 369.6h0M98.3 369.6h0M101.2 369.5h0M102.1 369.3h0M104.7 369.3h0M105.5 369.6h0M107.1 369.5h0M110.7 369.7h0M111.7 369.9h0M112.7 369.9h0M113.4 369.9h0M114.1 369.5h0M117.7 369.3h0M124.1 369.5h0M125.3 369.9h0M127.6 369.3h0M128.9 369.5h0M132.2 369.2h0M134.3 369.5h0M136.9 369.1h0M140.7 369.1h0M142.2 369.8h0M143.2 369.5h0M148.3 369.3h0M155.4 369.5h0M159.2 369.4h0M164.6 369.8h0M167.1 369.8h0M168.1 369.5h0M179.6 369.1h0M180.3 369.2h0M186.5 369.4h0M187.5 369.9h0M191.9 369.6h0M197.9 369.1h0M198.6 369.9h0M199.5 369.6h0M201.8 369.7h0M206.3 369.4h0M208.2 369.6h0M39.3 370.5h0M44.7 370.3h0M45.8 370.4h0M49.9 370.2h0M50.3 370.4h0M51.6 370.1h0M54.7 370.8h0M55.9 370.4h0M56.9 370.3h0M59.6 370.4h0M65.6 370.3h0M73.9 370.7h0M82.5 370.7h0M84.4 370.2h0M86.4 370.9h0M90.4 370.7h0M90.4 370.5h0M91.1 370.4h0M91.5 370.6h0M92.6 370.5h0M93.3 370.1h0M93.3 370.9h0M94.7 370.5h0M95.4 370.5h0M96.4 370.7h0M97.5 370.3h0M98.7 370.6h0M99.3 370.4h0M100.3 370.3h0M101.9 370.8h0M102.2 370.2h0M103.8 370.1h0M104.9 370.6h0M107.2 370.2h0M108.7 370.6h0M113.6 370.1h0M114.8 370.1h0M121.1 370.4h0M123.4 370.4h0M126.7 370.1h0M129.3 370.3h0M130.1 370.3h0M133.1 370.6h0M135.6 370.7h0M137.8 370.5h0M139.1 370.4h0M141.6 370.2h0M143.6 370.9h0M149.2 370.6h0M150.1 370.5h0M158.3 370.3h0M161.4 370.2h0M162.1 370.3h0M163.2 370.6h0M165.3 370.1h0M166.3 370.9h0M170.3 370.5h0M173.1 370.5h0M181.1 370.1h0M182.8 370.6h0M183.2 370.3h0M188.9 370.5h0M191.2 370.7h0M196.6 370.4h0M207.4 370.3h0M37.3 371.9h0M41.6 371.8h0M43.4 371.7h0M46.2 371.9h0M47.5 371.1h0M48.5 371.6h0M54.7 371.2h0M58.6 371.3h0M65.6 371.1h0M72.4 371.6h0M80.2 371.3h0M83.8 371.5h0M90.4 371.6h0M90.5 371.5h0M91.3 371.9h0M91.2 371.6h0M92.6 371.5h0M93.9 371.3h0M93.1 371.3h0M94.6 371.4h0M95.3 371.3h0M96.2 371.8h0M97.2 371.8h0M98.1 371.7h0M99.1 371.5h0M100.3 371.7h0M101.2 371.6h0M103.7 371.4h0M105.4 371.7h0M108.2 371.7h0M109.3 371.5h0M111.3 371.6h0M116.8 371.4h0M118.4 371.8h0M119.6 371.7h0M120.7 371.7h0M122.5 371.1h0M124.5 371.2h0M125.2 371.6h0M127.3 371.8h0M128.8 371.1h0M133.8 371.1h0M134.6 371.5h0M140.8 371.1h0M141.5 371.6h0M142.8 371.9h0M143.3 371.7h0M147.4 371.7h0M149.7 371.3h0M150.4 371.9h0M152.6 371.9h0M153.6 371.4h0M154.5 371.4h0M155.3 371.5h0M156.3 371.3h0M158.3 371.6h0M161.1 371.4h0M163.3 371.6h0M166.9 371.9h0M174.7 371.6h0M178.2 371.5h0M183.8 371.5h0M184.8 371.1h0M188.1 371.2h0M200.4 371.4h0M205.5 371.7h0M41.2 372.5h0M44.5 372.9h0M47.4 372.9h0M48.5 372.5h0M58.7 372.6h0M64.5 372.8h0M73.7 372.3h0M82.2 372.2h0M85.8 372.6h0M90.7 372.5h0M90.2 372.3h0M91.2 372.2h0M91.9 372.3h0M92.1 372.2h0M92.6 372.9h0M93.6 372.7h0M93.7 372.7h0M94.7 372.9h0M95.3 372.1h0M96.9 372.7h0M97.3 372.2h0M98.3 372.1h0M99.7 372.9h0M100.6 372.9h0M103.6 372.5h0M104.2 372.4h0M105.1 372.6h0M106.2 372.4h0M107.6 372.8h0M109.2 372.1h0M110.8 372.8h0M113.7 372.2h0M114.3 372.5h0M120.9 372.1h0M121.7 372.6h0M122.7 372.3h0M125.9 372.7h0M130.2 372.3h0M132.3 372.2h0M138.6 372.6h0M139.3 372.3h0M141.6 372.3h0M142.6 372.4h0M151.5 372.3h0M156.6 372.5h0M161.6 372.1h0M162.2 372.6h0M171.7 372.7h0M175.6 372.8h0M180.4 372.7h0M181.5 372.8h0M187.3 372.5h0M190.7 372.2h0M195.8 372.2h0M196.1 372.9h0M198.7 372.3h0M199.6 372.9h0M201.9 372.3h0M203.6 372.1h0M36.5 373.1h0M38.6 373.1h0M41.7 373.6h0M56.6 373.5h0M57.3 373.4h0M61.2 373.6h0M68.3 373.1h0M71.9 373.2h0M72.6 373.3h0M85.2 373.2h0M90.9 373.4h0M90.8 373.1h0M91.5 373.3h0M91.7 373.6h0M92.6 373.1h0M93.4 373.4h0M93.7 373.3h0M94.3 373.1h0M95.7 373.9h0M95.4 373.5h0M96.8 373.9h0M97.8 373.3h0M98.5 373.2h0M99.1 373.7h0M100.2 373.4h0M101.6 373.9h0M102.7 373.8h0M103.1 373.3h0M106.4 373.9h0M108.7 373.7h0M110.7 373.8h0M111.4 373.8h0M112.5 373.9h0M114.2 373.3h0M115.7 373.8h0M117.5 373.4h0M123.7 373.8h0M129.2 373.6h0M132.7 373.3h0M134.5 373.4h0M141.3 373.5h0M142.5 373.2h0M143.2 373.4h0M149.9 373.9h0M150.7 373.5h0M151.2 373.3h0M154.3 373.3h0M156.7 373.7h0M158.5 373.4h0M159.6 373.2h0M160.7 373.3h0M162.7 373.7h0M165.6 373.8h0M177.4 373.7h0M187.9 373.4h0M194.6 373.5h0M195.6 373.1h0M198.2 373.7h0M201.3 373.8h0M203.1 373.6h0M37.3 374.7h0M41.4 374.3h0M45.6 374.4h0M48.9 374.7h0M51.8 374.1h0M56.4 374.8h0M57.7 374.5h0M58.9 374.7h0M62.5 374.4h0M72.1 374.9h0M81.1 374.9h0M91.4 374.3h0M91.8 374.7h0M92.8 374.9h0M93.9 374.9h0M93.3 374.7h0M94.8 374.9h0M94.1 374.6h0M95.1 374.1h0M96.2 374.3h0M97.9 374.9h0M98.2 374.2h0M99.1 374.1h0M100.5 374.7h0M101.7 374.2h0M103.8 374.7h0M107.6 374.3h0M109.5 374.3h0M110.1 374.2h0M111.5 374.3h0M113.7 374.9h0M114.3 374.8h0M116.5 374.6h0M117.6 374.3h0M119.5 374.2h0M120.1 374.3h0M126.2 374.4h0M128.4 374.4h0M134.3 374.9h0M135.4 374.2h0M148.9 374.8h0M149.1 374.1h0M150.6 374.3h0M152.7 374.9h0M154.6 374.2h0M155.2 374.9h0M156.7 374.2h0M160.7 374.1h0M162.9 374.7h0M164.7 374.3h0M165.5 374.8h0M166.7 374.3h0M167.4 374.1h0M172.9 374.8h0M184.7 374.7h0M188.4 374.8h0M191.3 374.6h0M192.2 374.5h0M200.6 374.5h0M201.9 374.9h0M207.8 374.3h0M209.4 374.9h0M38.8 375.1h0M39.4 375.3h0M41.1 375.3h0M42.7 375.7h0M43.6 375.5h0M54.4 375.1h0M59.6 375.5h0M61.7 375.7h0M70.7 375.1h0M72.8 375.5h0M81.1 375.8h0M82.8 375.8h0M85.6 375.6h0M91.3 375.9h0M91.5 375.7h0M92.3 375.3h0M93.7 375.5h0M93.1 375.8h0M94.9 375.5h0M95.1 375.7h0M96.1 375.8h0M97.5 375.5h0M98.1 375.7h0M99.8 375.1h0M100.2 375.5h0M101.2 375.8h0M102.7 375.6h0M104.2 375.8h0M107.2 375.3h0M109.6 375.9h0M110.5 375.5h0M111.5 375.2h0M112.8 375.8h0M113.8 375.6h0M115.3 375.6h0M117.3 375.9h0M118.7 375.2h0M119.7 375.9h0M120.4 375.5h0M121.8 375.1h0M122.6 375.5h0M124.4 375.7h0M125.7 375.2h0M126.9 375.7h0M127.4 375.6h0M129.2 375.4h0M130.8 375.3h0M131.7 375.4h0M135.5 375.4h0M136.7 375.2h0M138.1 375.2h0M142.7 375.7h0M147.2 375.5h0M148.8 375.7h0M150.8 375.1h0M152.3 375.6h0M153.8 375.1h0M154.4 375.4h0M156.2 375.2h0M158.3 375.7h0M161.5 375.9h0M165.3 375.1h0M169.7 375.7h0M170.9 375.7h0M172.1 375.5h0M180.3 375.7h0M186.6 375.8h0M187.7 375.1h0M188.2 375.2h0M195.6 375.6h0M196.5 375.5h0M208.7 375.7h0M35.3 376.8h0M41.8 376.6h0M46.1 376.3h0M47.9 376.9h0M49.9 376.3h0M50.7 376.5h0M51.3 376.6h0M52.2 376.4h0M53.6 376.8h0M54.7 376.3h0M55.4 376.9h0M60.3 376.8h0M63.5 376.4h0M67.1 376.7h0M74.3 376.7h0M78.7 376.7h0M86.6 376.6h0M91.5 376.4h0M91.5 376.2h0M92.2 376.4h0M92.1 376.6h0M93.8 376.1h0M94.2 376.3h0M95.7 376.9h0M96.9 376.8h0M96.9 376.7h0M97.3 376.4h0M98.1 376.5h0M99.1 376.1h0M100.9 376.1h0M102.2 376.1h0M103.9 376.6h0M104.2 376.8h0M105.2 376.2h0M106.8 376.9h0M107.1 376.5h0M110.2 376.2h0M111.2 376.6h0M112.1 376.4h0M113.3 376.8h0M114.4 376.1h0M115.3 376.3h0M116.7 376.2h0M118.8 376.1h0M119.1 376.2h0M120.3 376.2h0M123.6 376.5h0M124.3 376.7h0M126.6 376.8h0M127.2 376.7h0M128.8 376.4h0M132.5 376.4h0M133.3 376.6h0M134.3 376.6h0M136.8 376.4h0M138.4 376.2h0M139.7 376.5h0M140.4 376.9h0M142.8 376.1h0M143.6 376.3h0M149.9 376.9h0M153.2 376.7h0M154.4 376.6h0M155.6 376.2h0M156.7 376.5h0M161.2 376.4h0M163.6 376.1h0M164.8 376.4h0M173.7 376.3h0M178.8 376.5h0M180.6 376.9h0M184.3 376.3h0M185.2 376.3h0M190.3 376.9h0M197.3 376.5h0M198.4 376.4h0M209.3 376.1h0M37.3 377.2h0M54.6 377.7h0M55.9 377.5h0M58.2 377.5h0M59.4 377.3h0M66.7 377.1h0M79.4 377.7h0M82.1 377.7h0M83.4 377.4h0M92.4 377.8h0M92.3 377.6h0M93.2 377.4h0M93.3 377.2h0M94.4 377.4h0M95.7 377.1h0M96.3 377.7h0M97.6 377.3h0M98.6 377.5h0M99.6 377.8h0M100.3 377.4h0M102.7 377.1h0M103.6 377.2h0M104.5 377.1h0M105.9 377.1h0M106.8 377.7h0M107.2 377.9h0M108.1 377.1h0M110.3 377.8h0M112.3 377.7h0M113.8 377.1h0M114.3 377.4h0M116.2 377.9h0M119.3 377.4h0M122.5 377.4h0M123.9 377.2h0M124.8 377.9h0M127.9 377.9h0M129.2 377.7h0M130.6 377.1h0M131.6 377.7h0M138.9 377.6h0M141.7 377.1h0M143.5 377.5h0M148.3 377.2h0M149.1 377.4h0M151.6 377.5h0M152.3 377.7h0M157.6 377.1h0M163.5 377.5h0M164.4 377.4h0M165.9 377.7h0M171.2 377.8h0M174.2 377.8h0M179.8 377.2h0M182.9 377.5h0M186.5 377.5h0M187.1 377.7h0M188.6 377.4h0M190.1 377.2h0M192.7 377.6h0M196.3 377.2h0M198.3 377.7h0M200.4 377.3h0M201.8 377.7h0M204.9 377.8h0M205.8 377.6h0M35.7 378.2h0M37.2 378.6h0M38.8 378.1h0M39.5 378.8h0M42.4 378.3h0M43.6 378.3h0M47.9 378.9h0M49.9 378.6h0M56.8 378.6h0M62.5 378.5h0M77.9 378.3h0M79.8 378.5h0M92.5 378.7h0M93.4 378.2h0M94.2 378.3h0M95.1 378.2h0M96.7 378.8h0M97.8 378.7h0M98.7 378.6h0M99.7 378.6h0M100.2 378.3h0M101.6 378.1h0M102.2 378.9h0M104.5 378.6h0M106.3 378.1h0M107.6 378.4h0M109.6 378.7h0M110.5 378.8h0M112.6 378.2h0M114.7 378.9h0M121.2 378.4h0M122.2 378.2h0M127.2 378.7h0M128.8 378.2h0M129.2 378.7h0M130.3 378.3h0M131.9 378.4h0M132.6 378.3h0M137.4 378.6h0M141.6 378.3h0M149.5 378.9h0M152.4 378.5h0M156.6 378.8h0M160.9 378.7h0M161.5 378.6h0M163.8 378.7h0M166.5 378.3h0M167.6 378.6h0M169.9 378.1h0M171.8 378.6h0M172.4 378.4h0M174.1 378.2h0M175.3 378.1h0M176.8 378.8h0M177.7 378.3h0M179.2 378.1h0M180.1 378.2h0M184.3 378.4h0M186.2 378.5h0M190.9 378.8h0M192.9 378.4h0M193.5 378.6h0M197.5 378.9h0M198.1 378.2h0M202.4 378.9h0M209.2 378.3h0M41.6 379.9h0M43.9 379.8h0M44.4 379.2h0M49.3 379.6h0M54.8 379.4h0M69.7 379.8h0M70.7 379.3h0M72.7 379.9h0M74.5 379.1h0M76.7 379.9h0M77.8 379.7h0M81.5 379.1h0M82.7 379.3h0M83.1 379.2h0M92.6 379.9h0M92.3 379.5h0M93.7 379.9h0M94.8 379.6h0M95.5 379.4h0M96.5 379.4h0M96.3 379.2h0M97.1 379.5h0M98.4 379.9h0M99.5 379.3h0M100.5 379.5h0M101.2 379.6h0M103.7 379.1h0M105.2 379.2h0M108.3 379.1h0M110.2 379.8h0M111.6 379.2h0M112.1 379.7h0M116.3 379.1h0M117.2 379.8h0M118.5 379.2h0M120.1 379.8h0M121.3 379.5h0M122.5 379.7h0M123.7 379.5h0M125.8 379.7h0M128.1 379.5h0M131.7 379.8h0M132.4 379.4h0M134.2 379.1h0M135.3 379.9h0M136.8 379.4h0M137.3 379.1h0M138.3 379.5h0M142.3 379.2h0M147.9 379.7h0M149.4 379.9h0M150.2 379.5h0M151.8 379.6h0M153.3 379.1h0M154.2 379.9h0M156.3 379.2h0M157.8 379.7h0M158.8 379.7h0M160.6 379.1h0M161.7 379.1h0M162.9 379.4h0M163.6 379.8h0M164.9 379.8h0M165.1 379.1h0M166.3 379.7h0M168.9 379.4h0M171.3 379.1h0M177.9 379.8h0M178.4 379.2h0M180.7 379.7h0M184.8 379.8h0M185.2 379.5h0M188.3 379.2h0M195.2 379.2h0M202.9 379.3h0M205.3 379.8h0M209.6 379.1h0M35.8 380.7h0M36.1 380.4h0M40.4 380.2h0M45.6 380.8h0M51.4 380.7h0M57.2 380.7h0M66.9 380.5h0M71.7 380.1h0M72.1 380.3h0M73.2 380.5h0M77.1 380.6h0M79.7 380.8h0M81.7 380.4h0M92.7 380.1h0M93.5 380.1h0M93.2 380.2h0M94.1 380.9h0M95.3 380.6h0M96.2 380.2h0M97.1 380.4h0M98.4 380.5h0M99.4 380.5h0M100.7 380.4h0M101.4 380.1h0M102.7 380.3h0M104.9 380.5h0M105.4 380.4h0M108.9 380.9h0M110.9 380.9h0M112.9 380.1h0M113.5 380.5h0M115.7 380.2h0M116.3 380.4h0M117.4 380.9h0M119.6 380.9h0M120.8 380.6h0M123.8 380.4h0M124.8 380.8h0M125.7 380.4h0M126.3 380.4h0M127.8 380.4h0M130.5 380.3h0M133.5 380.4h0M134.9 380.6h0M135.5 380.8h0M136.5 380.4h0M137.6 380.4h0M139.2 380.8h0M140.4 380.7h0M142.6 380.7h0M143.9 380.7h0M147.3 380.5h0M148.4 380.8h0M150.3 380.2h0M152.7 380.3h0M153.5 380.2h0M154.5 380.3h0M155.4 380.6h0M158.9 380.7h0M159.1 380.6h0M160.7 380.4h0M162.6 380.2h0M163.1 380.5h0M164.1 380.7h0M168.2 380.4h0M169.6 380.1h0M177.8 380.9h0M179.6 380.8h0M184.3 380.2h0M185.7 380.3h0M186.8 380.3h0M189.8 380.7h0M190.9 380.5h0M196.6 380.4h0M206.8 380.2h0M209.1 380.6h0M35.8 381.4h0M37.5 381.1h0M38.8 381.4h0M44.1 381.1h0M46.4 381.4h0M48.2 381.8h0M49.8 381.2h0M53.2 381.2h0M56.6 381.5h0M59.3 381.5h0M63.8 381.4h0M65.9 381.1h0M68.7 381.8h0M75.8 381.4h0M77.5 381.8h0M78.4 381.2h0M79.4 381.6h0M81.6 381.4h0M83.5 381.6h0M92.8 381.9h0M93.7 381.9h0M93.7 381.9h0M94.1 381.8h0M95.2 381.1h0M95.7 381.6h0M96.4 381.5h0M96.4 381.1h0M97.9 381.4h0M98.6 381.1h0M99.8 381.6h0M100.2 381.8h0M101.3 381.6h0M102.7 381.8h0M103.8 381.4h0M105.3 381.8h0M106.9 381.1h0M108.1 381.7h0M110.7 381.1h0M111.8 381.4h0M112.9 381.6h0M113.9 381.1h0M115.9 381.3h0M117.6 381.3h0M120.2 381.7h0M122.4 381.9h0M125.8 381.4h0M126.1 381.4h0M130.4 381.9h0M131.9 381.4h0M133.9 381.5h0M134.3 381.7h0M135.7 381.6h0M136.2 381.9h0M137.6 381.3h0M138.6 381.3h0M140.3 381.9h0M141.5 381.2h0M149.4 381.2h0M150.5 381.1h0M151.2 381.7h0M156.4 381.3h0M159.8 381.6h0M162.6 381.7h0M163.1 381.1h0M167.4 381.4h0M168.2 381.3h0M170.4 381.4h0M181.2 381.3h0M183.2 381.5h0M185.3 381.9h0M192.3 381.3h0M203.7 381.9h0M205.6 381.4h0M206.4 381.3h0M207.9 381.1h0M36.6 382.9h0M37.2 382.9h0M43.1 382.3h0M44.8 382.9h0M45.7 382.1h0M47.2 382.5h0M50.6 382.6h0M53.2 382.5h0M57.5 382.9h0M58.1 382.7h0M60.6 382.9h0M68.6 382.7h0M70.5 382.4h0M73.4 382.7h0M74.5 382.2h0M79.5 382.7h0M80.3 382.8h0M93.9 382.7h0M93.6 382.9h0M94.2 382.2h0M94.4 382.5h0M95.7 382.9h0M95.5 382.6h0M96.3 382.7h0M97.9 382.3h0M98.4 382.1h0M99.6 382.5h0M100.1 382.3h0M101.5 382.2h0M102.4 382.4h0M103.3 382.4h0M104.3 382.3h0M105.3 382.8h0M106.2 382.4h0M107.7 382.2h0M109.9 382.2h0M110.7 382.3h0M111.5 382.1h0M112.9 382.3h0M113.6 382.7h0M115.3 382.9h0M116.2 382.2h0M117.5 382.5h0M119.8 382.4h0M120.3 382.5h0M121.6 382.2h0M122.5 382.6h0M123.7 382.6h0M124.3 382.5h0M127.6 382.4h0M128.4 382.3h0M129.8 382.3h0M132.1 382.4h0M133.6 382.6h0M134.9 382.8h0M136.8 382.9h0M138.1 382.9h0M141.7 382.5h0M142.3 382.2h0M147.9 382.8h0M150.7 382.7h0M152.3 382.1h0M154.8 382.7h0M155.2 382.2h0M157.8 382.6h0M158.9 382.2h0M160.1 382.9h0M162.6 382.8h0M170.7 382.6h0M173.7 382.2h0M174.5 382.5h0M176.9 382.9h0M178.3 382.6h0M181.1 382.7h0M183.4 382.5h0M184.4 382.3h0M186.6 382.3h0M188.3 382.4h0M191.6 382.1h0M193.3 382.2h0M194.9 382.3h0M196.6 382.1h0M198.9 382.2h0M201.2 382.9h0M203.3 382.9h0M204.9 382.6h0M205.2 382.1h0M207.8 382.2h0M208.7 382.7h0M38.6 383.5h0M40.5 383.9h0M43.9 383.3h0M50.9 383.3h0M51.4 383.1h0M52.1 383.5h0M57.6 383.5h0M58.9 383.6h0M61.6 383.2h0M67.9 383.4h0M71.4 383.6h0M76.3 383.9h0M77.2 383.7h0M85.8 383.4h0M86.6 383.8h0M93.4 383.6h0M94.7 383.9h0M94.7 383.3h0M95.8 383.1h0M96.8 383.5h0M97.8 383.5h0M98.9 383.6h0M99.9 383.3h0M100.9 383.6h0M101.1 383.9h0M102.6 383.4h0M103.1 383.8h0M104.7 383.9h0M105.4 383.6h0M106.3 383.7h0M108.1 383.5h0M109.1 383.3h0M110.9 383.8h0M111.6 383.8h0M112.6 383.7h0M113.6 383.2h0M114.5 383.6h0M115.8 383.9h0M116.1 383.8h0M120.2 383.3h0M121.3 383.7h0M124.4 383.7h0M125.3 383.6h0M126.9 383.8h0M127.2 383.5h0M128.5 383.4h0M129.9 383.3h0M131.7 383.2h0M132.1 383.1h0M134.3 383.6h0M137.7 383.3h0M138.4 383.7h0M140.5 383.8h0M141.4 383.2h0M142.2 383.2h0M143.6 383.5h0M148.2 383.9h0M149.8 383.6h0M150.5 383.2h0M152.8 383.4h0M153.7 383.4h0M155.7 383.6h0M156.9 383.8h0M158.6 383.3h0M161.5 383.4h0M169.9 383.9h0M170.5 383.3h0M174.4 383.1h0M175.6 383.1h0M176.9 383.4h0M179.3 383.5h0M181.1 383.9h0M190.6 383.8h0M191.9 383.9h0M193.6 383.8h0M194.9 383.9h0M196.5 383.8h0M198.6 383.4h0M199.9 383.9h0M200.2 383.5h0M201.4 383.2h0M205.5 383.6h0M37.2 384.8h0M39.5 384.2h0M41.2 384.8h0M52.5 384.1h0M57.8 384.7h0M60.6 384.1h0M66.9 384.2h0M67.2 384.3h0M69.8 384.8h0M71.7 384.2h0M73.8 384.9h0M75.1 384.9h0M77.6 384.8h0M79.1 384.8h0M84.7 384.3h0M93.4 384.4h0M93.8 384.9h0M94.4 384.9h0M94.1 384.6h0M95.2 384.9h0M96.2 384.5h0M96.8 384.7h0M97.1 384.1h0M97.5 384.7h0M98.1 384.8h0M98.3 384.6h0M99.1 384.1h0M100.5 384.9h0M101.1 384.4h0M102.6 384.7h0M103.2 384.8h0M104.1 384.3h0M106.3 384.2h0M107.7 384.6h0M108.5 384.3h0M109.4 384.7h0M110.1 384.5h0M112.7 384.1h0M114.2 384.8h0M116.8 384.6h0M117.5 384.4h0M119.7 384.4h0M124.1 384.5h0M126.3 384.2h0M127.4 384.4h0M128.8 384.2h0M131.1 384.7h0M132.1 384.1h0M133.9 384.2h0M135.1 384.7h0M137.4 384.2h0M142.4 384.9h0M148.9 384.1h0M149.9 384.5h0M151.2 384.4h0M153.8 384.9h0M154.3 384.7h0M155.2 384.4h0M162.4 384.9h0M165.2 384.8h0M171.2 384.4h0M178.4 384.3h0M182.7 384.3h0M184.1 384.4h0M202.4 384.2h0M205.9 384.1h0M208.6 384.6h0M37.7 385.1h0M38.6 385.4h0M40.3 385.4h0M42.8 385.4h0M43.8 385.3h0M45.3 385.8h0M47.1 385.8h0M53.8 385.4h0M58.1 385.2h0M60.1 385.8h0M63.5 385.1h0M64.2 385.3h0M65.6 385.9h0M69.8 385.7h0M72.9 385.4h0M80.1 385.3h0M83.1 385.3h0M93.5 385.2h0M93.7 385.2h0M94.8 385.5h0M94.9 385.6h0M95.5 385.3h0M96.3 385.2h0M97.4 385.2h0M97.8 385.1h0M98.8 385.3h0M98.3 385.1h0M99.2 385.7h0M100.1 385.5h0M101.9 385.4h0M102.4 385.3h0M103.2 385.9h0M104.7 385.9h0M105.8 385.5h0M106.7 385.9h0M107.9 385.9h0M108.2 385.6h0M109.7 385.4h0M111.2 385.3h0M112.2 385.2h0M113.3 385.9h0M114.2 385.9h0M115.1 385.3h0M116.7 385.5h0M117.9 385.4h0M118.9 385.9h0M119.7 385.1h0M122.4 385.3h0M126.7 385.9h0M127.4 385.3h0M128.9 385.4h0M129.3 385.3h0M131.6 385.7h0M133.5 385.7h0M135.9 385.1h0M136.4 385.1h0M137.7 385.3h0M138.3 385.5h0M140.8 385.9h0M141.9 385.7h0M142.5 385.9h0M147.1 385.4h0M150.3 385.1h0M151.7 385.8h0M152.4 385.3h0M154.3 385.9h0M155.8 385.5h0M156.7 385.5h0M157.3 385.7h0M161.7 385.8h0M163.6 385.8h0M164.4 385.3h0M165.7 385.3h0M176.3 385.2h0M178.4 385.4h0M180.1 385.8h0M186.2 385.9h0M190.5 385.1h0M197.3 385.3h0M200.8 385.5h0M202.6 385.2h0M203.9 385.9h0M204.9 385.6h0M205.2 385.2h0M209.3 385.5h0M41.3 386.5h0M42.1 386.8h0M45.6 386.1h0M48.8 386.9h0M53.1 386.4h0M54.9 386.7h0M55.2 386.4h0M57.4 386.3h0M62.3 386.1h0M63.7 386.2h0M65.2 386.7h0M67.3 386.9h0M70.1 386.5h0M71.7 386.5h0M74.3 386.8h0M78.4 386.8h0M80.5 386.1h0M83.9 386.5h0M86.1 386.7h0M93.8 386.6h0M93.5 386.9h0M94.5 386.7h0M94.8 386.3h0M95.8 386.9h0M96.8 386.8h0M97.1 386.6h0M97.7 386.5h0M98.2 386.2h0M98.9 386.1h0M99.2 386.9h0M100.6 386.9h0M101.5 386.5h0M102.7 386.6h0M103.2 386.4h0M104.6 386.2h0M106.6 386.2h0M108.6 386.7h0M109.5 386.8h0M111.8 386.2h0M112.6 386.8h0M113.6 386.9h0M114.6 386.6h0M117.6 386.1h0M118.8 386.9h0M119.6 386.1h0M120.3 386.5h0M121.4 386.7h0M124.2 386.8h0M126.3 386.6h0M127.2 386.3h0M130.7 386.9h0M131.6 386.5h0M134.6 386.3h0M135.3 386.5h0M136.7 386.3h0M138.9 386.6h0M139.8 386.1h0M140.7 386.8h0M141.7 386.3h0M143.4 386.8h0M147.3 386.7h0M148.2 386.1h0M149.4 386.4h0M151.9 386.6h0M152.2 386.7h0M153.8 386.2h0M154.2 386.4h0M156.7 386.8h0M157.3 386.1h0M159.8 386.5h0M160.1 386.8h0M164.5 386.4h0M166.4 386.4h0M167.1 386.4h0M168.8 386.8h0M169.6 386.6h0M170.6 386.6h0M171.9 386.6h0M172.2 386.5h0M179.8 386.3h0M182.3 386.8h0M183.8 386.7h0M186.7 386.3h0M188.9 386.4h0M199.7 386.2h0M200.3 386.3h0M208.9 386.1h0M39.9 387.4h0M40.8 387.3h0M45.1 387.6h0M46.8 387.9h0M49.6 387.8h0M50.8 387.4h0M51.1 387.2h0M53.4 387.2h0M54.6 387.8h0M56.2 387.3h0M57.3 387.3h0M60.3 387.9h0M61.3 387.2h0M62.4 387.9h0M64.6 387.1h0M69.3 387.5h0M73.4 387.2h0M74.6 387.8h0M75.9 387.4h0M86.1 387.4h0M93.1 387.7h0M93.1 387.6h0M94.7 387.9h0M94.5 387.3h0M95.3 387.1h0M96.5 387.3h0M97.3 387.7h0M98.7 387.5h0M99.9 387.6h0M100.3 387.7h0M101.6 387.1h0M102.9 387.9h0M103.2 387.5h0M104.7 387.2h0M105.1 387.3h0M106.7 387.7h0M107.5 387.8h0M108.6 387.7h0M109.3 387.2h0M110.5 387.9h0M112.6 387.4h0M113.8 387.5h0M114.1 387.8h0M115.5 387.6h0M116.1 387.7h0M117.6 387.2h0M118.6 387.3h0M119.9 387.2h0M121.1 387.2h0M122.4 387.4h0M123.9 387.5h0M125.3 387.5h0M127.7 387.1h0M128.8 387.9h0M130.8 387.6h0M131.2 387.7h0M132.8 387.8h0M133.3 387.9h0M135.3 387.4h0M136.6 387.6h0M137.3 387.6h0M138.9 387.2h0M140.7 387.3h0M142.8 387.9h0M143.7 387.5h0M147.2 387.8h0M150.6 387.7h0M151.1 387.8h0M152.6 387.1h0M156.1 387.3h0M159.2 387.1h0M160.6 387.3h0M163.7 387.4h0M164.1 387.6h0M165.6 387.8h0M167.8 387.6h0M169.8 387.6h0M175.9 387.7h0M176.6 387.7h0M179.4 387.3h0M181.4 387.6h0M183.2 387.8h0M185.5 387.5h0M188.8 387.3h0M190.2 387.1h0M191.3 387.5h0M193.5 387.2h0M197.1 387.9h0M199.4 387.4h0M201.3 387.3h0M205.3 387.1h0M41.3 388.7h0M47.1 388.5h0M50.6 388.2h0M53.7 388.9h0M54.2 388.2h0M57.5 388.5h0M62.6 388.7h0M65.3 388.8h0M67.9 388.8h0M73.6 388.8h0M77.2 388.5h0M78.6 388.4h0M81.5 388.5h0M93.7 388.2h0M93.4 388.8h0M94.9 388.8h0M94.7 388.3h0M95.1 388.9h0M95.6 388.3h0M96.7 388.7h0M97.2 388.9h0M98.5 388.8h0M98.4 388.5h0M99.1 388.2h0M100.1 388.8h0M100.9 388.4h0M101.2 388.1h0M102.6 388.4h0M103.1 388.5h0M104.8 388.1h0M105.9 388.1h0M106.6 388.5h0M107.7 388.6h0M108.8 388.5h0M109.9 388.8h0M110.2 388.6h0M111.3 388.7h0M112.9 388.3h0M113.7 388.3h0M114.5 388.7h0M115.8 388.8h0M116.3 388.3h0M117.6 388.3h0M118.5 388.4h0M120.2 388.9h0M121.4 388.8h0M122.1 388.2h0M124.6 388.3h0M125.5 388.2h0M126.4 388.4h0M127.7 388.3h0M128.7 388.3h0M129.9 388.6h0M130.8 388.8h0M132.1 388.1h0M134.7 388.6h0M136.3 388.7h0M137.5 388.9h0M141.9 388.9h0M142.2 388.8h0M143.5 388.1h0M148.7 388.1h0M149.5 388.2h0M151.8 388.2h0M152.7 388.6h0M153.3 388.9h0M155.3 388.3h0M159.8 388.8h0M160.2 388.8h0M162.1 388.4h0M163.3 388.5h0M164.3 388.3h0M165.3 388.4h0M166.3 388.3h0M174.6 388.9h0M175.8 388.5h0M176.8 388.8h0M177.6 388.5h0M178.9 388.1h0M180.8 388.1h0M181.3 388.1h0M182.5 388.3h0M183.5 388.1h0M190.9 388.2h0M193.7 388.5h0M199.3 388.5h0M201.1 388.4h0M206.3 388.4h0M207.6 388.1h0M208.6 388.4h0M209.4 388.7h0M37.1 389.6h0M39.9 389.3h0M45.6 389.2h0M50.8 389.8h0M51.3 389.2h0M54.3 389.9h0M58.2 389.8h0M59.8 389.7h0M62.3 389.6h0M66.2 389.8h0M67.8 389.5h0M69.6 389.9h0M70.1 389.5h0M74.7 389.6h0M75.4 389.2h0M78.7 389.1h0M85.3 389.2h0M93.3 389.9h0M93.9 389.8h0M94.1 389.7h0M94.1 389.5h0M95.4 389.2h0M96.8 389.8h0M96.2 389.5h0M97.5 389.5h0M98.8 389.8h0M99.3 389.1h0M100.8 389.8h0M101.8 389.2h0M102.3 389.9h0M103.5 389.5h0M104.4 389.6h0M105.5 389.4h0M106.4 389.4h0M107.4 389.5h0M108.6 389.8h0M109.5 389.9h0M110.1 389.6h0M111.4 389.4h0M113.3 389.4h0M114.2 389.3h0M116.2 389.3h0M117.8 389.6h0M120.2 389.6h0M121.7 389.8h0M122.9 389.2h0M123.5 389.8h0M125.5 389.5h0M126.8 389.2h0M128.3 389.3h0M132.5 389.2h0M133.8 389.3h0M136.7 389.3h0M137.4 389.1h0M139.6 389.8h0M140.2 389.1h0M141.2 389.1h0M142.8 389.2h0M143.2 389.5h0M147.7 389.2h0M148.4 389.2h0M150.3 389.6h0M153.9 389.7h0M154.4 389.1h0M155.4 389.2h0M156.1 389.6h0M158.5 389.3h0M159.6 389.2h0M161.2 389.2h0M162.2 389.4h0M163.7 389.6h0M164.8 389.4h0M165.7 389.8h0M166.1 389.3h0M173.6 389.7h0M174.5 389.5h0M176.4 389.2h0M178.6 389.8h0M179.5 389.5h0M181.5 389.9h0M182.9 389.8h0M184.2 389.6h0M185.6 389.5h0M187.6 389.3h0M194.4 389.3h0M195.2 389.2h0M196.9 389.9h0M197.1 389.2h0M199.7 389.9h0M200.4 389.4h0M204.3 389.3h0M205.5 389.6h0M207.4 389.6h0M35.3 390.2h0M36.4 390.3h0M37.4 390.1h0M41.1 390.5h0M42.4 390.4h0M44.9 390.5h0M48.5 390.5h0M52.5 390.8h0M53.3 390.6h0M56.3 390.5h0M57.8 390.6h0M60.1 390.8h0M63.7 390.9h0M64.2 390.8h0M65.9 390.2h0M67.1 390.7h0M68.8 390.5h0M69.8 390.2h0M70.3 390.6h0M71.8 390.9h0M72.3 390.5h0M73.6 390.6h0M74.8 390.7h0M76.4 390.2h0M77.9 390.3h0M79.5 390.4h0M80.6 390.9h0M81.9 390.1h0M82.5 390.8h0M83.7 390.3h0M84.2 390.6h0M86.3 390.2h0M94.9 390.2h0M94.7 390.1h0M95.6 390.4h0M95.7 390.4h0M96.3 390.1h0M97.4 390.7h0M97.7 390.7h0M98.6 390.9h0M99.3 390.6h0M99.2 390.5h0M100.6 390.2h0M101.5 390.4h0M102.9 390.9h0M103.6 390.1h0M104.3 390.7h0M104.9 390.3h0M105.1 390.5h0M106.9 390.1h0M107.3 390.1h0M108.6 390.8h0M109.9 390.6h0M110.2 390.7h0M111.4 390.4h0M112.7 390.4h0M113.6 390.9h0M114.5 390.4h0M116.3 390.9h0M118.4 390.3h0M119.3 390.3h0M120.4 390.3h0M121.4 390.6h0M122.8 390.1h0M123.4 390.8h0M124.1 390.8h0M125.2 390.4h0M126.3 390.1h0M127.9 390.4h0M128.9 390.1h0M130.7 390.2h0M131.5 390.1h0M132.4 390.1h0M133.9 390.2h0M134.2 390.6h0M135.6 390.2h0M136.4 390.6h0M137.9 390.4h0M141.9 390.8h0M142.3 390.6h0M143.9 390.8h0M147.1 390.1h0M149.6 390.3h0M150.7 390.5h0M151.4 390.4h0M153.2 390.4h0M154.5 390.6h0M156.3 390.6h0M157.6 390.7h0M159.3 390.8h0M161.5 390.6h0M162.4 390.1h0M163.8 390.3h0M165.1 390.2h0M167.3 390.9h0M168.5 390.9h0M170.4 390.5h0M173.9 390.1h0M175.2 390.3h0M176.8 390.8h0M177.4 390.8h0M178.2 390.3h0M180.4 390.4h0M183.9 390.5h0M184.9 390.6h0M185.3 390.6h0M188.8 390.3h0M189.8 390.7h0M192.2 390.2h0M194.7 390.6h0M196.4 390.5h0M197.2 390.7h0M205.4 390.7h0M208.7 390.5h0M209.8 390.8h0M35.2 391.7h0M38.9 391.5h0M40.3 391.4h0M41.7 391.5h0M44.3 391.4h0M47.6 391.5h0M49.9 391.7h0M50.7 391.3h0M54.7 391.5h0M59.3 391.3h0M60.6 391.1h0M62.3 391.3h0M63.6 391.4h0M67.5 391.8h0M68.3 391.3h0M72.8 391.8h0M73.4 391.9h0M74.9 391.8h0M77.4 391.2h0M79.8 391.5h0M80.1 391.3h0M82.5 391.7h0M85.7 391.8h0M94.9 391.5h0M95.6 391.1h0M96.3 391.3h0M97.7 391.7h0M97.1 391.7h0M98.1 391.1h0M99.5 391.4h0M100.1 391.9h0M101.4 391.3h0M102.4 391.3h0M103.6 391.6h0M103.8 391.5h0M104.5 391.9h0M105.1 391.6h0M106.8 391.6h0M107.8 391.5h0M108.4 391.6h0M109.3 391.6h0M110.2 391.8h0M111.1 391.3h0M112.9 391.3h0M113.5 391.8h0M114.3 391.9h0M115.3 391.6h0M116.7 391.8h0M118.5 391.4h0M119.6 391.8h0M121.3 391.7h0M123.5 391.7h0M125.2 391.7h0M126.7 391.6h0M128.8 391.8h0M130.8 391.5h0M131.1 391.3h0M134.1 391.3h0M135.9 391.1h0M136.7 391.4h0M137.8 391.7h0M138.6 391.8h0M139.8 391.3h0M142.1 391.7h0M143.9 391.3h0M147.7 391.5h0M148.4 391.8h0M150.6 391.3h0M151.5 391.8h0M152.5 391.7h0M153.9 391.6h0M156.9 391.5h0M157.4 391.9h0M158.4 391.1h0M160.8 391.8h0M161.3 391.4h0M162.7 391.6h0M163.3 391.4h0M165.7 391.2h0M166.7 391.3h0M167.8 391.8h0M172.4 391.1h0M177.9 391.4h0M178.8 391.7h0M180.4 391.2h0M181.9 391.4h0M184.7 391.8h0M185.2 391.5h0M189.6 391.3h0M191.3 391.3h0M194.7 391.9h0M195.8 391.8h0M197.7 391.3h0M199.4 391.5h0M200.4 391.6h0M201.5 391.4h0M202.2 391.8h0M203.5 391.2h0M205.7 391.9h0M208.3 391.5h0M209.7 391.5h0M37.5 392.6h0M40.3 392.1h0M41.5 392.1h0M43.5 392.2h0M46.2 392.6h0M47.8 392.9h0M49.8 392.1h0M53.6 392.1h0M55.5 392.4h0M59.7 392.7h0M63.1 392.9h0M64.7 392.6h0M65.7 392.6h0M68.5 392.4h0M72.4 392.5h0M76.4 392.5h0M77.1 392.4h0M78.6 392.6h0M81.8 392.1h0M94.4 392.3h0M94.5 392.7h0M95.2 392.5h0M96.7 392.5h0M97.5 392.6h0M98.4 392.3h0M99.6 392.4h0M100.5 392.9h0M101.7 392.1h0M102.1 392.1h0M103.5 392.2h0M104.2 392.5h0M105.6 392.6h0M106.5 392.1h0M107.4 392.2h0M108.4 392.7h0M109.3 392.2h0M110.1 392.6h0M111.8 392.2h0M112.1 392.3h0M113.6 392.7h0M114.2 392.9h0M115.8 392.4h0M116.8 392.4h0M117.3 392.8h0M118.7 392.3h0M119.3 392.6h0M120.6 392.8h0M121.9 392.4h0M122.2 392.4h0M123.7 392.7h0M124.4 392.8h0M125.9 392.1h0M126.8 392.6h0M128.4 392.8h0M129.9 392.2h0M130.1 392.6h0M131.7 392.1h0M132.3 392.6h0M134.3 392.6h0M135.7 392.7h0M137.6 392.4h0M138.8 392.9h0M139.6 392.5h0M140.4 392.4h0M141.7 392.8h0M142.5 392.8h0M143.1 392.6h0M148.5 392.4h0M150.2 392.4h0M152.4 392.3h0M153.1 392.1h0M154.5 392.7h0M155.5 392.9h0M157.8 392.1h0M159.9 392.3h0M161.1 392.8h0M162.3 392.8h0M163.1 392.9h0M165.7 392.9h0M167.5 392.3h0M168.1 392.7h0M172.6 392.8h0M174.2 392.2h0M175.7 392.8h0M176.4 392.8h0M177.2 392.3h0M181.6 392.6h0M182.6 392.8h0M183.9 392.7h0M184.3 392.3h0M185.8 392.1h0M188.8 392.6h0M189.5 392.5h0M190.4 392.2h0M192.6 392.6h0M193.8 392.1h0M197.8 392.2h0M199.5 392.7h0M203.3 392.3h0M204.9 392.7h0M205.3 392.4h0M206.5 392.2h0M207.2 392.1h0M208.1 392.1h0M35.1 393.4h0M36.1 393.2h0M37.4 393.4h0M39.1 393.5h0M40.5 393.8h0M41.8 393.6h0M42.5 393.2h0M43.9 393.7h0M46.2 393.2h0M47.7 393.1h0M48.4 393.4h0M49.1 393.3h0M50.5 393.5h0M51.6 393.3h0M53.4 393.5h0M54.8 393.2h0M57.1 393.5h0M58.1 393.8h0M60.1 393.5h0M64.9 393.9h0M66.1 393.4h0M67.1 393.6h0M68.7 393.2h0M69.9 393.9h0M70.5 393.7h0M71.3 393.4h0M73.8 393.9h0M74.1 393.1h0M75.9 393.1h0M77.3 393.6h0M78.2 393.1h0M83.8 393.9h0M85.5 393.5h0M86.1 393.9h0M95.8 393.9h0M95.8 393.1h0M96.1 393.6h0M97.9 393.2h0M98.7 393.8h0M99.1 393.1h0M100.9 393.4h0M101.8 393.9h0M102.2 393.7h0M102.8 393.4h0M103.4 393.1h0M103.2 393.3h0M104.9 393.7h0M105.5 393.5h0M106.9 393.4h0M107.8 393.8h0M108.2 393.7h0M109.2 393.5h0M110.5 393.8h0M111.8 393.4h0M112.9 393.2h0M113.1 393.6h0M114.4 393.5h0M115.1 393.1h0M116.9 393.7h0M118.1 393.5h0M120.8 393.4h0M122.9 393.5h0M123.8 393.5h0M124.6 393.9h0M125.7 393.4h0M126.5 393.1h0M127.7 393.3h0M128.8 393.3h0M129.1 393.7h0M130.1 393.3h0M131.8 393.8h0M132.2 393.8h0M133.9 393.2h0M135.5 393.2h0M136.3 393.8h0M137.2 393.4h0M138.3 393.3h0M139.3 393.9h0M140.6 393.9h0M141.7 393.3h0M142.4 393.8h0M143.1 393.8h0M147.7 393.3h0M148.3 393.8h0M149.5 393.6h0M150.5 393.7h0M151.9 393.8h0M152.4 393.3h0M153.7 393.1h0M154.7 393.5h0M155.2 393.3h0M156.3 393.9h0M158.2 393.6h0M159.4 393.6h0M160.5 393.5h0M161.6 393.2h0M163.9 393.9h0M167.3 393.4h0M168.8 393.4h0M169.3 393.9h0M172.3 393.4h0M173.1 393.2h0M174.2 393.4h0M175.6 393.4h0M176.4 393.3h0M177.7 393.1h0M178.7 393.3h0M179.4 393.5h0M181.2 393.8h0M183.8 393.2h0M184.7 393.6h0M185.2 393.9h0M186.8 393.9h0M187.6 393.8h0M188.2 393.6h0M189.1 393.8h0M192.8 393.9h0M194.1 393.9h0M195.2 393.8h0M199.4 393.7h0M202.9 393.5h0M204.5 393.8h0M205.8 393.6h0M206.3 393.6h0M207.2 393.6h0M208.6 393.3h0M35.5 394.4h0M38.8 394.5h0M39.4 394.5h0M41.8 394.3h0M48.6 394.1h0M49.4 394.2h0M51.5 394.6h0M52.6 394.7h0M53.3 394.3h0M54.7 394.3h0M55.9 394.7h0M56.6 394.5h0M57.6 394.6h0M59.7 394.9h0M60.1 394.7h0M61.9 394.8h0M63.6 394.7h0M65.4 394.6h0M66.7 394.9h0M67.8 394.6h0M68.2 394.3h0M69.3 394.3h0M70.3 394.8h0M73.6 394.6h0M74.3 394.9h0M75.8 394.1h0M77.7 394.9h0M78.3 394.9h0M80.6 394.1h0M82.9 394.1h0M86.7 394.8h0M95.1 394.4h0M95.4 394.5h0M96.1 394.2h0M96.4 394.1h0M97.1 394.3h0M98.2 394.8h0M99.8 394.8h0M100.6 394.1h0M101.2 394.3h0M102.9 394.2h0M102.8 394.1h0M103.2 394.3h0M104.9 394.5h0M105.5 394.4h0M106.6 394.8h0M107.8 394.5h0M108.1 394.3h0M108.6 394.5h0M109.1 394.4h0M110.2 394.7h0M111.7 394.4h0M112.8 394.7h0M113.2 394.8h0M114.4 394.9h0M116.2 394.1h0M117.4 394.8h0M118.2 394.1h0M119.2 394.1h0M120.8 394.7h0M121.1 394.3h0M122.8 394.7h0M123.4 394.1h0M124.6 394.2h0M125.3 394.2h0M126.7 394.3h0M127.2 394.9h0M129.4 394.5h0M130.6 394.6h0M131.7 394.2h0M132.6 394.3h0M133.4 394.3h0M134.8 394.8h0M135.4 394.3h0M136.7 394.3h0M137.5 394.5h0M138.6 394.8h0M139.3 394.4h0M140.3 394.7h0M141.4 394.2h0M142.6 394.5h0M143.9 394.5h0M147.6 394.1h0M148.1 394.7h0M149.4 394.7h0M150.5 394.3h0M151.4 394.9h0M153.7 394.2h0M154.2 394.1h0M155.9 394.3h0M156.8 394.1h0M157.7 394.9h0M159.3 394.9h0M161.6 394.4h0M162.9 394.8h0M163.8 394.7h0M166.4 394.5h0M167.9 394.5h0M168.3 394.2h0M171.1 394.2h0M172.6 394.1h0M174.2 394.2h0M175.5 394.4h0M177.5 394.6h0M179.1 394.9h0M180.8 394.5h0M181.3 394.8h0M182.7 394.1h0M183.4 394.5h0M187.7 394.5h0M189.1 394.7h0M190.7 394.3h0M191.1 394.8h0M193.8 394.7h0M194.6 394.5h0M195.3 394.6h0M196.2 394.2h0M197.6 394.3h0M201.6 394.6h0M202.6 394.3h0M203.3 394.3h0M204.3 394.7h0M205.8 394.9h0M206.6 394.2h0M36.2 395.1h0M37.3 395.6h0M38.5 395.8h0M44.9 395.2h0M45.5 395.3h0M47.2 395.2h0M48.1 395.1h0M49.1 395.2h0M50.7 395.4h0M53.2 395.6h0M54.3 395.5h0M55.5 395.5h0M57.4 395.4h0M58.5 395.3h0M59.9 395.4h0M62.2 395.5h0M64.6 395.2h0M66.3 395.9h0M67.2 395.8h0M68.2 395.1h0M71.6 395.7h0M76.2 395.9h0M77.5 395.1h0M78.3 395.4h0M79.2 395.3h0M81.8 395.9h0M85.5 395.6h0M86.8 395.6h0M95.3 395.9h0M95.3 395.4h0M96.7 395.2h0M97.1 395.8h0M97.7 395.2h0M98.6 395.1h0M99.4 395.7h0M100.2 395.7h0M101.6 395.5h0M102.9 395.9h0M102.2 395.8h0M103.4 395.4h0M104.1 395.7h0M104.8 395.4h0M105.3 395.6h0M106.7 395.8h0M107.2 395.1h0M108.9 395.7h0M109.3 395.5h0M110.8 395.3h0M111.2 395.8h0M112.2 395.2h0M113.1 395.5h0M114.9 395.3h0M115.1 395.3h0M116.4 395.6h0M117.6 395.7h0M118.6 395.5h0M119.8 395.6h0M120.7 395.4h0M121.8 395.6h0M122.8 395.2h0M124.5 395.9h0M125.1 395.7h0M126.5 395.2h0M127.9 395.7h0M128.4 395.7h0M129.7 395.2h0M130.4 395.6h0M131.1 395.4h0M132.2 395.8h0M133.7 395.1h0M134.7 395.2h0M135.1 395.6h0M136.6 395.9h0M138.5 395.8h0M139.3 395.2h0M140.9 395.6h0M141.9 395.4h0M142.4 395.6h0M143.5 395.7h0M147.6 395.1h0M148.2 395.7h0M149.8 395.4h0M150.2 395.5h0M151.4 395.9h0M152.6 395.6h0M154.1 395.7h0M156.1 395.5h0M157.7 395.7h0M158.9 395.2h0M159.8 395.7h0M160.4 395.1h0M161.4 395.4h0M162.8 395.4h0M163.3 395.5h0M164.6 395.4h0M168.5 395.3h0M169.8 395.4h0M171.1 395.5h0M172.2 395.5h0M173.2 395.1h0M174.9 395.7h0M175.7 395.3h0M176.1 395.1h0M178.5 395.8h0M180.3 395.8h0M183.5 395.2h0M184.3 395.3h0M186.7 395.6h0M188.9 395.4h0M189.1 395.9h0M190.2 395.3h0M191.6 395.6h0M192.2 395.2h0M193.1 395.1h0M195.3 395.7h0M198.3 395.7h0M199.7 395.5h0M200.7 395.9h0M201.9 395.2h0M202.9 395.6h0M204.4 395.2h0M208.8 395.6h0M35.8 396.5h0M36.8 396.7h0M37.8 396.9h0M39.3 396.3h0M40.4 396.2h0M41.7 396.9h0M44.5 396.2h0M47.6 396.7h0M51.6 396.9h0M52.1 396.5h0M53.2 396.9h0M54.2 396.2h0M55.5 396.2h0M56.3 396.5h0M57.7 396.7h0M60.2 396.2h0M61.1 396.4h0M62.9 396.5h0M63.3 396.1h0M64.6 396.9h0M65.7 396.1h0M66.3 396.5h0M67.3 396.7h0M68.1 396.8h0M69.2 396.9h0M72.1 396.7h0M73.9 396.4h0M76.5 396.6h0M79.9 396.9h0M80.1 396.2h0M81.2 396.6h0M83.7 396.3h0M84.3 396.9h0M85.6 396.9h0M96.8 396.7h0M97.3 396.2h0M98.7 396.5h0M98.5 396.9h0M99.3 396.7h0M100.8 396.6h0M101.6 396.2h0M101.7 396.1h0M102.1 396.2h0M103.9 396.7h0M103.3 396.1h0M104.3 396.2h0M104.5 396.7h0M105.5 396.8h0M105.7 396.6h0M106.7 396.1h0M107.3 396.4h0M108.4 396.7h0M109.1 396.3h0M110.8 396.9h0M111.2 396.3h0M112.4 396.9h0M113.9 396.3h0M114.7 396.4h0M115.6 396.2h0M116.3 396.8h0M117.4 396.3h0M118.7 396.1h0M119.8 396.4h0M120.7 396.1h0M123.8 396.2h0M124.6 396.2h0M125.2 396.8h0M126.5 396.9h0M127.4 396.7h0M128.9 396.5h0M129.3 396.1h0M130.8 396.5h0M131.5 396.8h0M132.2 396.9h0M133.7 396.9h0M134.6 396.6h0M135.9 396.8h0M136.2 396.4h0M137.1 396.3h0M138.6 396.7h0M139.7 396.4h0M142.9 396.8h0M143.6 396.8h0M147.3 396.3h0M148.9 396.1h0M149.8 396.2h0M150.6 396.4h0M151.4 396.2h0M152.4 396.1h0M153.4 396.4h0M154.2 396.4h0M155.3 396.6h0M156.2 396.6h0M157.1 396.1h0M159.7 396.3h0M160.6 396.8h0M161.1 396.8h0M164.4 396.2h0M165.6 396.3h0M166.6 396.6h0M167.8 396.1h0M168.2 396.2h0M171.3 396.3h0M173.7 396.8h0M175.3 396.1h0M176.2 396.6h0M177.2 396.5h0M179.2 396.9h0M181.4 396.9h0M182.9 396.2h0M184.1 396.3h0M185.9 396.8h0M186.9 396.8h0M187.8 396.3h0M188.6 396.3h0M189.9 396.1h0M193.8 396.2h0M195.2 396.6h0M196.8 396.7h0M197.6 396.3h0M198.6 396.8h0M199.6 396.7h0M201.2 396.5h0M202.8 396.3h0M203.6 396.1h0M204.2 396.5h0M205.4 396.5h0M206.2 396.1h0M207.5 396.4h0M208.8 396.5h0M35.3 397.3h0M36.5 397.4h0M41.7 397.9h0M42.2 397.7h0M44.2 397.2h0M45.1 397.2h0M47.4 397.4h0M48.9 397.7h0M49.2 397.8h0M50.4 397.9h0M51.8 397.3h0M53.4 397.9h0M55.9 397.1h0M57.6 397.3h0M58.5 397.7h0M60.7 397.9h0M61.4 397.4h0M62.6 397.1h0M65.7 397.3h0M66.6 397.8h0M67.9 397.2h0M68.3 397.7h0M69.6 397.6h0M70.1 397.1h0M71.5 397.8h0M72.7 397.7h0M74.3 397.5h0M77.9 397.2h0M80.9 397.3h0M81.1 397.9h0M82.6 397.4h0M83.8 397.9h0M84.5 397.8h0M85.8 397.3h0M86.5 397.9h0M96.6 397.1h0M97.1 397.3h0M97.2 397.2h0M98.9 397.1h0M99.8 397.3h0M100.7 397.8h0M101.9 397.9h0M101.1 397.5h0M102.9 397.6h0M103.4 397.2h0M104.6 397.4h0M105.5 397.2h0M106.5 397.9h0M107.3 397.3h0M107.7 397.6h0M108.5 397.9h0M109.4 397.6h0M110.7 397.5h0M111.2 397.3h0M112.1 397.9h0M113.7 397.7h0M114.2 397.2h0M115.8 397.3h0M116.4 397.8h0M117.5 397.2h0M118.3 397.7h0M119.6 397.3h0M120.7 397.1h0M121.8 397.3h0M122.2 397.6h0M123.9 397.2h0M124.2 397.6h0M125.7 397.8h0M126.7 397.6h0M127.6 397.8h0M128.1 397.7h0M129.5 397.7h0M130.2 397.9h0M131.5 397.7h0M132.1 397.1h0M133.6 397.1h0M134.9 397.2h0M135.1 397.9h0M136.5 397.4h0M137.7 397.4h0M138.2 397.5h0M139.1 397.9h0M140.9 397.3h0M141.8 397.8h0M142.2 397.6h0M143.7 397.8h0M147.5 397.8h0M148.1 397.5h0M149.1 397.8h0M150.9 397.5h0M151.1 397.7h0M152.2 397.3h0M153.2 397.3h0M154.5 397.5h0M155.3 397.4h0M157.1 397.8h0M158.3 397.3h0M159.5 397.9h0M160.3 397.9h0M161.6 397.6h0M163.3 397.1h0M164.3 397.7h0M165.7 397.2h0M166.6 397.5h0M167.5 397.9h0M168.3 397.6h0M171.4 397.5h0M172.8 397.9h0M174.2 397.1h0M176.4 397.6h0M177.9 397.8h0M178.7 397.6h0M180.9 397.1h0M181.2 397.9h0M183.8 397.8h0M184.9 397.2h0M186.2 397.2h0M187.2 397.6h0M189.1 397.6h0M190.8 397.4h0M191.3 397.1h0M192.3 397.1h0M194.9 397.2h0M195.3 397.9h0M196.8 397.4h0M197.1 397.5h0M200.4 397.4h0M201.6 397.1h0M203.4 397.1h0M206.1 397.4h0M208.2 397.6h0M209.1 397.5h0M36.1 398.1h0M37.4 398.9h0M38.9 398.8h0M40.7 398.4h0M41.6 398.4h0M42.3 398.4h0M43.9 398.7h0M44.6 398.9h0M45.5 398.2h0M51.1 398.7h0M53.5 398.1h0M54.3 398.6h0M55.1 398.4h0M56.6 398.9h0M58.8 398.9h0M60.3 398.9h0M61.4 398.8h0M62.8 398.3h0M63.3 398.1h0M64.3 398.1h0M65.8 398.9h0M68.2 398.6h0M69.4 398.8h0M70.7 398.7h0M73.6 398.9h0M74.2 398.4h0M75.3 398.8h0M76.7 398.2h0M78.4 398.7h0M79.1 398.3h0M80.6 398.9h0M81.8 398.3h0M82.9 398.5h0M85.4 398.8h0M86.5 398.2h0M96.6 398.6h0M97.4 398.8h0M98.4 398.9h0M98.6 398.2h0M99.9 398.9h0M100.7 398.7h0M100.1 398.6h0M101.7 398.1h0M101.4 398.8h0M102.3 398.9h0M102.4 398.6h0M103.3 398.8h0M104.4 398.6h0M105.8 398.5h0M106.1 398.5h0M107.1 398.8h0M107.8 398.2h0M108.1 398.2h0M109.8 398.5h0M110.7 398.5h0M111.8 398.4h0M111.3 398.2h0M112.2 398.3h0M112.7 398.4h0M113.2 398.7h0M114.1 398.3h0M115.2 398.7h0M116.7 398.3h0M117.5 398.7h0M118.5 398.3h0M119.7 398.1h0M120.9 398.4h0M121.8 398.9h0M122.1 398.7h0M123.5 398.2h0M124.6 398.4h0M125.6 398.2h0M126.2 398.8h0M127.5 398.2h0M128.9 398.6h0M129.7 398.3h0M130.5 398.5h0M131.4 398.7h0M132.5 398.7h0M133.7 398.4h0M134.8 398.3h0M135.1 398.3h0M136.6 398.2h0M137.4 398.6h0M138.9 398.8h0M139.2 398.5h0M140.4 398.6h0M141.4 398.4h0M142.9 398.8h0M143.6 398.1h0M147.8 398.8h0M148.4 398.1h0M149.8 398.6h0M150.7 398.5h0M151.3 398.8h0M151.7 398.1h0M152.9 398.1h0M153.3 398.2h0M154.7 398.2h0M155.6 398.4h0M156.4 398.4h0M157.3 398.9h0M158.3 398.6h0M159.3 398.1h0M160.7 398.5h0M161.4 398.5h0M162.1 398.1h0M163.2 398.3h0M164.6 398.4h0M165.9 398.9h0M166.8 398.5h0M167.1 398.9h0M168.9 398.8h0M169.3 398.6h0M170.1 398.3h0M171.7 398.9h0M172.2 398.1h0M173.1 398.7h0M174.6 398.8h0M175.4 398.2h0M176.6 398.7h0M177.9 398.9h0M178.1 398.5h0M179.5 398.1h0M181.8 398.1h0M182.8 398.3h0M183.1 398.6h0M185.3 398.1h0M186.5 398.1h0M187.1 398.1h0M188.1 398.7h0M189.7 398.1h0M190.2 398.1h0M191.3 398.8h0M193.7 398.7h0M195.4 398.5h0M196.3 398.5h0M197.5 398.4h0M199.9 398.8h0M201.6 398.7h0M202.4 398.5h0M203.5 398.2h0M205.3 398.1h0M206.6 398.8h0M208.2 398.3h0M209.3 398.8h0M35.7 399.7h0M37.6 399.8h0M38.3 399.1h0M39.5 399.1h0M40.5 399.3h0M42.4 399.8h0M43.4 399.3h0M44.1 399.4h0M45.4 399.3h0M47.9 399.5h0M49.4 399.7h0M50.2 399.6h0M51.1 399.9h0M55.5 399.2h0M56.8 399.7h0M58.7 399.8h0M59.3 399.7h0M60.4 399.6h0M61.5 399.9h0M62.2 399.3h0M63.4 399.9h0M64.3 399.7h0M66.1 399.2h0M67.5 399.8h0M68.4 399.7h0M69.5 399.1h0M70.4 399.1h0M71.5 399.6h0M72.5 399.6h0M73.7 399.7h0M74.8 399.3h0M75.5 399.3h0M77.7 399.6h0M78.6 399.4h0M79.3 399.7h0M80.9 399.1h0M81.5 399.7h0M82.5 399.5h0M83.4 399.9h0M84.8 399.8h0M85.5 399.1h0M86.3 399.8h0M97.4 399.1h0M97.8 399.6h0M98.7 399.7h0M98.3 399.3h0M99.2 399.6h0M100.4 399.8h0M100.7 399.7h0M101.7 399.2h0M102.1 399.4h0M102.9 399.3h0M103.9 399.3h0M104.6 399.5h0M105.3 399.9h0M106.7 399.6h0M106.5 399.3h0M107.5 399.3h0M108.2 399.7h0M109.1 399.4h0M110.9 399.7h0M111.5 399.9h0M112.8 399.3h0M112.6 399.4h0M113.4 399.8h0M114.8 399.5h0M115.5 399.4h0M116.6 399.6h0M117.6 399.9h0M118.5 399.3h0M119.6 399.2h0M119.4 399.2h0M120.4 399.8h0M121.7 399.7h0M122.5 399.4h0M123.4 399.4h0M123.4 399.1h0M124.3 399.8h0M125.2 399.5h0M126.1 399.6h0M127.6 399.4h0M128.8 399.8h0M129.5 399.5h0M130.6 399.9h0M131.8 399.6h0M132.2 399.4h0M133.8 399.3h0M134.6 399.8h0M135.6 399.4h0M136.5 399.8h0M137.4 399.4h0M138.6 399.5h0M139.1 399.4h0M140.3 399.8h0M141.3 399.8h0M142.2 399.6h0M143.2 399.9h0M147.9 399.8h0M148.9 399.6h0M149.3 399.7h0M150.1 399.4h0M151.1 399.6h0M152.5 399.9h0M153.4 399.5h0M154.2 399.5h0M155.3 399.3h0M155.4 399.9h0M156.4 399.4h0M157.3 399.9h0M158.2 399.5h0M159.2 399.2h0M160.7 399.6h0M161.1 399.1h0M162.7 399.7h0M163.6 399.9h0M164.4 399.9h0M165.3 399.7h0M166.3 399.2h0M167.7 399.6h0M168.3 399.7h0M169.1 399.2h0M170.2 399.8h0M171.9 399.9h0M172.3 399.2h0M173.9 399.4h0M174.9 399.1h0M176.2 399.6h0M178.6 399.7h0M179.2 399.3h0M180.2 399.2h0M181.5 399.4h0M182.4 399.1h0M183.1 399.4h0M184.1 399.6h0M186.1 399.5h0M187.7 399.9h0M190.4 399.3h0M191.8 399.7h0M193.8 399.6h0M194.3 399.7h0M198.1 399.6h0M199.5 399.3h0M200.7 399.6h0M201.6 399.9h0M202.2 399.4h0M203.9 399.1h0M204.3 399.6h0M206.3 399.3h0M207.1 399.2h0M208.4 399.2h0M36.5 400.6h0M37.4 400.6h0M38.6 400.2h0M40.3 400.9h0M42.6 400.3h0M43.3 400.3h0M45.5 400.2h0M46.2 400.4h0M48.7 400.1h0M50.9 400.7h0M52.3 400.9h0M53.3 400.8h0M55.5 400.8h0M56.2 400.3h0M57.3 400.4h0M58.3 400.4h0M60.6 400.6h0M61.6 400.9h0M62.1 400.6h0M63.4 400.8h0M64.7 400.3h0M65.9 400.6h0M66.1 400.6h0M69.6 400.3h0M71.6 400.8h0M72.1 400.4h0M73.8 400.3h0M75.6 400.4h0M78.7 400.8h0M79.3 400.5h0M80.8 400.4h0M81.3 400.1h0M82.7 400.9h0M83.2 400.3h0M84.6 400.9h0M85.5 400.9h0M86.2 400.1h0M98.1 400.9h0M98.8 400.7h0M99.9 400.7h0M99.9 400.7h0M100.3 400.9h0M100.6 400.4h0M101.4 400.4h0M102.7 400.4h0M102.8 400.7h0M103.9 400.4h0M103.9 400.7h0M104.8 400.5h0M105.6 400.1h0M105.7 400.1h0M106.5 400.6h0M106.3 400.3h0M107.1 400.3h0M107.7 400.5h0M108.6 400.9h0M109.1 400.9h0M110.2 400.6h0M111.3 400.2h0M112.9 400.7h0M113.9 400.8h0M114.4 400.2h0M115.4 400.1h0M115.5 400.4h0M116.9 400.2h0M116.1 400.4h0M117.9 400.5h0M118.5 400.3h0M119.4 400.5h0M120.8 400.9h0M121.2 400.5h0M122.3 400.7h0M123.7 400.7h0M124.2 400.3h0M125.7 400.7h0M126.9 400.6h0M127.7 400.4h0M128.5 400.3h0M129.5 400.3h0M130.9 400.8h0M131.6 400.2h0M132.4 400.6h0M133.3 400.2h0M134.7 400.9h0M135.3 400.7h0M136.1 400.8h0M137.2 400.6h0M138.6 400.6h0M138.8 400.6h0M139.3 400.3h0M140.5 400.6h0M140.9 400.9h0M141.2 400.3h0M142.3 400.2h0M143.1 400.3h0M147.7 400.3h0M148.9 400.3h0M148.2 400.3h0M149.2 400.2h0M150.4 400.2h0M151.8 400.3h0M152.5 400.1h0M153.9 400.1h0M154.1 400.3h0M154.1 400.8h0M155.2 400.8h0M156.4 400.3h0M157.4 400.8h0M158.2 400.2h0M159.6 400.3h0M160.9 400.1h0M161.7 400.8h0M162.3 400.6h0M163.9 400.8h0M164.3 400.6h0M165.9 400.7h0M166.2 400.6h0M167.4 400.7h0M168.1 400.2h0M169.1 400.8h0M170.1 400.5h0M171.1 400.7h0M172.9 400.3h0M173.4 400.9h0M174.4 400.3h0M175.9 400.9h0M177.5 400.7h0M178.2 400.3h0M179.4 400.1h0M180.2 400.9h0M181.1 400.7h0M182.9 400.9h0M183.2 400.1h0M184.7 400.4h0M186.3 400.7h0M187.1 400.7h0M189.3 400.9h0M190.2 400.1h0M191.7 400.9h0M192.5 400.1h0M193.2 400.2h0M194.8 400.2h0M195.9 400.3h0M196.5 400.4h0M197.1 400.6h0M199.2 400.1h0M200.6 400.8h0M201.7 400.7h0M202.1 400.2h0M203.4 400.2h0M204.1 400.8h0M205.9 400.9h0M207.3 400.4h0M208.1 400.4h0M35.5 401.4h0M36.6 401.6h0M37.1 401.3h0M38.4 401.3h0M39.2 401.2h0M40.3 401.1h0M41.2 401.6h0M42.7 401.6h0M43.5 401.5h0M45.6 401.9h0M46.8 401.7h0M47.1 401.4h0M48.5 401.8h0M49.8 401.3h0M50.3 401.3h0M51.8 401.2h0M52.9 401.6h0M53.4 401.6h0M54.9 401.2h0M56.9 401.8h0M59.2 401.9h0M60.8 401.8h0M61.7 401.6h0M62.4 401.4h0M63.9 401.6h0M64.6 401.7h0M65.1 401.7h0M66.1 401.1h0M67.7 401.3h0M69.4 401.9h0M70.6 401.6h0M71.8 401.6h0M72.8 401.4h0M73.9 401.4h0M74.2 401.1h0M75.1 401.3h0M76.6 401.4h0M77.6 401.3h0M79.4 401.3h0M80.2 401.8h0M81.8 401.5h0M83.8 401.6h0M84.1 401.8h0M86.1 401.4h0M98.4 401.6h0M98.2 401.6h0M99.5 401.3h0M99.1 401.4h0M100.7 401.2h0M100.6 401.6h0M101.6 401.7h0M102.2 401.9h0M102.2 401.4h0M103.7 401.4h0M104.2 401.4h0M105.4 401.2h0M105.3 401.4h0M106.4 401.9h0M107.3 401.2h0M108.6 401.3h0M109.8 401.7h0M110.2 401.8h0M111.9 401.5h0M112.7 401.6h0M113.7 401.2h0M113.8 401.2h0M114.4 401.2h0M115.4 401.9h0M116.5 401.6h0M117.7 401.4h0M118.1 401.9h0M119.3 401.6h0M120.2 401.1h0M121.8 401.2h0M121.1 401.4h0M122.6 401.9h0M123.6 401.1h0M124.2 401.7h0M125.5 401.6h0M126.1 401.2h0M127.3 401.7h0M128.7 401.7h0M129.2 401.3h0M130.2 401.7h0M131.2 401.9h0M132.9 401.3h0M132.1 401.7h0M133.8 401.6h0M134.8 401.2h0M135.2 401.8h0M136.8 401.3h0M137.8 401.1h0M137.2 401.7h0M138.6 401.2h0M139.4 401.7h0M140.8 401.5h0M141.5 401.3h0M142.2 401.4h0M143.6 401.4h0M147.6 401.1h0M148.9 401.5h0M148.6 401.4h0M149.4 401.1h0M149.3 401.3h0M150.8 401.6h0M150.7 401.2h0M151.6 401.5h0M152.8 401.5h0M152.4 401.6h0M153.5 401.2h0M154.5 401.5h0M155.2 401.4h0M156.2 401.4h0M157.6 401.8h0M158.4 401.8h0M158.2 401.4h0M159.2 401.6h0M160.7 401.6h0M161.2 401.3h0M162.5 401.1h0M163.8 401.9h0M164.7 401.1h0M165.1 401.2h0M166.1 401.1h0M167.8 401.6h0M168.2 401.7h0M169.8 401.5h0M170.2 401.8h0M171.9 401.8h0M172.6 401.3h0M173.2 401.5h0M174.6 401.1h0M175.7 401.6h0M176.9 401.3h0M177.3 401.9h0M178.5 401.2h0M179.2 401.5h0M180.8 401.7h0M181.8 401.1h0M182.5 401.9h0M183.6 401.3h0M184.5 401.8h0M185.2 401.5h0M186.2 401.9h0M187.4 401.7h0M188.7 401.9h0M189.8 401.7h0M190.1 401.1h0M191.9 401.1h0M192.6 401.1h0M193.9 401.5h0M194.1 401.2h0M195.3 401.6h0M197.7 401.2h0M198.1 401.9h0M199.9 401.9h0M200.3 401.3h0M201.6 401.2h0M202.5 401.2h0M203.4 401.3h0M204.4 401.2h0M205.2 401.5h0M206.5 401.6h0M207.3 401.4h0M208.2 401.7h0M209.1 401.4h0M35.2 402.6h0M36.1 402.7h0M37.5 402.7h0M38.8 402.8h0M39.6 402.3h0M40.5 402.3h0M42.3 402.8h0M43.1 402.4h0M44.7 402.5h0M45.6 402.1h0M46.4 402.4h0M47.1 402.8h0M48.6 402.1h0M50.4 402.3h0M51.3 402.5h0M52.5 402.1h0M53.4 402.1h0M54.2 402.1h0M55.5 402.8h0M56.6 402.8h0M57.4 402.6h0M58.5 402.7h0M59.8 402.3h0M60.3 402.2h0M61.3 402.5h0M62.3 402.6h0M63.4 402.5h0M64.4 402.6h0M65.3 402.4h0M66.8 402.4h0M67.6 402.2h0M68.7 402.9h0M69.6 402.5h0M70.6 402.1h0M71.9 402.3h0M72.3 402.5h0M73.6 402.4h0M74.7 402.8h0M75.3 402.4h0M76.9 402.5h0M77.9 402.1h0M78.2 402.6h0M79.2 402.3h0M80.9 402.8h0M81.6 402.4h0M82.4 402.1h0M83.4 402.7h0M84.1 402.2h0M85.1 402.1h0M86.3 402.9h0M99.8 402.3h0M100.3 402.8h0M101.5 402.5h0M101.2 402.4h0M102.5 402.5h0M103.5 402.2h0M103.2 402.1h0M104.2 402.5h0M105.4 402.3h0M106.1 402.6h0M106.5 402.3h0M107.5 402.7h0M107.2 402.8h0M108.6 402.6h0M109.9 402.8h0M110.1 402.7h0M110.5 402.6h0M111.5 402.1h0M112.6 402.5h0M113.6 402.9h0M114.2 402.8h0M115.5 402.5h0M116.4 402.7h0M117.3 402.9h0M118.7 402.7h0M119.6 402.1h0M120.3 402.5h0M121.7 402.1h0M122.2 402.2h0M123.7 402.3h0M123.1 402.4h0M124.8 402.7h0M125.6 402.3h0M126.7 402.7h0M127.3 402.9h0M128.8 402.3h0M128.2 402.7h0M129.5 402.5h0M130.6 402.6h0M131.1 402.8h0M132.8 402.2h0M133.4 402.5h0M134.5 402.4h0M134.3 402.8h0M135.3 402.2h0M136.8 402.9h0M137.7 402.9h0M138.9 402.1h0M139.1 402.2h0M140.3 402.1h0M141.6 402.4h0M142.4 402.7h0M143.3 402.4h0M150.8 402.4h0M150.3 402.8h0M151.5 402.1h0M151.4 402.1h0M152.6 402.7h0M153.5 402.9h0M153.9 402.9h0M154.6 402.1h0M154.9 402.9h0M155.7 402.6h0M155.6 402.2h0M156.5 402.7h0M156.4 402.2h0M157.1 402.7h0M157.3 402.2h0M158.5 402.4h0M159.2 402.5h0M160.4 402.3h0M161.9 402.4h0M161.3 402.9h0M162.4 402.1h0M163.3 402.8h0M164.8 402.8h0M164.3 402.1h0M165.4 402.4h0M166.2 402.2h0M167.8 402.3h0M167.6 402.8h0M168.4 402.5h0M169.9 402.3h0M170.7 402.6h0M171.2 402.3h0M172.6 402.4h0M172.8 402.3h0M173.3 402.8h0M174.8 402.3h0M175.2 402.5h0M176.3 402.5h0M177.6 402.7h0M178.4 402.7h0M178.1 402.7h0M179.4 402.7h0M180.9 402.6h0M180.3 402.8h0M181.2 402.2h0M182.7 402.7h0M183.6 402.1h0M184.4 402.2h0M185.5 402.8h0M186.4 402.8h0M187.4 402.5h0M188.7 402.3h0M189.3 402.7h0M190.2 402.4h0M191.5 402.2h0M192.2 402.7h0M193.8 402.1h0M194.6 402.2h0M195.5 402.3h0M196.8 402.1h0M197.6 402.1h0M198.2 402.8h0M199.2 402.2h0M199.4 402.1h0M200.7 402.5h0M201.4 402.2h0M202.7 402.1h0M203.5 402.9h0M204.4 402.5h0M205.3 402.6h0M206.6 402.2h0M207.6 402.8h0M207.1 402.6h0M208.1 402.5h0M209.7 402.7h0M35.4 403.4h0M36.6 403.9h0M37.5 403.9h0M38.9 403.2h0M39.5 403.4h0M40.2 403.4h0M41.1 403.3h0M42.2 403.7h0M43.5 403.9h0M44.8 403.4h0M45.6 403.2h0M46.5 403.9h0M47.1 403.5h0M48.7 403.6h0M49.1 403.7h0M50.6 403.8h0M51.4 403.8h0M52.3 403.8h0M53.8 403.2h0M54.2 403.3h0M55.1 403.9h0M56.2 403.8h0M57.8 403.4h0M58.6 403.1h0M59.5 403.8h0M60.6 403.7h0M61.3 403.4h0M62.4 403.8h0M63.3 403.5h0M64.9 403.5h0M65.5 403.7h0M66.2 403.2h0M67.2 403.8h0M68.2 403.9h0M69.8 403.2h0M70.3 403.5h0M71.6 403.5h0M72.7 403.9h0M73.9 403.5h0M74.3 403.1h0M75.1 403.1h0M76.1 403.6h0M77.3 403.4h0M78.2 403.5h0M79.7 403.6h0M80.6 403.5h0M81.9 403.7h0M82.1 403.1h0M83.6 403.4h0M84.8 403.1h0M85.9 403.9h0M86.9 403.6h0M100.1 403.5h0M100.2 403.7h0M101.9 403.3h0M101.1 403.6h0M102.9 403.2h0M102.4 403.6h0M103.5 403.1h0M103.9 403.2h0M104.4 403.8h0M104.4 403.9h0M105.3 403.7h0M105.6 403.5h0M106.2 403.6h0M107.3 403.9h0M108.5 403.7h0M108.2 403.4h0M109.3 403.5h0M110.3 403.7h0M111.4 403.9h0M112.9 403.8h0M112.5 403.7h0M113.9 403.5h0M114.1 403.5h0M115.1 403.2h0M116.3 403.3h0M116.7 403.3h0M117.8 403.5h0M117.6 403.1h0M118.6 403.7h0M118.4 403.7h0M119.5 403.7h0M120.5 403.9h0M121.1 403.9h0M122.6 403.7h0M123.4 403.1h0M124.2 403.9h0M125.5 403.1h0M125.4 403.3h0M126.5 403.8h0M127.7 403.9h0M128.9 403.4h0M129.7 403.9h0M130.6 403.3h0M130.8 403.6h0M131.3 403.9h0M132.9 403.5h0M132.1 403.3h0M133.2 403.7h0M133.3 403.3h0M134.5 403.5h0M135.6 403.3h0M135.9 403.8h0M136.8 403.5h0M136.6 403.4h0M137.4 403.8h0M138.3 403.9h0M139.1 403.9h0M140.2 403.1h0M141.2 403.7h0M142.1 403.8h0M142.6 403.4h0M143.2 403.6h0M143.7 403.9h0M153.7 403.7h0M154.1 403.3h0M154.2 403.4h0M155.8 403.2h0M156.6 403.7h0M156.7 403.1h0M157.9 403.7h0M158.8 403.7h0M159.8 403.9h0M160.8 403.3h0M160.8 403.3h0M161.9 403.1h0M161.2 403.4h0M162.9 403.3h0M162.4 403.8h0M163.7 403.6h0M164.6 403.9h0M164.8 403.1h0M165.9 403.3h0M165.7 403.6h0M166.5 403.4h0M167.7 403.3h0M168.5 403.5h0M168.7 403.7h0M169.8 403.9h0M170.4 403.6h0M171.8 403.5h0M172.4 403.8h0M172.5 403.5h0M173.8 403.4h0M173.2 403.9h0M174.7 403.1h0M175.6 403.5h0M175.2 403.1h0M176.1 403.9h0M176.8 403.8h0M177.7 403.4h0M178.9 403.7h0M178.2 403.3h0M179.7 403.7h0M179.8 403.5h0M180.4 403.2h0M181.7 403.1h0M181.4 403.6h0M182.9 403.6h0M183.9 403.9h0M184.6 403.4h0M185.3 403.3h0M185.9 403.5h0M186.5 403.5h0M187.1 403.3h0M187.6 403.8h0M188.9 403.7h0M189.8 403.8h0M190.5 403.3h0M190.8 403.7h0M191.3 403.2h0M192.2 403.3h0M192.9 403.1h0M193.5 403.5h0M194.1 403.4h0M195.1 403.2h0M196.2 403.2h0M197.8 403.2h0M197.6 403.9h0M198.3 403.5h0M199.1 403.1h0M200.7 403.9h0M200.6 403.8h0M201.5 403.2h0M202.7 403.8h0M203.1 403.8h0M204.5 403.5h0M205.6 403.8h0M205.6 403.4h0M206.1 403.3h0M206.6 403.8h0M207.7 403.5h0M207.4 403.1h0M208.9 403.4h0M209.3 403.3h0M35.7 404.9h0M36.6 404.5h0M36.9 404.4h0M37.1 404.5h0M38.4 404.5h0M39.4 404.5h0M40.5 404.9h0M41.8 404.9h0M42.6 404.6h0M43.5 404.4h0M44.7 404.9h0M44.7 404.6h0M45.1 404.3h0M46.1 404.3h0M47.4 404.8h0M48.2 404.6h0M48.5 404.7h0M49.6 404.1h0M49.4 404.3h0M50.5 404.4h0M51.5 404.3h0M52.6 404.7h0M53.1 404.2h0M54.1 404.6h0M55.3 404.4h0M56.5 404.5h0M57.3 404.4h0M58.5 404.3h0M59.1 404.9h0M60.8 404.6h0M61.8 404.6h0M62.6 404.8h0M63.5 404.3h0M64.8 404.3h0M65.9 404.3h0M66.1 404.7h0M67.9 404.1h0M68.7 404.3h0M69.6 404.6h0M70.7 404.1h0M71.5 404.3h0M72.7 404.9h0M73.5 404.6h0M74.5 404.3h0M75.4 404.8h0M76.4 404.4h0M77.2 404.6h0M78.3 404.8h0M78.8 404.6h0M79.1 404.4h0M80.6 404.9h0M80.9 404.9h0M81.2 404.6h0M82.8 404.4h0M83.3 404.7h0M84.6 404.5h0M85.4 404.6h0M86.2 404.6h0M101.3 404.7h0M102.3 404.4h0M103.7 404.6h0M103.4 404.6h0M104.1 404.6h0M104.1 404.9h0M105.3 404.9h0M105.9 404.2h0M106.9 404.3h0M106.6 404.1h0M107.1 404.5h0M108.5 404.5h0M108.9 404.5h0M109.5 404.1h0M109.2 404.5h0M110.5 404.4h0M110.2 404.7h0M111.2 404.1h0M112.4 404.8h0M112.5 404.9h0M113.7 404.1h0M113.4 404.1h0M114.7 404.3h0M115.6 404.5h0M116.2 404.1h0M117.4 404.2h0M117.4 404.3h0M118.6 404.6h0M119.8 404.2h0M120.2 404.6h0M121.8 404.4h0M122.6 404.4h0M123.7 404.6h0M124.8 404.8h0M125.4 404.7h0M126.6 404.1h0M127.6 404.8h0M128.5 404.7h0M129.5 404.9h0M130.8 404.5h0M130.6 404.8h0M131.4 404.8h0M132.4 404.8h0M133.5 404.2h0M134.8 404.8h0M134.6 404.4h0M135.2 404.6h0M136.5 404.6h0M137.2 404.4h0M138.8 404.1h0M138.2 404.4h0M139.5 404.2h0M140.4 404.2h0M140.1 404.6h0M141.2 404.8h0M141.3 404.2h0M142.6 404.4h0M143.8 404.3h0M143.1 404.2h0M160.1 404.8h0M160.1 404.6h0M161.4 404.6h0M161.7 404.3h0M162.6 404.7h0M162.6 404.1h0M163.6 404.6h0M163.4 404.6h0M164.9 404.1h0M164.4 404.6h0M165.2 404.8h0M165.2 404.1h0M166.6 404.5h0M166.8 404.4h0M167.2 404.5h0M167.8 404.9h0M168.9 404.7h0M168.2 404.8h0M169.8 404.9h0M169.8 404.1h0M170.2 404.1h0M170.4 404.5h0M171.6 404.2h0M171.9 404.9h0M172.2 404.9h0M173.4 404.5h0M173.1 404.5h0M174.2 404.6h0M174.3 404.9h0M175.4 404.3h0M175.4 404.3h0M176.2 404.9h0M177.3 404.8h0M177.9 404.7h0M178.8 404.2h0M178.3 404.9h0M179.2 404.2h0M179.3 404.8h0M180.8 404.8h0M181.8 404.1h0M181.7 404.3h0M182.6 404.6h0M183.9 404.6h0M184.8 404.8h0M184.6 404.6h0M185.9 404.3h0M185.8 404.4h0M186.5 404.1h0M187.4 404.1h0M188.8 404.4h0M188.5 404.2h0M189.2 404.2h0M190.7 404.1h0M190.6 404.5h0M191.8 404.4h0M191.3 404.1h0M192.9 404.9h0M193.2 404.1h0M194.3 404.3h0M194.9 404.4h0M195.1 404.7h0M195.2 404.1h0M196.9 404.9h0M196.2 404.4h0M197.8 404.5h0M197.6 404.4h0M198.1 404.8h0M198.7 404.7h0M199.3 404.8h0M199.1 404.7h0M200.4 404.7h0M200.6 404.7h0M201.9 404.2h0M202.2 404.6h0M202.6 404.9h0M203.9 404.4h0M204.5 404.3h0M204.2 404.5h0M205.5 404.3h0M206.2 404.5h0M207.7 404.5h0M207.6 404.4h0M208.2 404.3h0M209.9 404.3h0M35.8 405.8h0M36.8 405.8h0M37.2 405.7h0M38.9 405.6h0M39.2 405.3h0M40.5 405.5h0M41.4 405.3h0M42.3 405.7h0M43.9 405.1h0M44.8 405.3h0M45.6 405.7h0M46.2 405.9h0M47.1 405.5h0M48.6 405.7h0M49.1 405.3h0M50.6 405.8h0M51.5 405.1h0M52.2 405.5h0M53.8 405.1h0M54.5 405.9h0M55.9 405.3h0M56.1 405.8h0M57.2 405.2h0M57.6 405.1h0M58.3 405.1h0M58.4 405.2h0M59.1 405.6h0M60.4 405.5h0M60.6 405.6h0M61.9 405.4h0M61.1 405.4h0M62.3 405.2h0M62.1 405.9h0M63.5 405.2h0M64.2 405.6h0M65.7 405.6h0M66.7 405.5h0M67.5 405.5h0M68.8 405.4h0M68.4 405.7h0M69.5 405.1h0M69.5 405.7h0M70.2 405.2h0M70.5 405.5h0M71.5 405.2h0M71.5 405.5h0M72.3 405.5h0M73.4 405.4h0M74.4 405.1h0M75.6 405.1h0M76.3 405.6h0M77.8 405.9h0M78.6 405.9h0M79.2 405.6h0M80.9 405.4h0M81.2 405.8h0M82.8 405.8h0M82.9 405.1h0M83.1 405.3h0M84.6 405.8h0M85.9 405.6h0M86.7 405.7h0M103.9 405.6h0M103.6 405.6h0M104.8 405.2h0M104.6 405.6h0M105.8 405.7h0M106.6 405.5h0M106.8 405.2h0M107.5 405.8h0M108.1 405.2h0M108.1 405.2h0M109.9 405.7h0M110.9 405.1h0M111.7 405.5h0M112.2 405.3h0M112.5 405.1h0M113.5 405.3h0M114.6 405.7h0M115.5 405.6h0M115.8 405.8h0M116.9 405.3h0M116.1 405.4h0M117.1 405.1h0M118.5 405.1h0M118.3 405.1h0M119.4 405.8h0M120.7 405.1h0M121.1 405.6h0M121.1 405.4h0M122.1 405.8h0M122.4 405.9h0M123.5 405.2h0M123.6 405.9h0M124.1 405.7h0M125.6 405.2h0M126.3 405.4h0M127.9 405.7h0M128.7 405.8h0M129.9 405.1h0M129.7 405.4h0M130.2 405.4h0M130.2 405.6h0M131.6 405.6h0M131.4 405.6h0M132.6 405.2h0M133.8 405.3h0M134.8 405.2h0M134.4 405.7h0M135.7 405.5h0M135.4 405.3h0M136.7 405.1h0M137.4 405.8h0M137.1 405.7h0M138.7 405.1h0M138.2 405.4h0M139.8 405.1h0M140.2 405.3h0M141.8 405.4h0M141.6 405.5h0M142.2 405.9h0M143.9 405.4h0M143.5 405.9h0M198.5 405.7h0M198.5 405.2h0M199.8 405.3h0M200.9 405.5h0M201.4 405.7h0M202.1 405.9h0M202.2 405.4h0M203.2 405.7h0M203.9 405.3h0M204.8 405.1h0M205.7 405.7h0M206.9 405.4h0M207.8 405.9h0M207.5 405.3h0M208.9 405.9h0M209.3 405.6h0M209.7 405.2h0M35.8 406.1h0M35.3 406.1h0M36.3 406.2h0M37.7 406.1h0M38.4 406.1h0M38.9 406.4h0M39.9 406.7h0M40.1 406.3h0M40.5 406.5h0M41.4 406.2h0M42.8 406.7h0M43.1 406.4h0M43.5 406.8h0M44.4 406.4h0M44.1 406.4h0M45.6 406.6h0M45.5 406.3h0M46.8 406.9h0M46.1 406.5h0M47.4 406.8h0M48.9 406.4h0M48.4 406.1h0M49.1 406.3h0M49.4 406.9h0M50.3 406.2h0M51.1 406.5h0M51.7 406.6h0M52.2 406.5h0M53.2 406.9h0M54.7 406.1h0M55.8 406.1h0M55.2 406.9h0M56.8 406.3h0M56.4 406.8h0M57.4 406.3h0M57.5 406.4h0M58.5 406.9h0M59.9 406.5h0M60.5 406.1h0M60.4 406.8h0M61.1 406.5h0M62.5 406.4h0M63.9 406.3h0M63.7 406.7h0M64.5 406.8h0M65.8 406.9h0M65.3 406.8h0M66.9 406.1h0M66.6 406.3h0M67.1 406.5h0M67.9 406.5h0M68.3 406.6h0M69.1 406.2h0M69.5 406.4h0M70.3 406.6h0M71.7 406.6h0M72.2 406.3h0M72.9 406.5h0M73.9 406.4h0M74.7 406.3h0M74.8 406.4h0M75.6 406.4h0M75.8 406.3h0M76.5 406.9h0M77.5 406.2h0M78.7 406.3h0M78.4 406.4h0M79.7 406.9h0M79.4 406.7h0M80.2 406.6h0M81.6 406.6h0M82.3 406.1h0M83.8 406.9h0M83.6 406.5h0M84.4 406.7h0M85.6 406.9h0M85.3 406.4h0M86.8 406.1h0M86.1 406.7h0M106.4 406.7h0M107.6 406.5h0M107.6 406.5h0M108.3 406.8h0M108.5 406.6h0M109.6 406.2h0M109.4 406.8h0M110.5 406.2h0M110.1 406.3h0M111.5 406.9h0M111.4 406.7h0M112.2 406.1h0M113.2 406.6h0M114.9 406.5h0M114.7 406.6h0M115.6 406.7h0M116.9 406.2h0M116.8 406.7h0M117.2 406.1h0M118.1 406.9h0M118.6 406.2h0M119.4 406.2h0M119.7 406.1h0M120.9 406.4h0M121.4 406.8h0M122.8 406.9h0M123.1 406.4h0M123.3 406.8h0M124.6 406.2h0M125.6 406.6h0M125.4 406.5h0M126.8 406.3h0M127.7 406.6h0M127.3 406.4h0M128.3 406.8h0M129.2 406.2h0M129.1 406.4h0M130.8 406.9h0M130.8 406.3h0M131.9 406.7h0M131.4 406.5h0M132.9 406.3h0M132.3 406.7h0M133.9 406.8h0M133.6 406.4h0M134.8 406.1h0M134.4 406.5h0M135.1 406.4h0M135.4 406.3h0M136.6 406.8h0M136.9 406.7h0M137.4 406.2h0M138.3 406.9h0M138.4 406.1h0M139.4 406.3h0M139.1 406.3h0M140.7 406.1h0M140.1 406.1h0M141.8 406.2h0M141.6 406.6h0M142.5 406.4h0M143.4 406.8h0M107.6 407.4h0M107.3 407.2h0M108.4 407.2h0M108.6 407.2h0M109.2 407.2h0M109.3 407.6h0M110.4 407.5h0M110.2 407.4h0M111.4 407.5h0M112.3 407.5h0M113.6 407.5h0M113.9 407.7h0M114.1 407.8h0M115.5 407.8h0M115.2 407.8h0M116.9 407.2h0M116.9 407.8h0M117.3 407.3h0M118.4 407.3h0M118.7 407.4h0M119.5 407.2h0M120.7 407.4h0M121.6 407.5h0M121.1 407.1h0M122.4 407.5h0M123.6 407.7h0M124.2 407.2h0M125.4 407.5h0M126.6 407.3h0M127.9 407.1h0M127.6 407.9h0M128.8 407.5h0M128.4 407.7h0M129.7 407.7h0M129.7 407.5h0M130.5 407.5h0M130.3 407.9h0M131.8 407.8h0M131.8 407.1h0M132.8 407.7h0M132.7 407.6h0M133.5 407.3h0M134.2 407.4h0M134.8 407.4h0M135.8 407.9h0M135.8 407.8h0M136.5 407.7h0M137.2 407.3h0M137.7 407.4h0M138.8 407.2h0M139.6 407.1h0M139.2 407.1h0M140.8 407.9h0M141.5 407.3h0M142.5 407.2h0M143.6 407.8h0M143.4 407.2h0M107.2 408.8h0M107.7 408.1h0M108.3 408.1h0M108.1 408.6h0M109.6 408.9h0M109.4 408.1h0M110.2 408.7h0M110.9 408.8h0M111.9 408.1h0M111.9 408.4h0M112.9 408.5h0M112.8 408.1h0M113.6 408.6h0M113.7 408.8h0M114.8 408.3h0M114.3 408.3h0M115.8 408.6h0M116.4 408.7h0M116.3 408.2h0M117.2 408.4h0M117.4 408.1h0M118.2 408.8h0M118.7 408.1h0M119.3 408.3h0M119.1 408.9h0M120.7 408.8h0M120.2 408.8h0M121.4 408.5h0M121.8 408.8h0M122.6 408.9h0M123.4 408.9h0M124.4 408.4h0M124.8 408.8h0M125.1 408.8h0M125.1 408.5h0M126.2 408.5h0M126.8 408.9h0M127.4 408.5h0M127.5 408.6h0M128.2 408.3h0M128.2 408.9h0M129.9 408.8h0M130.7 408.6h0M131.8 408.8h0M132.5 408.1h0M133.6 408.6h0M133.4 408.3h0M134.1 408.6h0M135.7 408.8h0M136.1 408.6h0M137.4 408.9h0M137.4 408.2h0M138.1 408.3h0M138.7 408.8h0M139.8 408.1h0M139.3 408.9h0M140.4 408.8h0M140.6 408.2h0M141.6 408.1h0M142.8 408.7h0M142.6 408.2h0M143.8 408.4h0M108.6 409.7h0M108.2 409.7h0M109.7 409.3h0M109.1 409.4h0M110.1 409.2h0M110.3 409.3h0M111.5 409.4h0M111.5 409.8h0M112.1 409.6h0M112.8 409.7h0M113.3 409.4h0M113.9 409.4h0M114.1 409.1h0M114.6 409.7h0M115.5 409.3h0M116.5 409.5h0M117.2 409.4h0M118.6 409.7h0M119.9 409.5h0M120.6 409.2h0M121.4 409.5h0M121.3 409.3h0M122.7 409.8h0M122.8 409.5h0M123.9 409.1h0M123.2 409.6h0M124.4 409.7h0M125.8 409.3h0M126.1 409.4h0M127.9 409.3h0M128.4 409.1h0M128.9 409.8h0M129.7 409.4h0M130.4 409.2h0M130.6 409.2h0M131.7 409.7h0M132.1 409.3h0M132.4 409.8h0M133.9 409.8h0M133.4 409.9h0M134.2 409.8h0M135.9 409.1h0M135.5 409.4h0M136.5 409.3h0M136.7 409.2h0M137.6 409.9h0M138.7 409.9h0M138.6 409.5h0M139.4 409.1h0M139.2 409.2h0M140.7 409.3h0M140.5 409.1h0M141.2 409.6h0M141.1 409.5h0M142.4 409.1h0M142.6 409.5h0M143.2 409.1h0M108.2 410.8h0M108.7 410.7h0M109.4 410.6h0M110.3 410.7h0M110.7 410.7h0M111.7 410.2h0M111.8 410.4h0M112.4 410.1h0M112.3 410.2h0M113.7 410.7h0M113.3 410.8h0M114.8 410.8h0M115.8 410.6h0M115.7 410.5h0M116.1 410.1h0M117.4 410.9h0M117.3 410.3h0M118.7 410.5h0M119.1 410.4h0M120.6 410.1h0M121.7 410.4h0M121.7 410.3h0M122.3 410.6h0M122.3 410.1h0M123.6 410.5h0M124.8 410.9h0M124.2 410.1h0M125.4 410.9h0M125.2 410.5h0M126.9 410.2h0M126.7 410.9h0M127.8 410.7h0M127.1 410.8h0M128.4 410.8h0M129.4 410.3h0M130.4 410.4h0M131.1 410.6h0M131.5 410.8h0M132.9 410.4h0M132.7 410.4h0M133.4 410.1h0M134.9 410.1h0M134.2 410.8h0M135.8 410.3h0M136.6 410.1h0M137.9 410.4h0M137.3 410.3h0M138.5 410.1h0M138.3 410.6h0M139.1 410.3h0M139.1 410.1h0M140.1 410.4h0M140.2 410.4h0M141.8 410.9h0M141.2 410.4h0M142.7 410.3h0M143.3 410.8h0M143.2 410.5h0M108.2 411.8h0M108.5 411.6h0M109.3 411.6h0M109.8 411.8h0M110.6 411.4h0M110.4 411.3h0M111.1 411.3h0M111.2 411.5h0M112.9 411.8h0M112.4 411.8h0M113.6 411.7h0M113.3 411.5h0M114.8 411.3h0M114.5 411.1h0M115.3 411.9h0M115.3 411.2h0M116.3 411.3h0M116.1 411.1h0M117.1 411.3h0M118.9 411.7h0M118.2 411.6h0M119.6 411.3h0M119.2 411.5h0M120.1 411.2h0M121.7 411.1h0M121.1 411.7h0M122.6 411.9h0M123.7 411.9h0M123.2 411.5h0M124.1 411.8h0M124.5 411.6h0M125.8 411.2h0M126.6 411.6h0M126.8 411.3h0M127.4 411.2h0M127.7 411.3h0M128.4 411.4h0M128.9 411.9h0M129.1 411.4h0M129.9 411.1h0M130.4 411.5h0M130.9 411.1h0M131.1 411.2h0M131.6 411.9h0M132.1 411.9h0M132.4 411.7h0M133.6 411.1h0M133.1 411.5h0M134.8 411.9h0M134.8 411.1h0M135.8 411.1h0M135.7 411.3h0M136.5 411.9h0M137.3 411.7h0M137.8 411.4h0M138.7 411.1h0M138.2 411.5h0M139.2 411.9h0M139.1 411.3h0M140.1 411.3h0M140.9 411.2h0M141.9 411.5h0M141.9 411.2h0M142.8 411.6h0M142.7 411.9h0M143.1 411.2h0M143.7 411.4h0M109.8 412.8h0M109.5 412.5h0M110.7 412.8h0M111.8 412.9h0M111.6 412.5h0M112.7 412.8h0M112.7 412.8h0M113.9 412.5h0M113.4 412.2h0M114.6 412.5h0M115.7 412.8h0M115.7 412.8h0M116.5 412.2h0M116.7 412.7h0M117.1 412.8h0M117.1 412.6h0M118.9 412.2h0M118.2 412.7h0M119.6 412.3h0M119.1 412.2h0M120.7 412.9h0M121.8 412.8h0M121.8 412.7h0M122.6 412.6h0M122.8 412.4h0M123.5 412.3h0M123.6 412.9h0M124.4 412.4h0M124.3 412.2h0M125.5 412.8h0M125.3 412.6h0M126.8 412.9h0M127.2 412.9h0M127.1 412.6h0M128.9 412.6h0M129.9 412.7h0M130.6 412.1h0M130.8 412.2h0M131.7 412.2h0M131.8 412.9h0M132.7 412.2h0M132.3 412.9h0M133.8 412.5h0M134.1 412.5h0M134.4 412.9h0M135.3 412.3h0M135.9 412.7h0M136.7 412.7h0M137.5 412.4h0M137.9 412.9h0M138.4 412.2h0M139.5 412.1h0M139.1 412.6h0M140.2 412.3h0M140.3 412.1h0M141.2 412.2h0M141.2 412.4h0M142.4 412.2h0M142.1 412.8h0M143.4 412.5h0M143.1 412.6h0M109.5 413.8h0M109.4 413.3h0M110.5 413.4h0M110.5 413.4h0M111.5 413.6h0M111.5 413.8h0M112.6 413.8h0M112.8 413.4h0M113.3 413.4h0M113.4 413.7h0M114.1 413.6h0M114.9 413.4h0M115.7 413.5h0M115.9 413.6h0M116.9 413.9h0M116.6 413.8h0M117.1 413.5h0M117.7 413.9h0M118.1 413.4h0M118.2 413.1h0M119.7 413.5h0M119.9 413.5h0M120.9 413.9h0M120.5 413.6h0M121.4 413.5h0M121.1 413.2h0M122.7 413.6h0M123.2 413.5h0M123.2 413.3h0M124.2 413.5h0M124.7 413.9h0M125.3 413.1h0M125.9 413.2h0M126.6 413.9h0M127.1 413.9h0M127.3 413.9h0M128.7 413.7h0M129.1 413.1h0M129.7 413.3h0M130.6 413.6h0M130.6 413.8h0M131.9 413.3h0M132.8 413.5h0M132.8 413.1h0M133.8 413.9h0M134.9 413.9h0M134.6 413.5h0M135.9 413.6h0M135.2 413.8h0M136.1 413.1h0M136.1 413.3h0M137.1 413.3h0M137.3 413.2h0M138.9 413.1h0M138.5 413.8h0M139.3 413.5h0M139.3 413.1h0M140.3 413.1h0M140.2 413.8h0M141.4 413.6h0M141.2 413.2h0M142.8 413.6h0M142.4 413.6h0M143.1 413.7h0M143.1 413.1h0M110.5 414.5h0M110.9 414.4h0M111.6 414.3h0M111.1 414.5h0M112.6 414.3h0M112.3 414.4h0M113.7 414.1h0M114.9 414.3h0M114.4 414.7h0M115.2 414.3h0M115.6 414.6h0M116.6 414.9h0M117.9 414.4h0M118.5 414.9h0M118.3 414.3h0M119.4 414.5h0M119.2 414.6h0M120.4 414.8h0M120.7 414.2h0M121.5 414.7h0M122.3 414.7h0M122.7 414.5h0M123.5 414.3h0M123.4 414.9h0M124.3 414.6h0M125.5 414.1h0M125.1 414.8h0M126.4 414.4h0M127.8 414.1h0M127.4 414.8h0M128.7 414.6h0M128.2 414.2h0M129.4 414.5h0M129.7 414.3h0M130.3 414.1h0M131.5 414.1h0M131.1 414.4h0M132.7 414.5h0M132.8 414.6h0M133.1 414.4h0M134.2 414.9h0M135.4 414.8h0M135.1 414.8h0M136.2 414.8h0M137.5 414.2h0M137.5 414.4h0M138.4 414.9h0M138.8 414.9h0M139.4 414.2h0M140.1 414.9h0M140.9 414.6h0M141.2 414.4h0M141.9 414.6h0M142.9 414.5h0M142.7 414.8h0M143.6 414.4h0M143.4 414.7h0M111.1 415.4h0M111.4 415.2h0M112.4 415.2h0M112.6 415.6h0M113.4 415.6h0M114.6 415.2h0M114.2 415.7h0M115.8 415.9h0M116.1 415.2h0M117.2 415.7h0M118.8 415.7h0M118.8 415.6h0M119.6 415.1h0M119.8 415.9h0M120.7 415.8h0M121.5 415.4h0M121.9 415.1h0M122.3 415.6h0M122.5 415.6h0M123.3 415.6h0M124.9 415.8h0M124.5 415.9h0M125.1 415.6h0M125.9 415.5h0M126.2 415.1h0M126.4 415.6h0M127.7 415.2h0M127.1 415.5h0M128.8 415.9h0M128.7 415.1h0M129.5 415.1h0M129.2 415.9h0M130.2 415.1h0M131.5 415.4h0M131.8 415.9h0M132.6 415.4h0M132.6 415.4h0M133.6 415.4h0M133.4 415.7h0M134.5 415.5h0M134.2 415.6h0M135.6 415.2h0M135.3 415.9h0M136.9 415.1h0M136.2 415.4h0M137.1 415.7h0M137.4 415.2h0M138.2 415.4h0M138.8 415.6h0M139.8 415.8h0M139.1 415.2h0M140.6 415.3h0M140.8 415.2h0M141.8 415.3h0M142.4 415.4h0M112.2 416.6h0M112.9 416.9h0M113.8 416.6h0M113.6 416.5h0M114.3 416.5h0M114.6 416.4h0M115.3 416.1h0M115.2 416.6h0M116.4 416.1h0M116.5 416.5h0M117.3 416.7h0M117.9 416.9h0M118.4 416.7h0M118.3 416.8h0M119.2 416.1h0M120.4 416.9h0M120.1 416.7h0M121.5 416.2h0M121.8 416.7h0M122.6 416.4h0M123.6 416.9h0M123.4 416.5h0M124.8 416.1h0M124.9 416.4h0M125.4 416.3h0M125.6 416.5h0M126.9 416.7h0M126.7 416.3h0M127.9 416.9h0M128.9 416.5h0M128.1 416.7h0M129.7 416.6h0M129.5 416.7h0M130.8 416.5h0M130.5 416.6h0M131.3 416.1h0M131.9 416.4h0M132.5 416.5h0M132.7 416.3h0M133.5 416.8h0M133.2 416.8h0M134.4 416.5h0M134.2 416.1h0M135.6 416.2h0M135.6 416.1h0M136.6 416.5h0M136.1 416.8h0M137.2 416.5h0M137.2 416.9h0M138.4 416.9h0M138.8 416.1h0M139.7 416.5h0M139.2 416.9h0M140.3 416.5h0M140.5 416.4h0M113.7 417.6h0M113.2 417.4h0M114.6 417.2h0M114.7 417.4h0M115.5 417.9h0M115.4 417.1h0M116.6 417.4h0M117.5 417.3h0M117.6 417.6h0M118.9 417.3h0M119.9 417.9h0M119.3 417.5h0M120.6 417.1h0M121.4 417.7h0M121.1 417.8h0M122.8 417.9h0M123.4 417.9h0M124.4 417.8h0M124.4 417.8h0M125.5 417.8h0M126.8 417.6h0M126.5 417.1h0M127.4 417.2h0M127.5 417.9h0M128.2 417.6h0M128.2 417.9h0M129.4 417.6h0M130.6 417.9h0M130.1 417.4h0M131.9 417.5h0M131.1 417.3h0M132.5 417.8h0M132.1 417.4h0M133.9 417.9h0M133.4 417.3h0M134.5 417.8h0M134.8 417.5h0M135.7 417.4h0M135.4 417.6h0M136.6 417.3h0M136.5 417.2h0M137.3 417.7h0M137.8 417.7h0M114.7 418.3h0M114.3 418.1h0M115.2 418.2h0M115.5 418.7h0M116.3 418.8h0M116.8 418.7h0M117.6 418.6h0M117.4 418.7h0M118.2 418.3h0M118.3 418.5h0M119.8 418.3h0M119.8 418.5h0M120.9 418.3h0M120.6 418.7h0M121.4 418.5h0M121.6 418.4h0M122.8 418.9h0M122.5 418.6h0M123.2 418.3h0M123.7 418.7h0M124.1 418.9h0M124.7 418.6h0M125.8 418.8h0M125.6 418.5h0M126.9 418.7h0M126.3 418.4h0M127.9 418.7h0M128.5 418.4h0M128.6 418.3h0M129.4 418.8h0M129.7 418.7h0M130.2 418.8h0M130.2 418.6h0M131.7 418.5h0M131.4 418.9h0M132.7 418.6h0M132.1 418.1h0M133.2 418.7h0M133.1 418.7h0M134.2 418.7h0M134.5 418.5h0M115.7 419.1h0M115.2 419.8h0M116.2 419.7h0M116.5 419.2h0M117.5 419.8h0M117.1 419.6h0M118.7 419.4h0M119.4 419.9h0M119.6 419.5h0M120.8 419.1h0M121.3 419.2h0M121.9 419.4h0M122.3 419.4h0M123.9 419.8h0M123.5 419.7h0M124.2 419.9h0M125.9 419.8h0M125.4 419.9h0M126.5 419.8h0M127.7 419.3h0M128.9 419.3h0M128.9 419.9h0M129.5 419.7h0M129.5 419.7h0M130.2 419.4h0M130.9 419.9h0M131.9 419.6h0M117.8 420.6h0M117.3 420.4h0M118.8 420.5h0M118.3 420.9h0M119.4 420.4h0M120.6 420.5h0M120.6 420.8h0M121.4 420.3h0M121.1 420.3h0M122.1 420.7h0M122.4 420.3h0M123.2 420.5h0M124.2 420.9h0M125.5 420.3h0M125.8 420.9h0M126.7 420.5h0M127.1 420.6h0M127.1 420.4h0M128.6 420.7h0M128.9 420.1h0M118.7 421.3h0M118.2 421.1h0M119.2 421.8h0M119.1 421.3h0M120.7 421.4h0M120.7 421.1h0M121.8 421.9h0M121.3 421.4h0M122.7 421.4h0M123.9 421.7h0M123.4 421.3h0M124.6 421.9h0M124.2 421.8h0" stroke="#000" stroke-width="1.75" stroke-linecap="round" fill="none"/>
<rect x="34.2" y="262" width="206.8" height="174.3" fill="none" stroke="#000" stroke-width="1.5"/>
<path d="M30 435.8h4.2M31.7 428.98h2.5M31.7 422.16h2.5M31.7 415.34h2.5M31.7 408.52h2.5M30 401.7h4.2M31.7 394.88h2.5M31.7 388.06h2.5M31.7 381.24h2.5M31.7 374.42h2.5M30 367.6h4.2M31.7 360.78h2.5M31.7 353.96h2.5M31.7 347.14h2.5M31.7 340.32h2.5M30 333.5h4.2M31.7 326.68h2.5M31.7 319.86h2.5M31.7 313.04h2.5M31.7 306.22h2.5M30 299.4h4.2M31.7 292.58h2.5M31.7 285.76h2.5M31.7 278.94h2.5M31.7 272.12h2.5M30 265.3h4.2M60.3 436.3v3.6M89.3 436.3v3.6M118.3 436.3v3.6M147.3 436.3v3.6M176.3 436.3v3.6M205.3 436.3v3.6M234.3 436.3v3.6" stroke="#000" stroke-width="1.1" fill="none"/>
<text x="0" y="0" font-size="9" text-anchor="middle" transform="translate(27.2 435.8) rotate(-90) scale(0.8 1)" stroke="#000" stroke-width="0.5">0</text>
<text x="0" y="0" font-size="9" text-anchor="middle" transform="translate(27.2 401.7) rotate(-90) scale(0.8 1)" stroke="#000" stroke-width="0.5">200</text>
<text x="0" y="0" font-size="9" text-anchor="middle" transform="translate(27.2 367.6) rotate(-90) scale(0.8 1)" stroke="#000" stroke-width="0.5">400</text>
<text x="0" y="0" font-size="9" text-anchor="middle" transform="translate(27.2 333.5) rotate(-90) scale(0.8 1)" stroke="#000" stroke-width="0.5">600</text>
<text x="0" y="0" font-size="9" text-anchor="middle" transform="translate(27.2 299.4) rotate(-90) scale(0.8 1)" stroke="#000" stroke-width="0.5">800</text>
<text x="0" y="0" font-size="9" text-anchor="middle" transform="translate(27.2 265.3) rotate(-90) scale(0.8 1)" stroke="#000" stroke-width="0.5">1000</text>
<text x="0" y="0" font-size="9.6" text-anchor="middle" transform="translate(176.6 448.2) scale(0.8 1)" stroke="#000" stroke-width="0.5">200</text>
<text x="39.2" y="283" font-size="16" font-weight="bold" stroke="#000" stroke-width="0.3">S245A</text>
<text x="0" y="0" font-size="12.8" text-anchor="middle" transform="translate(12.2 339) rotate(-90)" stroke="#000" stroke-width="0.4">FL-1</text>
<text x="30.6" y="463.6" font-size="10.8" stroke="#000" stroke-width="0.3">CXCL11</text>
<rect x="30.6" y="464.6" width="40.5" height="1.1" fill="#000"/>
<text x="100.8" y="466.5" font-size="14" stroke="#000" stroke-width="0.3">Time (sec)</text>
<line x1="71.5" y1="450.8" x2="84.07" y2="442.12" stroke="#000" stroke-width="1.3"/>
<path d="M88.6 439L85.55 444.26L82.6 439.98Z" fill="#000"/>
<line x1="127" y1="451.2" x2="141.23" y2="441.66" stroke="#000" stroke-width="1.3"/>
<path d="M145.8 438.6L142.68 443.82L139.78 439.5Z" fill="#000"/>
<g clip-path="none">
<rect x="460" y="201.9" width="53" height="2.4" fill="#f3e7b0"/>
<path d="M321.6 204.5L321.6 202.68L321.6 200.87L321.6 199.05L321.6 197.23L321.6 195.42L321.6 193.6L321.6 191.78L321.6 189.97L321.6 188.15L321.6 186.33L321.6 184.52L321.6 182.7L321.6 180.88L321.6 179.07L321.6 177.25L321.6 175.43L321.6 173.62L321.6 171.8L321.6 169.98L321.6 168.17L321.6 166.35L321.6 164.53L321.6 162.72L321.6 160.9L321.6 159.08L321.6 157.27L321.6 155.45L321.6 153.63L321.6 151.82L321.6 150L321.6 148.18L321.6 146.37L321.6 144.55L321.6 142.73L321.6 140.92L321.6 139.1L321.6 137.28L321.6 135.47L321.6 133.65L321.6 131.83L321.6 130.02L321.6 128.2L321.6 126.38L321.6 124.57L321.6 122.75L321.6 120.93L321.6 119.12L321.6 117.3L321.6 115.48L321.6 113.67L321.6 111.85L321.6 110.03L321.6 108.22L321.6 106.4L321.6 104.58L321.6 102.77L321.6 100.95L321.6 99.13L321.6 97.32L321.6 95.5L321.6 93.68L321.6 91.87L321.6 90.05L321.6 88.23L321.6 86.42L321.6 84.6L322.2 84.6L322.2 86.43L322.2 88.26L322.2 90.09L322.2 91.92L322.2 93.75L322.2 95.58L322.2 97.41L322.2 99.24L322.2 101.07L322.2 102.9L322.2 104.73L322.2 106.56L322.2 108.39L322.2 110.22L322.2 112.05L322.2 113.88L322.2 115.72L322.2 117.55L322.2 119.38L322.2 121.21L322.2 123.04L322.2 124.87L322.2 126.7L322.2 128.53L322.2 130.36L322.2 132.19L322.2 134.02L322.2 135.85L322.2 137.68L322.2 139.51L322.2 141.34L322.2 143.17L322.2 145L324.3 145L324.32 143.08L324.35 141.15L324.37 139.23L324.39 137.31L324.42 135.38L324.44 133.46L324.46 131.54L324.48 129.62L324.51 127.69L324.53 125.77L324.55 123.85L324.58 121.92L324.6 120L324.77 117.23L324.95 119.11L325.12 113.89L325.29 115.08L325.46 110.51L325.64 109.48L325.81 103.51L325.98 106.5L326.15 102.9L326.33 103.76L326.5 100L326.6 95.51L326.7 96.89L326.8 92.5L326.9 93L327 90.13L327.1 88.55L327.2 86.5L327.83 83.32L328.47 84.25L329.1 80.8L329.6 76.51L330.1 75.7L331.4 77L332.3 78.9L333.6 78.3L334.2 80.8L334.53 83.56L334.87 84.94L335.2 87.8L335.46 89.94L335.72 90.57L335.98 94.6L336.24 94.48L336.5 97L336.7 100.17L336.9 99.03L337.1 103.52L337.3 105L337.5 108.5L339.25 109.07L341 110L344.3 111.3L345.9 114.74L347.5 113.5L348 115.74L348.5 118L348.83 122.96L349.17 121.25L349.5 125L349.75 129.52L350 126.37L350.25 133.05L350.5 133L350.88 133.49L351.26 136.91L351.64 136.88L352.02 141.82L352.4 142L353.05 141.57L353.7 146.44L354.35 147.88L355 150L356.25 151.49L357.5 152.7L358.47 153.73L359.43 156.96L360.4 158L361.05 159.27L361.7 163.87L362.35 160.98L363 164.8L366 166L367.25 168.31L368.5 168.8L368.76 170.01L369.02 175.06L369.28 170.73L369.54 179.36L369.8 178.3L371.6 179.28L373.4 180.99L375.2 182.3L376.8 180.15L378.4 187.06L380 186L381.74 184.37L383.48 188.02L385.22 187.96L386.96 189.61L388.7 190.2L390.42 189.1L392.14 192.57L393.86 191.66L395.58 194.2L397.3 193.7L399.03 191.38L400.77 197.01L402.5 195.4L403.8 194.85L405.1 199.08L406.4 199.28L407.7 200.6L409.52 200.91L411.35 200.53L413.18 201.42L415 200.5L417 200.31L419 200.82L421 200.69L423 201.02L425 201L427.33 201.2L429.67 201.81L432 202L434 202.25L436 202.5L438 202.75L440 203L442.5 203.75L445 204.5Z" fill="#4410f0" stroke="none"/>
<path d="M321.6 204.5L321.6 202.68L321.6 200.87L321.6 199.05L321.6 197.23L321.6 195.42L321.6 193.6L321.6 191.78L321.6 189.97L321.6 188.15L321.6 186.33L321.6 184.52L321.6 182.7L321.6 180.88L321.6 179.07L321.6 177.25L321.6 175.43L321.6 173.62L321.6 171.8L321.6 169.98L321.6 168.17L321.6 166.35L321.6 164.53L321.6 162.72L321.6 160.9L321.6 159.08L321.6 157.27L321.6 155.45L321.6 153.63L321.6 151.82L321.6 150L321.6 148.18L321.6 146.37L321.6 144.55L321.6 142.73L321.6 140.92L321.6 139.1L321.6 137.28L321.6 135.47L321.6 133.65L321.6 131.83L321.6 130.02L321.6 128.2L321.6 126.38L321.6 124.57L321.6 122.75L321.6 120.93L321.6 119.12L321.6 117.3L321.6 115.48L321.6 113.67L321.6 111.85L321.6 110.03L321.6 108.22L321.6 106.4L321.6 104.58L321.6 102.77L321.6 100.95L321.6 99.13L321.6 97.32L321.6 95.5L321.6 93.68L321.6 91.87L321.6 90.05L321.6 88.23L321.6 86.42L321.6 84.6L322.2 84.6L322.2 86.43L322.2 88.26L322.2 90.09L322.2 91.92L322.2 93.75L322.2 95.58L322.2 97.41L322.2 99.24L322.2 101.07L322.2 102.9L322.2 104.73L322.2 106.56L322.2 108.39L322.2 110.22L322.2 112.05L322.2 113.88L322.2 115.72L322.2 117.55L322.2 119.38L322.2 121.21L322.2 123.04L322.2 124.87L322.2 126.7L322.2 128.53L322.2 130.36L322.2 132.19L322.2 134.02L322.2 135.85L322.2 137.68L322.2 139.51L322.2 141.34L322.2 143.17L322.2 145L324.3 145L324.32 143.08L324.35 141.15L324.37 139.23L324.39 137.31L324.42 135.38L324.44 133.46L324.46 131.54L324.48 129.62L324.51 127.69L324.53 125.77L324.55 123.85L324.58 121.92L324.6 120L324.77 117.23L324.95 119.11L325.12 113.89L325.29 115.08L325.46 110.51L325.64 109.48L325.81 103.51L325.98 106.5L326.15 102.9L326.33 103.76L326.5 100L326.6 95.51L326.7 96.89L326.8 92.5L326.9 93L327 90.13L327.1 88.55L327.2 86.5L327.83 83.32L328.47 84.25L329.1 80.8L329.6 76.51L330.1 75.7L331.4 77L332.3 78.9L333.6 78.3L334.2 80.8L334.53 83.56L334.87 84.94L335.2 87.8L335.46 89.94L335.72 90.57L335.98 94.6L336.24 94.48L336.5 97L336.7 100.17L336.9 99.03L337.1 103.52L337.3 105L337.5 108.5L339.25 109.07L341 110L344.3 111.3L345.9 114.74L347.5 113.5L348 115.74L348.5 118L348.83 122.96L349.17 121.25L349.5 125L349.75 129.52L350 126.37L350.25 133.05L350.5 133L350.88 133.49L351.26 136.91L351.64 136.88L352.02 141.82L352.4 142L353.05 141.57L353.7 146.44L354.35 147.88L355 150L356.25 151.49L357.5 152.7L358.47 153.73L359.43 156.96L360.4 158L361.05 159.27L361.7 163.87L362.35 160.98L363 164.8L366 166L367.25 168.31L368.5 168.8L368.76 170.01L369.02 175.06L369.28 170.73L369.54 179.36L369.8 178.3L371.6 179.28L373.4 180.99L375.2 182.3L376.8 180.15L378.4 187.06L380 186L381.74 184.37L383.48 188.02L385.22 187.96L386.96 189.61L388.7 190.2L390.42 189.1L392.14 192.57L393.86 191.66L395.58 194.2L397.3 193.7L399.03 191.38L400.77 197.01L402.5 195.4L403.8 194.85L405.1 199.08L406.4 199.28L407.7 200.6L409.52 200.91L411.35 200.53L413.18 201.42L415 200.5L417 200.31L419 200.82L421 200.69L423 201.02L425 201L427.33 201.2L429.67 201.81L432 202L434 202.25L436 202.5L438 202.75L440 203L442.5 203.75L445 204.5" fill="none" stroke="#000" stroke-width="1.6" stroke-linejoin="miter"/>
<path d="M321.5 204.5L321.5 202.67L321.5 200.83L321.5 199L321.5 197.17L321.5 195.33L321.5 193.5L321.5 191.67L321.5 189.83L321.5 188L321.5 186.17L321.5 184.33L321.5 182.5L321.5 180.67L321.5 178.83L321.5 177L321.5 175.17L321.5 173.33L321.5 171.5L321.5 169.67L321.5 167.83L321.5 166L321.5 164.17L321.5 162.33L321.5 160.5L321.5 158.67L321.5 156.83L321.5 155L321.5 153.17L321.5 151.33L321.5 149.5L321.5 147.67L321.5 145.83L321.5 144L321.83 141.99L322.17 150.18L322.5 150L322.63 147.07L322.76 154.4L322.89 155.11L323.02 158.96L323.16 158.99L323.29 161.93L323.42 161.94L323.55 167.46L323.68 166.94L323.81 169.16L323.94 167L324.08 174.35L324.21 173.88L324.34 180.94L324.47 176.4L324.6 180.3L324.76 178.32L324.92 175.07L325.08 175.27L325.24 171.4L325.4 169.8L325.62 168.63L325.84 164.54L326.06 163.75L326.28 159.19L326.5 159.7L326.71 157.92L326.91 154.42L327.12 155.82L327.33 151.17L327.54 152.28L327.74 145.58L327.95 146.89L328.16 143.87L328.36 143.26L328.57 139.66L328.78 140.57L328.99 133.87L329.19 135.98L329.4 133L329.65 130.66L329.91 129.58L330.16 126.85L330.42 125.82L330.67 123.28L330.93 122.06L331.18 119.52L331.44 119.39L331.69 114.47L331.95 114.79L332.2 112L332.52 109.09L332.83 110.95L333.15 105.46L333.47 106.86L333.78 102.07L334.1 100.5L334.6 98.65L335.1 96.7L337 94.8L338.9 92L340.8 93.9L342.7 96.7L344.6 98.6L346.5 99.6L347.45 101.41L348.4 103.4L349.4 107.62L350.4 108.2L350.95 109.47L351.5 112L352.3 116.69L353.1 116.7L354 119L354.22 120.67L354.44 125.24L354.66 124.15L354.88 127.44L355.1 129L355.8 129.57L356.5 133.42L357.2 134.83L357.9 137.3L358.83 141L359.77 139.85L360.7 142.9L361.37 145.02L362.03 145.13L362.7 148.4L364.85 151.54L367 150L368.38 150.78L369.75 152.82L371.12 153.86L372.5 155.4L373.5 159.14L374.5 157.11L375.5 161.08L376.5 162.1L378.25 162.67L380 166L381.04 167.77L382.08 169.07L383.12 173.89L384.16 170.8L385.2 174.6L386.5 176.23L387.8 176.28L389.1 180.08L390.4 179.8L392.12 180.9L393.85 183.01L395.57 181.86L397.3 185L399.04 188.03L400.78 185.77L402.52 190.07L404.26 187.57L406 190.2L407.72 192.53L409.44 191.05L411.16 193.79L412.88 193.05L414.6 195.4L416.34 197.2L418.08 196.15L419.82 197.7L421.56 198.14L423.3 198.9L425.48 200.1L427.65 199.55L429.82 200.64L432 200.6L433.97 200.39L435.94 201.06L437.91 200.02L439.89 201.57L441.86 200.49L443.83 202.3L445.8 201.9L447.73 201.47L449.65 202.4L451.57 202.65L453.5 202.9L455.42 203L457.33 203.1L459.25 203.2L461.17 203.3L463.08 203.4L465 203.5L466.88 203.56L468.75 203.62L470.62 203.69L472.5 203.75L474.38 203.81L476.25 203.88L478.12 203.94L480 204L481.82 204.05L483.64 204.09L485.45 204.14L487.27 204.18L489.09 204.23L490.91 204.27L492.73 204.32L494.55 204.36L496.36 204.41L498.18 204.45L500 204.5" fill="none" stroke="#ee14e6" stroke-width="2.4" stroke-linejoin="miter"/>
<path d="M321.5 204.5L321.5 202.66L321.5 200.81L321.5 198.97L321.5 197.12L321.5 195.28L321.5 193.44L321.5 191.59L321.5 189.75L321.5 187.91L321.5 186.06L321.5 184.22L321.5 182.38L321.5 180.53L321.5 178.69L321.5 176.84L321.5 175L321.82 174.48L322.15 180.42L322.48 180.12L322.8 182.97L323.12 181.89L323.45 186.06L323.78 186.88L324.1 189.5L324.62 188.11L325.14 183.64L325.66 184.86L326.18 180.76L326.7 180.3L327.26 178.53L327.82 176.06L328.38 175.09L328.94 171.7L329.5 170L330 170.77L330.5 165.43L331 167.75L331.5 161.27L332 160L332.4 160.45L332.8 155.59L333.2 157.37L333.6 150.99L334 150L334.45 149.42L334.9 144.04L335.35 144.19L335.8 142L336.4 138.57L337 136.8L337.76 137.26L338.52 130.3L339.28 131.39L340.04 129.08L340.8 127.3L342.07 126.12L343.33 119.53L344.6 121.5L346.05 121.5L347.5 117.7L349.4 115.06L351.3 114.8L351.67 116.98L352.03 117.17L352.4 120.8L352.87 124.64L353.33 124.29L353.8 126.3L354.47 130.71L355.13 127.67L355.8 133.2L357.55 135.14L359.3 130.5L360.65 127.87L362 126.3L363.05 129.29L364.1 130.5L364.52 131.79L364.94 135.69L365.36 134.81L365.78 140.16L366.2 140.1L367.1 140.75L368 144.34L368.9 145.6L370.3 144.95L371.7 149.7L372.4 152.12L373.1 151.4L373.8 155.5L374.5 155.63L375.2 158L377.6 160.06L380 159L381.24 159.43L382.49 163.22L383.73 162.29L384.97 168.82L386.21 166.18L387.46 170.38L388.7 169.5L390.85 168.38L393 171L395.15 169.33L397.3 172L398.75 173.84L400.2 171.99L401.65 176.36L403.1 177.16L404.55 179.8L406 179.8L407.43 178.87L408.87 184.35L410.3 181.11L411.73 184.94L413.17 184.94L414.6 186.8L416.7 187.86L418.8 185.6L420.35 185.93L421.9 189.49L423.45 188.08L425 192L426.75 193.47L428.5 192.22L430.25 194.57L432 193.7L434.15 193.11L436.3 194.98L438.45 193.94L440.6 195.4L442.7 197.09L444.8 196.2L446.9 198.04L449 198L450.78 197.54L452.56 198.94L454.34 198.79L456.12 200.13L457.9 200L460.27 200.26L462.63 201.24L465 201L466.93 201.1L468.85 202.47L470.77 202.43L472.7 202.9L474.62 202.97L476.54 203.03L478.47 203.1L480.39 203.17L482.31 203.23L484.23 203.3L486.16 203.37L488.08 203.43L490 203.5L491.82 203.55L493.64 203.59L495.45 203.64L497.27 203.68L499.09 203.73L500.91 203.77L502.73 203.82L504.55 203.86L506.36 203.91L508.18 203.95L510 204" fill="none" stroke="#1f6ad8" stroke-width="2.4" stroke-linejoin="miter"/>
<path d="M321.5 204.5L321.5 202.65L321.5 200.8L321.5 198.95L321.5 197.1L321.5 195.25L321.5 193.4L321.5 191.55L321.5 189.7L321.5 187.85L321.5 186L322.24 185.48L322.98 191.63L323.72 190.95L324.46 195.59L325.2 194.6L327.2 192.6L327.6 189.91L328 189.59L328.4 184.54L328.8 188.08L329.2 183.4L330.07 178.9L330.93 180.91L331.8 178.3L332.18 174.3L332.55 175.66L332.93 170.79L333.3 170.2L333.4 168.75L333.5 164.92L333.6 166.54L333.7 159.99L333.8 160L334.53 159.63L335.27 155.11L336 153.9L336.67 152.47L337.33 148.96L338 147L338.73 146.46L339.47 141.94L340.2 141.2L340.52 140.9L340.85 137.44L341.18 139.52L341.5 132.71L341.82 135.11L342.15 127.45L342.48 129.08L342.8 126.7L344.1 123.6L345.2 123.8L346.75 119.77L348.3 119.4L349.1 119L351.5 120.81L353.9 117.1L354.87 115.3L355.83 114.83L356.8 112.3L358.7 112.3L359.33 113.84L359.97 117.17L360.6 118.1L362.7 120.8L363.5 121.9L364 122.64L364.5 126.14L365 127.22L365.5 129.1L366 131.93L366.5 130.36L367 137.33L367.5 137.3L368.43 137.85L369.37 142.93L370.3 142.9L372 143.9L373.7 145.6L374.75 148.5L375.8 149.7L376.15 150.07L376.5 154L378.25 156.05L380 156.5L381.75 154.79L383.5 159L384.8 161.58L386.1 161.74L387.4 164.51L388.7 166L390.13 165.21L391.57 168.49L393 167.39L394.43 173.06L395.87 170.12L397.3 173L398.75 176.52L400.2 174.74L401.65 177.18L403.1 177.41L404.55 178.82L406 179.8L407.43 179.32L408.87 182.2L410.3 182.43L411.73 185.89L413.17 184.6L414.6 186.8L416.34 189.35L418.08 188.61L419.82 192.85L421.56 188.69L423.3 192L425.48 194.71L427.65 192.72L429.82 194.6L432 193.7L434.15 192.79L436.3 195.53L438.45 193.57L440.6 195.4L442.32 197.02L444.04 195.21L445.76 197.68L447.48 197.36L449.2 198.9L451.38 199.54L453.55 198.83L455.72 200.21L457.9 200.6L459.7 199.39L461.5 200.53L463.3 198.83L465.1 199.41L466.9 199L468.83 199.91L470.77 201.15L472.7 201.9L474.62 201.54L476.54 201.92L478.45 201.41L480.37 201.95L482.29 200.97L484.21 201.5L486.13 200.52L488.05 202.19L489.96 200.02L491.88 201.4L493.8 201L495.87 201.4L497.93 202.33L500 203L502 203.2L504 203.4L506 203.6L508 203.8L510 204" fill="none" stroke="#1aae28" stroke-width="2.4" stroke-linejoin="miter"/>
<path d="M321.5 204.5L321.5 202.69L321.5 200.88L321.5 199.06L321.5 197.25L321.5 195.44L321.5 193.62L321.5 191.81L321.5 190L322.34 189.65L323.18 194.66L324.02 194.04L324.86 197.52L325.7 198.7L327.2 197.6L328.2 194.47L329.2 193.6L329.9 192.66L330.6 187.75L331.3 187.5L331.68 186.14L332.05 183.51L332.43 185.24L332.8 180.3L334.55 178.5L336.3 177.3L337.35 176.28L338.4 173.2L338.65 170.14L338.9 172.42L339.15 166.14L339.4 165.1L340.07 166.11L340.73 160.19L341.4 160L341.77 158.07L342.15 154.65L342.52 155.77L342.9 151.8L343.2 147.84L343.5 150.4L343.8 142.22L344.1 142.9L344.57 142.85L345.03 138.5L345.5 141.27L345.97 135.34L346.43 135.96L346.9 131.8L348.03 129.25L349.17 128.28L350.3 126.3L351.47 121.2L352.63 125.06L353.8 120.8L355.85 118.98L357.9 118L359.03 118.62L360.17 113.55L361.3 113.2L362.7 114.93L364.1 116L365.7 112.89L367.3 114.2L368.2 114.6L369.2 117.21L370.2 118.1L370.6 119.29L371 122.2L373.1 125L373.77 128.34L374.43 127.35L375.1 130.5L376.85 134.65L378.6 133.2L379.6 132.61L380.6 136.97L381.6 138.26L382.6 140L383.32 142.32L384.03 143.02L384.75 148.28L385.47 143.66L386.18 151.58L386.9 150.4L387.77 150.73L388.65 154.27L389.52 153.37L390.4 157.3L392.7 158.12L395 157.26L397.3 159L398.6 162.55L399.9 162.36L401.2 167.3L402.5 166L404.53 165.2L406.57 167.53L408.6 166L410.03 167.19L411.47 172.87L412.9 171.2L413.55 170.29L414.2 175.74L414.85 177.6L415.5 179.8L417.45 180.88L419.4 180.05L421.35 182.01L423.3 181.6L425 182.97L426.7 185L428.47 187.1L430.23 186.1L432 186.8L434.27 187.77L436.53 187.39L438.8 188.5L440.55 189.87L442.3 187.14L444.05 193.53L445.8 190.2L446.93 191.59L448.07 193.78L449.2 195.4L450.95 194.81L452.7 196.57L454.45 196.51L456.2 197.2L458.5 199.24L460.8 197.96L463.1 198.9L465.4 199.59L467.7 199.96L470 200.6L472.08 200.45L474.16 199.83L476.24 200.21L478.32 198.21L480.4 199L482.3 200.57L484.2 201L486.13 200.59L488.07 200.9L490 200.4L491.93 200.76L493.87 201.63L495.8 202L497.7 202.45L499.6 202.9L501.4 203.43L503.2 203.97L505 204.5" fill="none" stroke="#f5a634" stroke-width="2.4" stroke-linejoin="miter"/>

</g>
<rect x="321.2" y="37.3" width="192.1" height="167.5" fill="none" stroke="#222" stroke-width="1.5"/>
<path d="M316.2 203.7h5M318.8 198.16h2.4M318.8 192.62h2.4M318.8 187.08h2.4M318.8 181.54h2.4M316.2 176h5M318.8 170.46h2.4M318.8 164.92h2.4M318.8 159.38h2.4M318.8 153.84h2.4M316.2 148.3h5M318.8 142.76h2.4M318.8 137.22h2.4M318.8 131.68h2.4M318.8 126.14h2.4M316.2 120.6h5M318.8 115.06h2.4M318.8 109.52h2.4M318.8 103.98h2.4M318.8 98.44h2.4M316.2 92.9h5M318.8 87.36h2.4M318.8 81.82h2.4M318.8 76.28h2.4M318.8 70.74h2.4M316.2 65.2h5M318.8 59.66h2.4M318.8 54.12h2.4M318.8 48.58h2.4M318.8 43.04h2.4M316.2 37.5h5M321.4 204.8v3.2M334.02 204.8v3.2M346.64 204.8v3.2M359.26 204.8v3.2M371.88 204.8v3.2M384.5 204.8v3.2M397.12 204.8v3.2M409.74 204.8v3.2M422.36 204.8v3.2M434.98 204.8v3.2M447.6 204.8v3.2M460.22 204.8v3.2M472.84 204.8v3.2M485.46 204.8v3.2M498.08 204.8v3.2M510.7 204.8v3.2" stroke="#000" stroke-width="1.3" fill="none"/>
<text x="0" y="0" font-size="9" text-anchor="middle" transform="translate(316 203.7) rotate(-90) scale(0.8 1)" stroke="#000" stroke-width="0.5">0</text>
<text x="0" y="0" font-size="9" text-anchor="middle" transform="translate(316 176) rotate(-90) scale(0.8 1)" stroke="#000" stroke-width="0.5">10</text>
<text x="0" y="0" font-size="9" text-anchor="middle" transform="translate(316 148.3) rotate(-90) scale(0.8 1)" stroke="#000" stroke-width="0.5">20</text>
<text x="0" y="0" font-size="9" text-anchor="middle" transform="translate(316 120.6) rotate(-90) scale(0.8 1)" stroke="#000" stroke-width="0.5">30</text>
<text x="0" y="0" font-size="9" text-anchor="middle" transform="translate(316 92.9) rotate(-90) scale(0.8 1)" stroke="#000" stroke-width="0.5">40</text>
<text x="0" y="0" font-size="9" text-anchor="middle" transform="translate(316 65.2) rotate(-90) scale(0.8 1)" stroke="#000" stroke-width="0.5">50</text>
<text x="0" y="0" font-size="9" text-anchor="middle" transform="translate(316 37.5) rotate(-90) scale(0.8 1)" stroke="#000" stroke-width="0.5">60</text>
<text x="0" y="0" font-size="9.6" text-anchor="middle" transform="translate(321.4 216) scale(0.8 1)" stroke="#000" stroke-width="0.5">0</text>
<text x="0" y="0" font-size="9.6" text-anchor="middle" transform="translate(384.5 216) scale(0.8 1)" stroke="#000" stroke-width="0.5">200</text>
<text x="0" y="0" font-size="9.6" text-anchor="middle" transform="translate(447.6 216) scale(0.8 1)" stroke="#000" stroke-width="0.5">400</text>
<text x="0" y="0" font-size="9.6" text-anchor="middle" transform="translate(510.7 216) scale(0.8 1)" stroke="#000" stroke-width="0.5">600</text>
<text x="331.3" y="59.2" font-size="16" font-weight="bold" stroke="#000" stroke-width="0.3">WT</text>
<text x="0" y="0" font-size="14" text-anchor="middle" transform="translate(291 116) rotate(-90)" stroke="#000" stroke-width="0.35">Counts</text>
<text x="0" y="0" font-size="14.5" transform="translate(397 244) scale(0.92 1)" stroke="#000" stroke-width="0.3">FL-1</text>
<g clip-path="none">
<rect x="440" y="427.3" width="73" height="1.7" fill="#e6d68c"/>
<path d="M318.8 430L318.8 428.08L318.8 426.15L318.8 424.23L318.8 422.31L318.8 420.38L318.8 418.46L318.8 416.54L318.8 414.62L318.8 412.69L318.8 410.77L318.8 408.85L318.8 406.92L318.8 405L321.2 405L321.4 402.55L321.6 403.73L321.8 398.48L322 398.27L322.2 396L322.4 393.75L322.6 393.02L322.8 389.4L323 388.5L323.23 387.22L323.46 384.63L323.69 384.89L323.91 379L324.14 378.97L324.37 375.91L324.6 375L324.66 373.14L324.71 371.29L324.77 369.43L324.83 367.57L324.89 365.71L324.94 363.86L325 362L325.22 363.32L325.44 356.48L325.67 357.94L325.89 353.03L326.11 353.8L326.33 349.41L326.56 350.45L326.78 345.69L327 345L327.25 344.85L327.5 339.82L327.75 341.46L328 335.66L328.25 337.2L328.5 333.69L328.75 332.2L329 330L329.22 328.09L329.44 327.63L329.67 323.14L329.89 322.9L330.11 319.4L330.33 320.6L330.56 315.9L330.78 315.31L331 313L332 309.12L333 309L334 309.3L335 305L335.75 300.74L336.5 301L336.87 303.32L337.23 303.85L337.6 307L338.07 309.46L338.53 309.61L339 314L339.33 318.39L339.67 317.71L340 320.41L340.33 320.06L340.67 324.58L341 326L341.58 326.61L342.17 330.36L342.75 328.02L343.33 334.17L343.92 335.01L344.5 337L345.12 339.49L345.75 339.59L346.38 342.79L347 344L348 344.2L349 349.93L350 349L351.67 348.08L353.33 353.56L355 354L355.65 355.64L356.3 358.28L356.95 356.79L357.6 362.26L358.25 361.88L358.9 365.2L359.75 367.17L360.6 367.23L361.45 371.6L362.3 369.8L363.15 374.96L364 375.4L365 376.31L366 380.38L367 378.05L368 382.59L369 384.3L369.85 385.4L370.7 391.33L371.55 388.89L372.4 391.11L373.25 390.67L374.1 394.5L375.12 397.12L376.14 395.04L377.16 400.14L378.18 400.91L379.2 403.4L380.47 405.73L381.73 404.74L383 408.5L384.7 411.89L386.4 408.22L388.1 411.38L389.8 411.7L391.47 411.82L393.13 414.7L394.8 413.54L396.47 416.79L398.13 414.98L399.8 417.7L401.2 420.34L402.6 419.27L404 423.67L405.4 423.6L407.2 424.41L409 425.8L410.8 426.3L412.71 426.26L414.63 427.38L416.54 427.15L418.46 428.11L420.37 427.58L422.29 428.29L424.2 428.4L426.18 428.54L428.15 428.67L430.12 428.81L432.1 428.95L434.07 429.09L436.05 429.23L438.02 429.36L440 429.5Z" fill="#4410f0" stroke="none"/>
<path d="M318.8 430L318.8 428.08L318.8 426.15L318.8 424.23L318.8 422.31L318.8 420.38L318.8 418.46L318.8 416.54L318.8 414.62L318.8 412.69L318.8 410.77L318.8 408.85L318.8 406.92L318.8 405L321.2 405L321.4 402.55L321.6 403.73L321.8 398.48L322 398.27L322.2 396L322.4 393.75L322.6 393.02L322.8 389.4L323 388.5L323.23 387.22L323.46 384.63L323.69 384.89L323.91 379L324.14 378.97L324.37 375.91L324.6 375L324.66 373.14L324.71 371.29L324.77 369.43L324.83 367.57L324.89 365.71L324.94 363.86L325 362L325.22 363.32L325.44 356.48L325.67 357.94L325.89 353.03L326.11 353.8L326.33 349.41L326.56 350.45L326.78 345.69L327 345L327.25 344.85L327.5 339.82L327.75 341.46L328 335.66L328.25 337.2L328.5 333.69L328.75 332.2L329 330L329.22 328.09L329.44 327.63L329.67 323.14L329.89 322.9L330.11 319.4L330.33 320.6L330.56 315.9L330.78 315.31L331 313L332 309.12L333 309L334 309.3L335 305L335.75 300.74L336.5 301L336.87 303.32L337.23 303.85L337.6 307L338.07 309.46L338.53 309.61L339 314L339.33 318.39L339.67 317.71L340 320.41L340.33 320.06L340.67 324.58L341 326L341.58 326.61L342.17 330.36L342.75 328.02L343.33 334.17L343.92 335.01L344.5 337L345.12 339.49L345.75 339.59L346.38 342.79L347 344L348 344.2L349 349.93L350 349L351.67 348.08L353.33 353.56L355 354L355.65 355.64L356.3 358.28L356.95 356.79L357.6 362.26L358.25 361.88L358.9 365.2L359.75 367.17L360.6 367.23L361.45 371.6L362.3 369.8L363.15 374.96L364 375.4L365 376.31L366 380.38L367 378.05L368 382.59L369 384.3L369.85 385.4L370.7 391.33L371.55 388.89L372.4 391.11L373.25 390.67L374.1 394.5L375.12 397.12L376.14 395.04L377.16 400.14L378.18 400.91L379.2 403.4L380.47 405.73L381.73 404.74L383 408.5L384.7 411.89L386.4 408.22L388.1 411.38L389.8 411.7L391.47 411.82L393.13 414.7L394.8 413.54L396.47 416.79L398.13 414.98L399.8 417.7L401.2 420.34L402.6 419.27L404 423.67L405.4 423.6L407.2 424.41L409 425.8L410.8 426.3L412.71 426.26L414.63 427.38L416.54 427.15L418.46 428.11L420.37 427.58L422.29 428.29L424.2 428.4L426.18 428.54L428.15 428.67L430.12 428.81L432.1 428.95L434.07 429.09L436.05 429.23L438.02 429.36L440 429.5" fill="none" stroke="#000" stroke-width="1.6" stroke-linejoin="miter"/>
<path d="M318.8 430L318.84 427.63L318.87 427.52L318.91 424.31L318.95 423.13L318.98 420.52L319.02 421.08L319.05 417.16L319.09 415.62L319.13 411.77L319.16 412.64L319.2 409.02L319.24 408.23L319.27 406.17L319.31 405.6L319.35 401.69L319.38 402.63L319.42 399.07L319.45 398.61L319.49 393.91L319.53 394.57L319.56 390.13L319.6 390L320.8 390.38L322 386L325 385L325.12 382.08L325.24 382.31L325.36 378.87L325.49 379.08L325.61 375.31L325.73 374.47L325.85 371.86L325.97 372.24L326.09 363.94L326.21 368.4L326.34 364.19L326.46 364.8L326.58 361.38L326.7 359.7L326.75 358.85L326.8 355.87L326.85 354.5L326.9 351.34L326.95 351.86L327 348.27L327.05 347.54L327.1 344.09L327.15 344.4L327.2 339.7L327.25 340.16L327.3 338.1L327.49 335.49L327.67 336.5L327.86 330.99L328.04 332.06L328.23 328.62L328.41 328.59L328.6 325.4L329.9 325.6L330 322.77L330.1 324.68L330.2 319.11L330.3 318.59L330.4 314.47L330.5 314L331.6 312.9L332.45 312.13L333.3 309.5L335 307.8L337.1 306.9L337.53 308.16L337.97 312.61L338.4 313.7L338.5 315.82L338.6 317.95L338.7 320.07L338.8 322.2L340.13 320.86L341.47 326.96L342.8 327L343.23 327.45L343.65 331.39L344.07 330.75L344.5 335.4L344.88 338.06L345.27 339.7L346.49 339.9L347.7 344L348.9 348.49L350.1 346.82L351.3 350L352.6 352.65L353.9 353.92L355.2 356L356.4 360.41L357.6 357.77L358.8 361.38L360 362.38L361.2 364L362.7 369.23L364.2 365.03L365.7 370.32L367.2 370L368.53 370.94L369.87 375.5L371.2 374L372.45 373.83L373.7 377L375.9 375.4L376.4 377.65L376.9 378.5L377.4 381L378.17 384.67L378.93 383.05L379.7 386.8L380.6 389.54L381.5 388.37L382.4 392.44L383.3 393.99L384.2 396L385.6 398.97L387 398.07L388.4 401.76L389.8 401.72L391.2 404L392.8 406.94L394.4 405.99L396 408.89L397.6 408.38L399.2 410L400.71 411.84L402.23 412.19L403.74 414.3L405.26 413.85L406.77 416.19L408.29 415.08L409.8 418L411.5 420.08L413.2 419.25L414.9 420.63L416.6 420.58L418.3 424.64L420 423L421.83 422.17L423.67 423.79L425.5 421.43L427.33 422.8L429.17 420.63L431 422.3L432.8 423.46L434.6 423.76L436.4 425.48L438.2 424.38L440 426L442 426.85L444 426.4L446 427.35L448 427.57L450 428L452.5 428.12L455 428L456.75 426.12L458.5 425.7L460.25 428.07L462 429.5" fill="none" stroke="#ee14e6" stroke-width="2.4" stroke-linejoin="miter"/>
<path d="M318.8 430L318.8 428.18L318.8 426.37L318.8 424.55L318.8 422.74L318.8 420.92L318.8 419.1L318.8 417.29L318.8 415.47L318.8 413.65L318.8 411.84L318.8 410.02L318.8 408.21L318.8 406.39L318.8 404.57L318.8 402.76L318.8 400.94L318.8 399.12L318.8 397.31L318.8 395.49L318.8 393.68L318.8 391.86L318.8 390.04L318.8 388.23L318.8 386.41L318.8 384.6L318.8 382.78L318.8 380.96L318.8 379.15L318.8 377.33L318.8 375.51L318.8 373.7L318.8 371.88L318.8 370.07L318.8 368.25L318.8 366.43L318.8 364.62L318.8 362.8L318.8 360.99L318.8 359.17L318.8 357.35L318.8 355.54L318.8 353.72L318.8 351.9L318.8 350.09L318.8 348.27L318.8 346.46L318.8 344.64L318.8 342.82L318.8 341.01L318.8 339.19L318.8 337.38L318.8 335.56L318.8 333.74L318.8 331.93L318.8 330.11L318.8 328.29L318.8 326.48L318.8 324.66L318.8 322.85L318.8 321.03L318.8 319.21L318.8 317.4L318.8 315.58L318.8 313.76L318.8 311.95L318.8 310.13L318.8 308.32L318.8 306.5L319.8 306.5L319.83 307.54L319.86 311.52L319.89 310.01L319.92 316.6L319.95 315.23L319.98 318.37L320.02 318.24L320.05 326.27L320.08 322.11L320.11 327.92L320.14 325.44L320.17 331L320.2 329.37L320.23 333.49L320.26 334.3L320.29 336.93L320.32 337.13L320.35 341.45L320.38 340.79L320.42 343.93L320.45 340.85L320.48 348.95L320.51 347.57L320.54 355.2L320.57 350.84L320.6 355L320.69 358.53L320.79 357.37L320.88 364.19L320.98 361.46L321.07 364.85L321.17 364.97L321.26 370.19L321.36 369.26L321.45 374.05L321.54 373.25L321.64 376.22L321.73 375.13L321.83 379.83L321.92 379.45L322.02 382.67L322.11 383.44L322.21 386.54L322.3 388L322.34 385.4L322.38 384.41L322.42 382.12L322.46 382.73L322.5 375.98L322.54 378.34L322.58 374.14L322.62 373.74L322.66 370.55L322.7 370.04L322.74 366.12L322.78 367.57L322.82 361.26L322.86 362.35L322.9 359.7L323 357.59L323.1 356.98L323.2 353.01L323.3 353.82L323.4 347.12L323.5 348.3L323.58 346.72L323.66 340.6L323.73 345.24L323.81 339.02L323.89 340.67L323.97 336.52L324.04 335.91L324.12 329.64L324.2 331.8L324.4 330.16L324.6 325.46L324.8 326.29L325 323.1L325.2 322.99L325.4 320.3L325.66 313.97L325.92 317L326.18 314.09L326.44 316.53L326.7 310.2L327.4 307L327.8 303.59L328.2 303.78L328.6 300L328.79 297.63L328.97 296.88L329.16 293.19L329.34 293.33L329.53 287.7L329.71 290.65L329.9 287.4L331 285.3L332.5 285.8L333.6 285.3L335.2 285.3L336.2 286.4L336.5 288.52L336.8 291.7L337.13 296.24L337.47 295.26L337.8 298L338.3 303.06L338.8 301.49L339.3 304.4L340.13 303.18L340.97 299.15L341.8 299.3L342.1 299L343.5 300.2L343.57 302.03L343.63 303.87L343.7 305.7L343.77 307.53L343.83 309.37L343.9 311.2L344.02 314.76L344.14 314.85L344.26 318.21L344.38 316.73L344.5 321L344.89 326.1L345.27 324.74L345.66 330.64L346.05 329.5L346.55 327.5L347.04 333.83L347.54 335.4L348.28 337.79L349.03 340.5L349.77 344.51L350.51 345.6L351.75 347.66L353 350L354.2 354.08L355.4 352.21L356.6 355L357.55 357.41L358.5 357.71L359.45 363.93L360.4 362.7L361.13 364.1L361.86 368.83L362.59 365.2L363.31 371L364.04 371.31L364.77 375.5L365.5 375.4L366.35 376.22L367.2 379.39L368.05 378.4L368.9 384.41L369.75 383.78L370.6 385.6L371.45 388.09L372.3 387.6L373.15 392.43L374 392.18L374.85 396.03L375.7 397L376.72 395.01L377.74 400.48L378.76 400.35L379.78 403.83L380.8 404.6L382.4 404.78L384 407.79L385.6 407.35L387.2 410.3L388.8 410L390.47 408.42L392.13 413.59L393.8 411.33L395.47 415.88L397.13 414.57L398.8 416.5L400.61 420.71L402.42 417.44L404.23 419.66L406.04 418.9L407.91 417.71L409.77 421.58L411.63 420.86L413.5 422.3L415.5 421.29L417.5 418.9L418.85 417.63L420.2 422.08L421.55 422.47L422.9 424.3L424.92 425.66L426.95 425.31L428.98 426.92L431 427L432.8 426.77L434.6 427.76L436.4 427.8L438.2 428.3L440 428.5L442 428.7L444 428.9L446 429.1L448 429.3L450 429.5" fill="none" stroke="#1f6ad8" stroke-width="2.4" stroke-linejoin="miter"/>
<path d="M318.8 430L318.8 428.16L318.8 426.32L318.8 424.47L318.8 422.63L318.8 420.79L318.8 418.95L318.8 417.11L318.8 415.26L318.8 413.42L318.8 411.58L318.8 409.74L318.8 407.89L318.8 406.05L318.8 404.21L318.8 402.37L318.8 400.53L318.8 398.68L318.8 396.84L318.8 395L319.88 392.31L320.95 392.55L322.03 388.48L323.1 388L323.28 387.97L323.47 382.08L323.65 382.67L323.83 379.65L324.02 381.12L324.2 375.37L324.38 376.32L324.57 372.51L324.75 373.27L324.93 368.39L325.12 369.5L325.3 364.84L325.48 367.81L325.67 361.6L325.85 360.83L326.03 358.44L326.22 359.01L326.4 355L326.73 351.82L327.05 352.18L327.38 347.87L327.71 348.3L328.04 345.86L328.36 346.63L328.69 340.48L329.02 342.86L329.35 336.14L329.67 339.21L330 335L330.45 332.62L330.9 331.8L331.35 328.42L331.8 327.59L332.25 325.16L332.7 324.65L333.15 321.81L333.6 320L334.3 316.5L335.2 319.2L336.9 319L337.73 323.66L338.57 320.61L339.4 325.4L340.2 325.89L341 322L342.16 323L343.32 327.16L344.49 322.56L345.65 328L348.74 327L350.77 327L351.53 331.12L352.3 332L353.55 333.54L354.8 335.4L355.65 337.56L356.5 339.7L357.8 340.13L359.1 343.9L359.93 345.93L360.77 345.92L361.6 349L363 351L363.75 355.71L364.5 354.6L365.25 358.78L366 354.44L366.75 361.11L367.5 362.7L368.15 364.24L368.8 368.32L369.45 367.17L370.1 371.11L370.75 370.41L371.4 372.9L372.45 379.75L373.5 374.48L374.55 379.29L375.6 378.64L376.65 382.72L377.7 383L378.65 383.19L379.6 387.23L380.55 386.81L381.5 390.7L383.2 393.04L384.9 392.37L386.6 394.5L387.55 396.73L388.5 397.65L389.45 403.92L390.4 400.8L392.1 400.15L393.8 404.65L395.5 404.6L397.1 405.15L398.7 407.48L400.3 407.19L401.9 408.5L403.72 410.39L405.55 409.82L407.37 412.2L408.97 418.91L410.57 416.2L412.69 414.66L414.8 418.9L416.6 422.75L418.4 418.42L420.2 421.6L422.43 425.62L424.67 422.8L426.9 423.6L428.7 424.45L430.5 423.51L432.3 424.3L434.53 424.48L436.77 422.96L439 423L440.35 424.73L441.7 426.3L443.77 426.36L445.85 428.27L447.93 427.66L450 428.5L452 428.7L454 428.9L456 429.1L458 429.3L460 429.5" fill="none" stroke="#1aae28" stroke-width="2.4" stroke-linejoin="miter"/>
<path d="M318.8 430L318.8 428.2L318.8 426.4L318.8 424.6L318.8 422.8L318.8 421L318.8 419.2L318.8 417.4L318.8 415.6L318.8 413.8L318.8 412L318.8 410.2L318.8 408.4L318.8 406.6L318.8 404.8L318.8 403L318.8 401.2L318.8 399.4L318.8 397.6L318.8 395.8L318.8 394L318.8 392.2L318.8 390.4L318.8 388.6L318.8 386.8L318.8 385L318.8 383.2L318.8 381.4L318.8 379.6L318.8 377.8L318.8 376L318.8 374.2L318.8 372.4L318.8 370.6L318.8 368.8L318.8 367L318.8 365.2L318.8 363.4L318.8 361.6L318.8 359.8L318.8 358L318.8 356.2L318.8 354.4L318.8 352.6L318.8 350.8L318.8 349L318.8 347.2L318.8 345.4L318.8 343.6L318.8 341.8L318.8 340L319.6 340L319.62 341.4L319.65 346.36L319.67 345.21L319.69 347.64L319.72 347.93L319.74 353.83L319.76 349.18L319.78 355.41L319.81 355L319.83 359.76L319.85 358.86L319.88 363.43L319.9 360.43L319.92 367.55L319.95 366.42L319.97 375.26L319.99 370.21L320.02 375.19L320.04 374.42L320.06 378.46L320.08 374.93L320.11 382.24L320.13 381.43L320.15 384.98L320.18 385.06L320.2 388L323.7 388L323.86 386.66L324.02 381.06L324.18 383.2L324.34 378.82L324.5 378L324.86 377.23L325.21 373.05L325.57 373.43L325.93 369.09L326.29 370.03L326.64 366.75L327 365L327.38 365.33L327.75 360.03L328.12 360.74L328.5 357.5L328.88 359.33L329.25 353.63L329.62 353.28L330 350L330.42 346.13L330.83 346.95L331.25 342.71L331.67 344.39L332.08 339.42L332.5 338L332.95 337.14L333.4 333.35L333.85 335.34L334.3 329.2L335.25 326.22L336.2 325.4L337.8 326.17L339.4 322.7L341.9 321.9L343.2 320.16L344.5 326.1L346.62 328.6L347.68 330.35L348.74 332L349.43 333.6L350.12 337.1L350.81 340.52L351.5 342.2L354 344.7L355.7 347.3L356.54 349L357.38 351.77L358.22 352.38L359.06 356.66L359.9 356.4L360.67 355.85L361.43 360.29L362.2 359.74L362.97 364.29L363.73 364.29L364.5 368L365.22 370.4L365.93 369.29L366.65 378.03L367.37 375.11L368.08 380.05L368.8 379.2L369.65 379.66L370.5 383.21L371.35 379.99L372.2 387.57L373.05 387.19L373.9 390.7L374.55 394.33L375.2 393.71L375.85 396.82L376.5 398.3L378.17 396.44L379.83 399.99L381.5 400.8L382.77 397.61L384.05 404.9L385.33 404.28L386.6 407.2L388.57 410.45L390.53 408.89L392.5 410L394.5 413.67L396.5 411.3L398.5 412.9L400.39 415.02L402.27 413.12L404.16 415.6L406.3 418.32L408.43 414.97L410.57 416.9L412.3 419.93L414.03 416.87L415.77 422.3L417.5 419.6L419.3 418.98L421.1 423.18L422.9 422.3L424.9 421.68L426.9 425L429.13 425.46L431.37 425.31L433.6 426.3L435.76 427.01L437.92 426.25L440.08 426.93L442.24 425.65L444.4 426.3L445.75 424.51L447.1 422.3L449.8 423L451.8 424.37L453.8 426.3L455.87 427.52L457.93 428.63L460 429.8" fill="none" stroke="#f5a634" stroke-width="2.4" stroke-linejoin="miter"/>
<path d="M319.2 388.6H323.9V400H323V404H322V408H319.2Z" fill="#f5a634"/>
</g>
<rect x="318.0" y="263.8" width="195" height="165.8" fill="none" stroke="#222" stroke-width="1.5"/>
<path d="M313 430h5M315.6 424.49h2.4M315.6 418.97h2.4M315.6 413.46h2.4M315.6 407.94h2.4M313 402.43h5M315.6 396.92h2.4M315.6 391.4h2.4M315.6 385.89h2.4M315.6 380.37h2.4M313 374.86h5M315.6 369.35h2.4M315.6 363.83h2.4M315.6 358.32h2.4M315.6 352.8h2.4M313 347.29h5M315.6 341.78h2.4M315.6 336.26h2.4M315.6 330.75h2.4M315.6 325.23h2.4M313 319.72h5M315.6 314.21h2.4M315.6 308.69h2.4M315.6 303.18h2.4M315.6 297.66h2.4M313 292.15h5M315.6 286.64h2.4M315.6 281.12h2.4M315.6 275.61h2.4M315.6 270.09h2.4M313 264.58h5M318.7 429.6v3.2M331.56 429.6v3.2M344.42 429.6v3.2M357.28 429.6v3.2M370.14 429.6v3.2M383 429.6v3.2M395.86 429.6v3.2M408.72 429.6v3.2M421.58 429.6v3.2M434.44 429.6v3.2M447.3 429.6v3.2M460.16 429.6v3.2M473.02 429.6v3.2M485.88 429.6v3.2M498.74 429.6v3.2M511.6 429.6v3.2" stroke="#000" stroke-width="1.3" fill="none"/>
<text x="0" y="0" font-size="9" text-anchor="middle" transform="translate(311.8 430) rotate(-90) scale(0.8 1)" stroke="#000" stroke-width="0.5">0</text>
<text x="0" y="0" font-size="9" text-anchor="middle" transform="translate(311.8 402.43) rotate(-90) scale(0.8 1)" stroke="#000" stroke-width="0.5">10</text>
<text x="0" y="0" font-size="9" text-anchor="middle" transform="translate(311.8 374.86) rotate(-90) scale(0.8 1)" stroke="#000" stroke-width="0.5">20</text>
<text x="0" y="0" font-size="9" text-anchor="middle" transform="translate(311.8 347.29) rotate(-90) scale(0.8 1)" stroke="#000" stroke-width="0.5">30</text>
<text x="0" y="0" font-size="9" text-anchor="middle" transform="translate(311.8 319.72) rotate(-90) scale(0.8 1)" stroke="#000" stroke-width="0.5">40</text>
<text x="0" y="0" font-size="9" text-anchor="middle" transform="translate(311.8 292.15) rotate(-90) scale(0.8 1)" stroke="#000" stroke-width="0.5">50</text>
<text x="0" y="0" font-size="9" text-anchor="middle" transform="translate(311.8 264.58) rotate(-90) scale(0.8 1)" stroke="#000" stroke-width="0.5">60</text>
<text x="0" y="0" font-size="9.6" text-anchor="middle" transform="translate(318.7 440.8) scale(0.8 1)" stroke="#000" stroke-width="0.5">0</text>
<text x="0" y="0" font-size="9.6" text-anchor="middle" transform="translate(383 440.8) scale(0.8 1)" stroke="#000" stroke-width="0.5">200</text>
<text x="0" y="0" font-size="9.6" text-anchor="middle" transform="translate(447.3 440.8) scale(0.8 1)" stroke="#000" stroke-width="0.5">400</text>
<text x="0" y="0" font-size="9.6" text-anchor="middle" transform="translate(511.6 440.8) scale(0.8 1)" stroke="#000" stroke-width="0.5">600</text>
<text x="319.6" y="276.8" font-size="16" font-weight="bold" stroke="#000" stroke-width="0.3">S245A</text>
<text x="0" y="0" font-size="14" text-anchor="middle" transform="translate(291 365) rotate(-90)" stroke="#000" stroke-width="0.35">Counts</text>
<text x="0" y="0" font-size="14.5" transform="translate(401.8 464.6) scale(0.92 1)" stroke="#000" stroke-width="0.3">FL-1</text>
<text x="444.6" y="55" font-size="12.3" stroke="#000" stroke-width="0.3">Time (min)</text>
<rect x="444.6" y="55.6" width="60" height="1.2" fill="#000"/>
<text x="466.3" y="72.1" font-size="13.4" text-anchor="middle" stroke="#000" stroke-width="0.3">0</text>
<rect x="481.6" y="61.6" width="12.8" height="12.8" fill="#4410f0" stroke="#2a0890" stroke-width="0.8"/>
<text x="466.3" y="90.4" font-size="13.4" text-anchor="middle" stroke="#000" stroke-width="0.3">1</text>
<rect x="481.2" y="85.4" width="14.8" height="2.2" fill="#ee14e6"/>
<text x="466.3" y="108.6" font-size="13.4" text-anchor="middle" stroke="#000" stroke-width="0.3">2.5</text>
<rect x="481.2" y="102.5" width="14.8" height="2.2" fill="#1f6ad8"/>
<text x="466.3" y="124.1" font-size="13.4" text-anchor="middle" stroke="#000" stroke-width="0.3">5.0</text>
<rect x="481.2" y="118" width="14.8" height="2.2" fill="#1aae28"/>
<text x="466.3" y="138.5" font-size="13.4" text-anchor="middle" stroke="#000" stroke-width="0.3">10</text>
<rect x="481.2" y="132.2" width="14.8" height="2.2" fill="#f5a634"/>
</g></svg>
</body></html>
